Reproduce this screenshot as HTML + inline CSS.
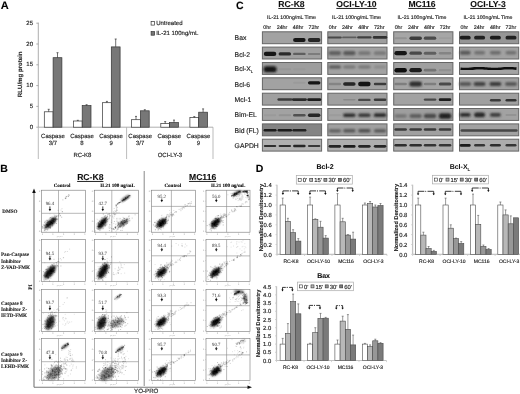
<!DOCTYPE html>
<html><head><meta charset="utf-8"><style>
html,body{margin:0;padding:0;background:#fff;width:520px;height:394px;overflow:hidden}
svg{display:block;text-rendering:geometricPrecision}
</style></head><body>
<svg width="520" height="394" viewBox="0 0 520 394">
<defs>
<filter id="b1" x="-30%" y="-80%" width="160%" height="260%"><feGaussianBlur stdDeviation="0.7"/></filter>
<filter id="b3" x="-30%" y="-100%" width="160%" height="300%"><feGaussianBlur stdDeviation="1.0"/></filter>
<filter id="b2" x="-50%" y="-50%" width="200%" height="200%"><feGaussianBlur stdDeviation="1.2"/></filter>
<filter id="soft" x="0" y="0" width="100%" height="100%"><feGaussianBlur stdDeviation="0.4"/></filter>
</defs>
<g filter="url(#soft)">
<rect width="520" height="394" fill="#fff"/>
<text x="0.8" y="9.2" font-size="11" text-anchor="start" font-weight="bold" fill="#000" stroke="#000" stroke-width="0.1" font-family='"Liberation Sans", sans-serif' >A</text>
<line x1="38.3" y1="22.6" x2="38.3" y2="127.2" stroke="#999" stroke-width="0.8" />
<line x1="38.3" y1="127.2" x2="213" y2="127.2" stroke="#999" stroke-width="0.8" />
<line x1="36.3" y1="127.2" x2="38.3" y2="127.2" stroke="#999" stroke-width="0.8" />
<text x="33" y="128.7" font-size="6" text-anchor="end" font-weight="normal" fill="#222" stroke="#222" stroke-width="0.15" font-family='"Liberation Sans", sans-serif' >0</text>
<line x1="36.3" y1="106.4" x2="38.3" y2="106.4" stroke="#999" stroke-width="0.8" />
<text x="33" y="107.9" font-size="6" text-anchor="end" font-weight="normal" fill="#222" stroke="#222" stroke-width="0.15" font-family='"Liberation Sans", sans-serif' >5</text>
<line x1="36.3" y1="85.6" x2="38.3" y2="85.6" stroke="#999" stroke-width="0.8" />
<text x="33" y="87.1" font-size="6" text-anchor="end" font-weight="normal" fill="#222" stroke="#222" stroke-width="0.15" font-family='"Liberation Sans", sans-serif' >10</text>
<line x1="36.3" y1="64.8" x2="38.3" y2="64.8" stroke="#999" stroke-width="0.8" />
<text x="33" y="66.3" font-size="6" text-anchor="end" font-weight="normal" fill="#222" stroke="#222" stroke-width="0.15" font-family='"Liberation Sans", sans-serif' >15</text>
<line x1="36.3" y1="44" x2="38.3" y2="44" stroke="#999" stroke-width="0.8" />
<text x="33" y="45.5" font-size="6" text-anchor="end" font-weight="normal" fill="#222" stroke="#222" stroke-width="0.15" font-family='"Liberation Sans", sans-serif' >20</text>
<line x1="36.3" y1="23.2" x2="38.3" y2="23.2" stroke="#999" stroke-width="0.8" />
<text x="33" y="24.7" font-size="6" text-anchor="end" font-weight="normal" fill="#222" stroke="#222" stroke-width="0.15" font-family='"Liberation Sans", sans-serif' >25</text>
<line x1="38.3" y1="127.2" x2="38.3" y2="159" stroke="#aaa" stroke-width="0.8" />
<line x1="126.6" y1="127.2" x2="126.6" y2="159" stroke="#aaa" stroke-width="0.8" />
<line x1="213" y1="127.2" x2="213" y2="159" stroke="#aaa" stroke-width="0.8" />
<text x="0" y="0" font-size="6.1" text-anchor="middle" font-weight="bold" fill="#222" stroke="#222" stroke-width="0.1" font-family='"Liberation Sans", sans-serif' transform="translate(22.1 74.3) rotate(-90)">RLU/mg protein</text>
<rect x="44.3" y="111.8" width="8.8" height="15.4" fill="#fff" stroke="#333" stroke-width="0.7" />
<line x1="48.7" y1="111.8" x2="48.7" y2="109.3" stroke="#333" stroke-width="0.7" />
<line x1="47.7" y1="109.3" x2="49.7" y2="109.3" stroke="#333" stroke-width="0.7" />
<rect x="53.1" y="57.7" width="8.8" height="69.5" fill="#777777" stroke="#333" stroke-width="0.7" />
<line x1="57.5" y1="57.7" x2="57.5" y2="52.7" stroke="#333" stroke-width="0.7" />
<line x1="56.5" y1="52.7" x2="58.5" y2="52.7" stroke="#333" stroke-width="0.7" />
<rect x="73.4" y="121" width="8.8" height="6.2" fill="#fff" stroke="#333" stroke-width="0.7" />
<line x1="77.8" y1="121" x2="77.8" y2="120.3" stroke="#333" stroke-width="0.7" />
<line x1="76.8" y1="120.3" x2="78.8" y2="120.3" stroke="#333" stroke-width="0.7" />
<rect x="82.2" y="105.6" width="8.8" height="21.6" fill="#777777" stroke="#333" stroke-width="0.7" />
<line x1="86.6" y1="105.6" x2="86.6" y2="104.7" stroke="#333" stroke-width="0.7" />
<line x1="85.6" y1="104.7" x2="87.6" y2="104.7" stroke="#333" stroke-width="0.7" />
<rect x="102.5" y="102.7" width="8.8" height="24.5" fill="#fff" stroke="#333" stroke-width="0.7" />
<line x1="106.9" y1="102.7" x2="106.9" y2="101.4" stroke="#333" stroke-width="0.7" />
<line x1="105.9" y1="101.4" x2="107.9" y2="101.4" stroke="#333" stroke-width="0.7" />
<rect x="111.3" y="46.9" width="8.8" height="80.3" fill="#777777" stroke="#333" stroke-width="0.7" />
<line x1="115.7" y1="46.9" x2="115.7" y2="39" stroke="#333" stroke-width="0.7" />
<line x1="114.7" y1="39" x2="116.7" y2="39" stroke="#333" stroke-width="0.7" />
<rect x="131.6" y="119.7" width="8.8" height="7.5" fill="#fff" stroke="#333" stroke-width="0.7" />
<line x1="136" y1="119.7" x2="136" y2="116.4" stroke="#333" stroke-width="0.7" />
<line x1="135" y1="116.4" x2="137" y2="116.4" stroke="#333" stroke-width="0.7" />
<rect x="140.4" y="110.8" width="8.8" height="16.4" fill="#777777" stroke="#333" stroke-width="0.7" />
<line x1="144.8" y1="110.8" x2="144.8" y2="109.7" stroke="#333" stroke-width="0.7" />
<line x1="143.8" y1="109.7" x2="145.8" y2="109.7" stroke="#333" stroke-width="0.7" />
<rect x="160.8" y="123.5" width="8.8" height="3.7" fill="#fff" stroke="#333" stroke-width="0.7" />
<line x1="165.2" y1="123.5" x2="165.2" y2="121.6" stroke="#333" stroke-width="0.7" />
<line x1="164.2" y1="121.6" x2="166.2" y2="121.6" stroke="#333" stroke-width="0.7" />
<rect x="169.6" y="122.6" width="8.8" height="4.6" fill="#777777" stroke="#333" stroke-width="0.7" />
<line x1="174" y1="122.6" x2="174" y2="120.1" stroke="#333" stroke-width="0.7" />
<line x1="173" y1="120.1" x2="175" y2="120.1" stroke="#333" stroke-width="0.7" />
<rect x="189.9" y="117.6" width="8.8" height="9.6" fill="#fff" stroke="#333" stroke-width="0.7" />
<line x1="194.3" y1="117.6" x2="194.3" y2="116.6" stroke="#333" stroke-width="0.7" />
<line x1="193.3" y1="116.6" x2="195.3" y2="116.6" stroke="#333" stroke-width="0.7" />
<rect x="198.7" y="112.2" width="8.8" height="15" fill="#777777" stroke="#333" stroke-width="0.7" />
<line x1="203.1" y1="112.2" x2="203.1" y2="108.9" stroke="#333" stroke-width="0.7" />
<line x1="202.1" y1="108.9" x2="204.1" y2="108.9" stroke="#333" stroke-width="0.7" />
<text x="52.9" y="138.2" font-size="6" text-anchor="middle" font-weight="normal" fill="#222" stroke="#222" stroke-width="0.15" font-family='"Liberation Sans", sans-serif' >Caspase</text>
<text x="52.9" y="145.3" font-size="6" text-anchor="middle" font-weight="normal" fill="#222" stroke="#222" stroke-width="0.15" font-family='"Liberation Sans", sans-serif' >3/7</text>
<text x="82" y="138.2" font-size="6" text-anchor="middle" font-weight="normal" fill="#222" stroke="#222" stroke-width="0.15" font-family='"Liberation Sans", sans-serif' >Caspase</text>
<text x="82" y="145.3" font-size="6" text-anchor="middle" font-weight="normal" fill="#222" stroke="#222" stroke-width="0.15" font-family='"Liberation Sans", sans-serif' >8</text>
<text x="111.1" y="138.2" font-size="6" text-anchor="middle" font-weight="normal" fill="#222" stroke="#222" stroke-width="0.15" font-family='"Liberation Sans", sans-serif' >Caspase</text>
<text x="111.1" y="145.3" font-size="6" text-anchor="middle" font-weight="normal" fill="#222" stroke="#222" stroke-width="0.15" font-family='"Liberation Sans", sans-serif' >9</text>
<text x="140.2" y="138.2" font-size="6" text-anchor="middle" font-weight="normal" fill="#222" stroke="#222" stroke-width="0.15" font-family='"Liberation Sans", sans-serif' >Caspase</text>
<text x="140.2" y="145.3" font-size="6" text-anchor="middle" font-weight="normal" fill="#222" stroke="#222" stroke-width="0.15" font-family='"Liberation Sans", sans-serif' >3/7</text>
<text x="169.3" y="138.2" font-size="6" text-anchor="middle" font-weight="normal" fill="#222" stroke="#222" stroke-width="0.15" font-family='"Liberation Sans", sans-serif' >Caspase</text>
<text x="169.3" y="145.3" font-size="6" text-anchor="middle" font-weight="normal" fill="#222" stroke="#222" stroke-width="0.15" font-family='"Liberation Sans", sans-serif' >8</text>
<text x="198.4" y="138.2" font-size="6" text-anchor="middle" font-weight="normal" fill="#222" stroke="#222" stroke-width="0.15" font-family='"Liberation Sans", sans-serif' >Caspase</text>
<text x="198.4" y="145.3" font-size="6" text-anchor="middle" font-weight="normal" fill="#222" stroke="#222" stroke-width="0.15" font-family='"Liberation Sans", sans-serif' >9</text>
<text x="82.4" y="156.8" font-size="6" text-anchor="middle" font-weight="normal" fill="#222" stroke="#222" stroke-width="0.15" font-family='"Liberation Sans", sans-serif' >RC-K8</text>
<text x="169.8" y="156.8" font-size="6" text-anchor="middle" font-weight="normal" fill="#222" stroke="#222" stroke-width="0.15" font-family='"Liberation Sans", sans-serif' >OCI-LY-3</text>
<rect x="151.1" y="21.5" width="3.5" height="3.6" fill="#fff" stroke="#333" stroke-width="0.7" />
<text x="156.2" y="25.3" font-size="6" text-anchor="start" font-weight="normal" fill="#222" stroke="#222" stroke-width="0.15" font-family='"Liberation Sans", sans-serif' >Untreated</text>
<rect x="151.1" y="31.6" width="3.5" height="3.6" fill="#777777" stroke="#333" stroke-width="0.7" />
<text x="156.2" y="35.4" font-size="6.0" text-anchor="start" font-weight="normal" fill="#222" stroke="#222" stroke-width="0.15" font-family='"Liberation Sans", sans-serif' >IL-21 100ng/mL</text>
<text x="236" y="8.9" font-size="10.5" text-anchor="start" font-weight="bold" fill="#000" stroke="#000" stroke-width="0.1" font-family='"Liberation Sans", sans-serif' >C</text>
<text x="291.5" y="7" font-size="8.6" text-anchor="middle" font-weight="bold" fill="#111" stroke="#111" stroke-width="0.1" font-family='"Liberation Sans", sans-serif' text-decoration="underline">RC-K8</text>
<text x="291.5" y="19.1" font-size="5.2" text-anchor="middle" font-weight="normal" fill="#222" stroke="#222" stroke-width="0.15" font-family='"Liberation Sans", sans-serif' >IL-21 100ng/mL Time</text>
<text x="267.2" y="28.7" font-size="5.3" text-anchor="middle" font-weight="normal" fill="#222" stroke="#222" stroke-width="0.15" font-family='"Liberation Sans", sans-serif' >0hr</text>
<text x="282" y="28.7" font-size="5.3" text-anchor="middle" font-weight="normal" fill="#222" stroke="#222" stroke-width="0.15" font-family='"Liberation Sans", sans-serif' >24hr</text>
<text x="298.1" y="28.7" font-size="5.3" text-anchor="middle" font-weight="normal" fill="#222" stroke="#222" stroke-width="0.15" font-family='"Liberation Sans", sans-serif' >48hr</text>
<text x="313.8" y="28.7" font-size="5.3" text-anchor="middle" font-weight="normal" fill="#222" stroke="#222" stroke-width="0.15" font-family='"Liberation Sans", sans-serif' >72hr</text>
<rect x="262.4" y="31.8" width="59.2" height="11.9" fill="rgb(162,162,162)" stroke="#666" stroke-width="1.0" />
<rect x="293.1" y="38" width="12.5" height="4.1" rx="2" fill="rgb(22,22,22)" filter="url(#b1)"/>
<rect x="307.9" y="38.1" width="12.5" height="3.8" rx="1.9" fill="rgb(37,37,37)" filter="url(#b1)"/>
<rect x="262.4" y="47.1" width="59.2" height="11.9" fill="rgb(160,160,160)" stroke="#666" stroke-width="1.0" />
<rect x="263.8" y="51.8" width="12.5" height="4.2" rx="2.1" fill="rgb(22,22,22)" filter="url(#b1)"/>
<rect x="278.6" y="52.2" width="12.5" height="3.4" rx="1.7" fill="rgb(43,43,43)" filter="url(#b1)"/>
<rect x="293.1" y="52.7" width="12.5" height="2.4" rx="1.2" fill="rgb(94,94,94)" filter="url(#b1)"/>
<rect x="307.9" y="52.9" width="12.5" height="2" rx="1" fill="rgb(123,123,123)" filter="url(#b1)"/>
<rect x="262.4" y="62.5" width="59.2" height="11.9" fill="rgb(158,158,158)" stroke="#666" stroke-width="1.0" />
<rect x="263.6" y="66.2" width="13" height="6" rx="2.5" fill="rgb(22,22,22)" filter="url(#b3)"/>
<rect x="278.6" y="68.2" width="12.5" height="2" rx="1" fill="rgb(150,150,150)" filter="url(#b1)"/>
<rect x="293.1" y="68.2" width="12.5" height="2" rx="1" fill="rgb(153,153,153)" filter="url(#b1)"/>
<rect x="262.4" y="77.8" width="59.2" height="11.9" fill="rgb(162,162,162)" stroke="#666" stroke-width="1.0" />
<rect x="293.1" y="81.8" width="12.5" height="2" rx="1" fill="rgb(154,154,154)" filter="url(#b1)"/>
<rect x="307.9" y="81.2" width="12.5" height="3.2" rx="1.6" fill="rgb(22,22,22)" filter="url(#b1)"/>
<rect x="262.4" y="93.2" width="59.2" height="11.9" fill="rgb(160,160,160)" stroke="#666" stroke-width="1.0" />
<rect x="277.4" y="98.3" width="15" height="2.5" rx="1.3" fill="rgb(58,58,58)" filter="url(#b1)"/>
<rect x="291.9" y="98.2" width="15" height="2.7" rx="1.4" fill="rgb(43,43,43)" filter="url(#b1)"/>
<rect x="307.2" y="98.2" width="14" height="2.9" rx="1.4" fill="rgb(29,29,29)" filter="url(#b1)"/>
<rect x="262.4" y="108.5" width="59.2" height="11.9" fill="rgb(162,162,162)" stroke="#666" stroke-width="1.0" />
<rect x="263.8" y="114.2" width="12.5" height="2" rx="1" fill="rgb(154,154,154)" filter="url(#b1)"/>
<rect x="278.6" y="114.2" width="12.5" height="2" rx="1" fill="rgb(147,147,147)" filter="url(#b1)"/>
<rect x="293.1" y="114" width="12.5" height="2.4" rx="1.2" fill="rgb(81,81,81)" filter="url(#b1)"/>
<rect x="307.9" y="113.5" width="12.5" height="3.4" rx="1.7" fill="rgb(37,37,37)" filter="url(#b1)"/>
<rect x="262.4" y="123.9" width="59.2" height="11.9" fill="rgb(132,132,132)" stroke="#666" stroke-width="1.0" />
<rect x="263.6" y="129" width="13" height="2.6" rx="1.3" fill="rgb(26,26,26)" filter="url(#b1)"/>
<rect x="277.6" y="129" width="14.5" height="2.6" rx="1.3" fill="rgb(26,26,26)" filter="url(#b1)"/>
<rect x="292.4" y="129.1" width="14" height="2.4" rx="1.2" fill="rgb(32,32,32)" filter="url(#b1)"/>
<rect x="262.4" y="139.2" width="59.2" height="11.9" fill="rgb(176,176,176)" stroke="#666" stroke-width="1.0" />
<rect x="263.8" y="144.9" width="12.5" height="2.2" rx="1.1" fill="rgb(47,47,47)" filter="url(#b1)"/>
<rect x="278.6" y="144.9" width="12.5" height="2.2" rx="1.1" fill="rgb(47,47,47)" filter="url(#b1)"/>
<rect x="293.1" y="144.8" width="12.5" height="2.4" rx="1.2" fill="rgb(39,39,39)" filter="url(#b1)"/>
<rect x="307.9" y="144.9" width="12.5" height="2.2" rx="1.1" fill="rgb(55,55,55)" filter="url(#b1)"/>
<text x="356.5" y="7" font-size="8.6" text-anchor="middle" font-weight="bold" fill="#111" stroke="#111" stroke-width="0.1" font-family='"Liberation Sans", sans-serif' text-decoration="underline">OCI-LY-10</text>
<text x="356.5" y="19.1" font-size="5.2" text-anchor="middle" font-weight="normal" fill="#222" stroke="#222" stroke-width="0.15" font-family='"Liberation Sans", sans-serif' >IL-21 100ng/mL Time</text>
<text x="332.6" y="28.7" font-size="5.3" text-anchor="middle" font-weight="normal" fill="#222" stroke="#222" stroke-width="0.15" font-family='"Liberation Sans", sans-serif' >0hr</text>
<text x="347.4" y="28.7" font-size="5.3" text-anchor="middle" font-weight="normal" fill="#222" stroke="#222" stroke-width="0.15" font-family='"Liberation Sans", sans-serif' >24hr</text>
<text x="363.5" y="28.7" font-size="5.3" text-anchor="middle" font-weight="normal" fill="#222" stroke="#222" stroke-width="0.15" font-family='"Liberation Sans", sans-serif' >48hr</text>
<text x="379.2" y="28.7" font-size="5.3" text-anchor="middle" font-weight="normal" fill="#222" stroke="#222" stroke-width="0.15" font-family='"Liberation Sans", sans-serif' >72hr</text>
<rect x="327.8" y="31.8" width="59.2" height="11.9" fill="rgb(158,158,158)" stroke="#666" stroke-width="1.0" />
<rect x="327.8" y="36.4" width="14" height="2" rx="1" fill="rgb(72,72,72)" filter="url(#b1)"/>
<rect x="342.1" y="36.5" width="14.5" height="1.8" rx="0.9" fill="rgb(93,93,93)" filter="url(#b1)"/>
<rect x="357.1" y="36.2" width="14.5" height="2.3" rx="1.1" fill="rgb(65,65,65)" filter="url(#b1)"/>
<rect x="372.8" y="36" width="14.5" height="2.8" rx="1.4" fill="rgb(50,50,50)" filter="url(#b1)"/>
<rect x="327.8" y="47.1" width="59.2" height="11.9" fill="rgb(162,162,162)" stroke="#666" stroke-width="1.0" />
<rect x="328.6" y="51.1" width="12.5" height="4.2" rx="2.1" fill="rgb(95,95,95)" filter="url(#b3)"/>
<rect x="343.1" y="51.1" width="12.5" height="4.2" rx="2.1" fill="rgb(88,88,88)" filter="url(#b3)"/>
<rect x="358.1" y="51.3" width="12.5" height="3.8" rx="1.9" fill="rgb(117,117,117)" filter="url(#b3)"/>
<rect x="373.8" y="51.3" width="12.5" height="3.8" rx="1.9" fill="rgb(120,120,120)" filter="url(#b3)"/>
<rect x="327.8" y="62.5" width="59.2" height="11.9" fill="rgb(162,162,162)" stroke="#666" stroke-width="1.0" />
<rect x="328.6" y="65.4" width="12.5" height="3.2" rx="1.6" fill="rgb(88,88,88)" filter="url(#b3)"/>
<rect x="343.1" y="65.5" width="12.5" height="3" rx="1.5" fill="rgb(117,117,117)" filter="url(#b3)"/>
<rect x="358.1" y="65.5" width="12.5" height="3" rx="1.5" fill="rgb(117,117,117)" filter="url(#b3)"/>
<rect x="373.8" y="65.5" width="12.5" height="3" rx="1.5" fill="rgb(139,139,139)" filter="url(#b3)"/>
<rect x="327.8" y="77.8" width="59.2" height="11.9" fill="rgb(162,162,162)" stroke="#666" stroke-width="1.0" />
<rect x="328.6" y="82.8" width="12.5" height="2.4" rx="1.2" fill="rgb(132,132,132)" filter="url(#b1)"/>
<rect x="343.1" y="82.2" width="12.5" height="3.6" rx="1.8" fill="rgb(37,37,37)" filter="url(#b1)"/>
<rect x="358.1" y="81.8" width="12.5" height="4.4" rx="2.2" fill="rgb(22,22,22)" filter="url(#b1)"/>
<rect x="373.8" y="82.7" width="12.5" height="2.6" rx="1.3" fill="rgb(59,59,59)" filter="url(#b1)"/>
<rect x="327.8" y="93.2" width="59.2" height="11.9" fill="rgb(160,160,160)" stroke="#666" stroke-width="1.0" />
<rect x="343.1" y="99.1" width="12.5" height="1.5" rx="0.8" fill="rgb(138,138,138)" filter="url(#b1)"/>
<rect x="358.1" y="98.7" width="12.5" height="2.4" rx="1.2" fill="rgb(73,73,73)" filter="url(#b1)"/>
<rect x="373.8" y="98.6" width="12.5" height="2.5" rx="1.3" fill="rgb(58,58,58)" filter="url(#b1)"/>
<rect x="327.8" y="108.5" width="59.2" height="11.9" fill="rgb(164,164,164)" stroke="#666" stroke-width="1.0" />
<rect x="328.6" y="114.2" width="12.5" height="2" rx="1" fill="rgb(156,156,156)" filter="url(#b1)"/>
<rect x="343.1" y="113.4" width="12.5" height="3.6" rx="1.8" fill="rgb(44,44,44)" filter="url(#b3)"/>
<rect x="358.1" y="113.5" width="12.5" height="3.4" rx="1.7" fill="rgb(52,52,52)" filter="url(#b3)"/>
<rect x="373.8" y="113.3" width="12.5" height="3.8" rx="1.9" fill="rgb(44,44,44)" filter="url(#b3)"/>
<rect x="327.8" y="123.9" width="59.2" height="11.9" fill="rgb(160,160,160)" stroke="#666" stroke-width="1.0" />
<rect x="328.6" y="129.2" width="12.5" height="3.2" rx="1.6" fill="rgb(94,94,94)" filter="url(#b3)"/>
<rect x="343.1" y="129.1" width="12.5" height="3.4" rx="1.7" fill="rgb(87,87,87)" filter="url(#b3)"/>
<rect x="358.1" y="129.1" width="12.5" height="3.4" rx="1.7" fill="rgb(80,80,80)" filter="url(#b3)"/>
<rect x="373.8" y="129.2" width="12.5" height="3.2" rx="1.6" fill="rgb(87,87,87)" filter="url(#b3)"/>
<rect x="327.8" y="139.2" width="59.2" height="11.9" fill="rgb(174,174,174)" stroke="#666" stroke-width="1.0" />
<rect x="328.6" y="144.9" width="12.5" height="2.8" rx="1.4" fill="rgb(38,38,38)" filter="url(#b1)"/>
<rect x="343.1" y="144.9" width="12.5" height="2.9" rx="1.4" fill="rgb(30,30,30)" filter="url(#b1)"/>
<rect x="358.1" y="144.9" width="12.5" height="2.8" rx="1.4" fill="rgb(38,38,38)" filter="url(#b1)"/>
<rect x="373.8" y="144.9" width="12.5" height="2.8" rx="1.4" fill="rgb(38,38,38)" filter="url(#b1)"/>
<text x="422" y="7" font-size="8.6" text-anchor="middle" font-weight="bold" fill="#111" stroke="#111" stroke-width="0.1" font-family='"Liberation Sans", sans-serif' text-decoration="underline">MC116</text>
<text x="422" y="19.1" font-size="5.2" text-anchor="middle" font-weight="normal" fill="#222" stroke="#222" stroke-width="0.15" font-family='"Liberation Sans", sans-serif' >IL-21 100ng/mL Time</text>
<text x="398.5" y="28.7" font-size="5.3" text-anchor="middle" font-weight="normal" fill="#222" stroke="#222" stroke-width="0.15" font-family='"Liberation Sans", sans-serif' >0hr</text>
<text x="413.3" y="28.7" font-size="5.3" text-anchor="middle" font-weight="normal" fill="#222" stroke="#222" stroke-width="0.15" font-family='"Liberation Sans", sans-serif' >24hr</text>
<text x="429.4" y="28.7" font-size="5.3" text-anchor="middle" font-weight="normal" fill="#222" stroke="#222" stroke-width="0.15" font-family='"Liberation Sans", sans-serif' >48hr</text>
<text x="445.1" y="28.7" font-size="5.3" text-anchor="middle" font-weight="normal" fill="#222" stroke="#222" stroke-width="0.15" font-family='"Liberation Sans", sans-serif' >72hr</text>
<rect x="393.7" y="31.8" width="59.2" height="11.9" fill="rgb(166,166,166)" stroke="#666" stroke-width="1.0" />
<rect x="394.4" y="37.2" width="12.5" height="2" rx="1" fill="rgb(147,147,147)" filter="url(#b1)"/>
<rect x="409.4" y="36.5" width="12.5" height="3.4" rx="1.7" fill="rgb(60,60,60)" filter="url(#b1)"/>
<rect x="423.8" y="36.6" width="12.5" height="3.2" rx="1.6" fill="rgb(75,75,75)" filter="url(#b1)"/>
<rect x="438.8" y="37.3" width="12.5" height="1.8" rx="0.9" fill="rgb(158,158,158)" filter="url(#b1)"/>
<rect x="393.7" y="47.1" width="59.2" height="11.9" fill="rgb(162,162,162)" stroke="#666" stroke-width="1.0" />
<rect x="394.4" y="51.1" width="12.5" height="4.2" rx="2.1" fill="rgb(22,22,22)" filter="url(#b1)"/>
<rect x="409.4" y="51.6" width="12.5" height="3.2" rx="1.6" fill="rgb(73,73,73)" filter="url(#b1)"/>
<rect x="423.8" y="51.7" width="12.5" height="3" rx="1.5" fill="rgb(95,95,95)" filter="url(#b1)"/>
<rect x="438.8" y="51.9" width="12.5" height="2.6" rx="1.3" fill="rgb(132,132,132)" filter="url(#b1)"/>
<rect x="393.7" y="62.5" width="59.2" height="11.9" fill="rgb(160,160,160)" stroke="#666" stroke-width="1.0" />
<rect x="394.4" y="67.9" width="12.5" height="4.6" rx="2.3" fill="rgb(15,15,15)" filter="url(#b1)"/>
<rect x="409.4" y="68" width="12.5" height="4.3" rx="2.2" fill="rgb(29,29,29)" filter="url(#b1)"/>
<rect x="423.8" y="68.8" width="12.5" height="2.7" rx="1.4" fill="rgb(116,116,116)" filter="url(#b1)"/>
<rect x="438.8" y="69.1" width="12.5" height="2.2" rx="1.1" fill="rgb(145,145,145)" filter="url(#b1)"/>
<rect x="393.7" y="77.8" width="59.2" height="11.9" fill="rgb(164,164,164)" stroke="#666" stroke-width="1.0" />
<rect x="394.4" y="82.7" width="12.5" height="2.6" rx="1.3" fill="rgb(126,126,126)" filter="url(#b1)"/>
<rect x="409.4" y="81.5" width="12.5" height="5" rx="2.5" fill="rgb(44,44,44)" filter="url(#b3)"/>
<rect x="423.8" y="82.8" width="12.5" height="2.4" rx="1.2" fill="rgb(126,126,126)" filter="url(#b1)"/>
<rect x="438.8" y="82.5" width="12.5" height="3" rx="1.5" fill="rgb(74,74,74)" filter="url(#b1)"/>
<rect x="393.7" y="93.2" width="59.2" height="11.9" fill="rgb(162,162,162)" stroke="#666" stroke-width="1.0" />
<rect x="423.8" y="98.4" width="12.5" height="2.4" rx="1.2" fill="rgb(73,73,73)" filter="url(#b1)"/>
<rect x="438.8" y="98.2" width="12.5" height="2.9" rx="1.4" fill="rgb(29,29,29)" filter="url(#b1)"/>
<rect x="393.7" y="108.5" width="59.2" height="11.9" fill="rgb(158,158,158)" stroke="#666" stroke-width="1.0" />
<rect x="394.4" y="114.2" width="12.5" height="3.5" rx="1.8" fill="rgb(115,115,115)" filter="url(#b3)"/>
<rect x="409.4" y="114" width="12.5" height="4" rx="2" fill="rgb(93,93,93)" filter="url(#b3)"/>
<rect x="423.8" y="113.8" width="12.5" height="4.5" rx="2.2" fill="rgb(72,72,72)" filter="url(#b3)"/>
<rect x="438.8" y="113.2" width="12.5" height="5.5" rx="2.5" fill="rgb(36,36,36)" filter="url(#b3)"/>
<rect x="393.7" y="123.9" width="59.2" height="11.9" fill="rgb(160,160,160)" stroke="#666" stroke-width="1.0" />
<rect x="394.4" y="128.3" width="12.5" height="2.5" rx="1.3" fill="rgb(58,58,58)" filter="url(#b1)"/>
<rect x="409.4" y="128.3" width="12.5" height="2.5" rx="1.3" fill="rgb(58,58,58)" filter="url(#b1)"/>
<rect x="423.8" y="128.3" width="12.5" height="2.5" rx="1.3" fill="rgb(58,58,58)" filter="url(#b1)"/>
<rect x="438.8" y="128.3" width="12.5" height="2.5" rx="1.3" fill="rgb(58,58,58)" filter="url(#b1)"/>
<rect x="393.7" y="139.2" width="59.2" height="11.9" fill="rgb(172,172,172)" stroke="#666" stroke-width="1.0" />
<rect x="394.4" y="143.9" width="12.5" height="2.7" rx="1.4" fill="rgb(46,46,46)" filter="url(#b1)"/>
<rect x="409.4" y="143.9" width="12.5" height="2.7" rx="1.4" fill="rgb(46,46,46)" filter="url(#b1)"/>
<rect x="423.8" y="144" width="12.5" height="2.6" rx="1.3" fill="rgb(54,54,54)" filter="url(#b1)"/>
<rect x="438.8" y="144" width="12.5" height="2.6" rx="1.3" fill="rgb(54,54,54)" filter="url(#b1)"/>
<text x="488" y="7" font-size="8.6" text-anchor="middle" font-weight="bold" fill="#111" stroke="#111" stroke-width="0.1" font-family='"Liberation Sans", sans-serif' text-decoration="underline">OCI-LY-3</text>
<text x="488" y="19.1" font-size="5.2" text-anchor="middle" font-weight="normal" fill="#222" stroke="#222" stroke-width="0.15" font-family='"Liberation Sans", sans-serif' >IL-21 100ng/mL Time</text>
<text x="464.3" y="28.7" font-size="5.3" text-anchor="middle" font-weight="normal" fill="#222" stroke="#222" stroke-width="0.15" font-family='"Liberation Sans", sans-serif' >0hr</text>
<text x="479.1" y="28.7" font-size="5.3" text-anchor="middle" font-weight="normal" fill="#222" stroke="#222" stroke-width="0.15" font-family='"Liberation Sans", sans-serif' >24hr</text>
<text x="495.2" y="28.7" font-size="5.3" text-anchor="middle" font-weight="normal" fill="#222" stroke="#222" stroke-width="0.15" font-family='"Liberation Sans", sans-serif' >48hr</text>
<text x="510.9" y="28.7" font-size="5.3" text-anchor="middle" font-weight="normal" fill="#222" stroke="#222" stroke-width="0.15" font-family='"Liberation Sans", sans-serif' >72hr</text>
<rect x="459.5" y="31.8" width="59.2" height="11.9" fill="rgb(150,150,150)" stroke="#666" stroke-width="1.0" />
<rect x="459.7" y="35.7" width="11" height="3.9" rx="2" fill="rgb(28,28,28)" filter="url(#b1)"/>
<rect x="474.1" y="35.8" width="11" height="3.8" rx="1.9" fill="rgb(35,35,35)" filter="url(#b1)"/>
<rect x="489.9" y="35.7" width="11" height="3.9" rx="2" fill="rgb(28,28,28)" filter="url(#b1)"/>
<rect x="505.5" y="35.8" width="11" height="3.8" rx="1.9" fill="rgb(35,35,35)" filter="url(#b1)"/>
<rect x="459.5" y="47.1" width="59.2" height="11.9" fill="rgb(162,162,162)" stroke="#666" stroke-width="1.0" />
<rect x="459.7" y="50.7" width="11" height="4" rx="2" fill="rgb(88,88,88)" filter="url(#b3)"/>
<rect x="474.1" y="50.9" width="11" height="3.6" rx="1.8" fill="rgb(110,110,110)" filter="url(#b3)"/>
<rect x="489.9" y="50.9" width="11" height="3.6" rx="1.8" fill="rgb(103,103,103)" filter="url(#b3)"/>
<rect x="505.5" y="50.9" width="11" height="3.6" rx="1.8" fill="rgb(110,110,110)" filter="url(#b3)"/>
<rect x="459.5" y="62.5" width="59.2" height="11.9" fill="rgb(164,164,164)" stroke="#666" stroke-width="1.0" />
<path d="M460.5 68.8 L462.5 69 L464.5 69 L466.5 69 L468.5 69 L470.5 68.8 L472.5 68.6 L474.5 68.4 L476.5 68.3 L478.5 68.2 L480.5 68.2 L482.5 68.2 L484.5 68.4 L486.5 68.5 L488.5 68.7 L490.5 68.9 L492.5 69 L494.5 69 L496.5 69 L498.5 68.9 L500.5 68.7 L502.5 68.5 L504.5 68.3 L506.5 68.2 L508.5 68.2 L510.5 68.2 L512.5 68.3 L514.5 68.5 L516.5 68.6" stroke="#111" stroke-width="2.6" fill="none" filter="url(#b1)"/>
<rect x="459.5" y="77.8" width="59.2" height="11.9" fill="rgb(160,160,160)" stroke="#666" stroke-width="1.0" />
<rect x="459.2" y="82.3" width="12" height="3.4" rx="1.7" fill="rgb(80,80,80)" filter="url(#b3)"/>
<rect x="473.6" y="82.1" width="12" height="3.8" rx="1.9" fill="rgb(65,65,65)" filter="url(#b3)"/>
<rect x="489.4" y="82" width="12" height="4" rx="2" fill="rgb(58,58,58)" filter="url(#b3)"/>
<rect x="505" y="82.3" width="12" height="3.4" rx="1.7" fill="rgb(80,80,80)" filter="url(#b3)"/>
<rect x="459.5" y="93.2" width="59.2" height="11.9" fill="rgb(160,160,160)" stroke="#666" stroke-width="1.0" />
<rect x="489.9" y="98.9" width="11" height="2.5" rx="1.3" fill="rgb(58,58,58)" filter="url(#b1)"/>
<rect x="505.5" y="98.9" width="11" height="2.6" rx="1.3" fill="rgb(51,51,51)" filter="url(#b1)"/>
<rect x="459.5" y="108.5" width="59.2" height="11.9" fill="rgb(162,162,162)" stroke="#666" stroke-width="1.0" />
<rect x="459.7" y="113.1" width="11" height="3.6" rx="1.8" fill="rgb(44,44,44)" filter="url(#b3)"/>
<rect x="474.1" y="112.6" width="11" height="4.6" rx="2.3" fill="rgb(37,37,37)" filter="url(#b3)"/>
<rect x="489.9" y="113.1" width="11" height="3.6" rx="1.8" fill="rgb(59,59,59)" filter="url(#b3)"/>
<rect x="505.5" y="113.9" width="11" height="2" rx="1" fill="rgb(147,147,147)" filter="url(#b1)"/>
<rect x="459.5" y="123.9" width="59.2" height="11.9" fill="rgb(162,162,162)" stroke="#666" stroke-width="1.0" />
<rect x="460.5" y="129.2" width="57.2" height="2.6" rx="1.3" fill="rgb(70,70,70)" filter="url(#b1)"/>
<rect x="459.5" y="139.2" width="59.2" height="11.9" fill="rgb(172,172,172)" stroke="#666" stroke-width="1.0" />
<rect x="459.7" y="143.9" width="11" height="2.9" rx="1.4" fill="rgb(30,30,30)" filter="url(#b1)"/>
<rect x="474.1" y="144" width="11" height="2.6" rx="1.3" fill="rgb(54,54,54)" filter="url(#b1)"/>
<rect x="489.9" y="143.9" width="11" height="2.7" rx="1.4" fill="rgb(46,46,46)" filter="url(#b1)"/>
<rect x="505.5" y="144" width="11" height="2.6" rx="1.3" fill="rgb(54,54,54)" filter="url(#b1)"/>
<text x="234.6" y="40" font-size="6.8" text-anchor="start" font-weight="normal" fill="#222" stroke="#222" stroke-width="0.15" font-family='"Liberation Sans", sans-serif' >Bax</text>
<text x="234.6" y="56.7" font-size="6.8" text-anchor="start" font-weight="normal" fill="#222" stroke="#222" stroke-width="0.15" font-family='"Liberation Sans", sans-serif' >Bcl-2</text>
<text x="234.6" y="71.3" font-size="6.8" text-anchor="start" font-weight="normal" fill="#222" stroke="#222" stroke-width="0.15" font-family='"Liberation Sans", sans-serif' >Bcl-X<tspan font-size="4" dy="1.5">L</tspan></text>
<text x="234.6" y="87" font-size="6.8" text-anchor="start" font-weight="normal" fill="#222" stroke="#222" stroke-width="0.15" font-family='"Liberation Sans", sans-serif' >Bcl-6</text>
<text x="234.6" y="102.2" font-size="6.8" text-anchor="start" font-weight="normal" fill="#222" stroke="#222" stroke-width="0.15" font-family='"Liberation Sans", sans-serif' >Mcl-1</text>
<text x="234.6" y="117.4" font-size="6.8" text-anchor="start" font-weight="normal" fill="#222" stroke="#222" stroke-width="0.15" font-family='"Liberation Sans", sans-serif' >Bim-EL</text>
<text x="234.6" y="132.8" font-size="6.8" text-anchor="start" font-weight="normal" fill="#222" stroke="#222" stroke-width="0.15" font-family='"Liberation Sans", sans-serif' >Bid (FL)</text>
<text x="234.6" y="147.8" font-size="6.8" text-anchor="start" font-weight="normal" fill="#222" stroke="#222" stroke-width="0.15" font-family='"Liberation Sans", sans-serif' >GAPDH</text>
<text x="0.3" y="172.2" font-size="10.5" text-anchor="start" font-weight="bold" fill="#000" stroke="#000" stroke-width="0.1" font-family='"Liberation Sans", sans-serif' >B</text>
<text x="90.3" y="180" font-size="8.6" text-anchor="middle" font-weight="bold" fill="#111" stroke="#111" stroke-width="0.1" font-family='"Liberation Sans", sans-serif' text-decoration="underline">RC-K8</text>
<text x="202.6" y="180" font-size="8.6" text-anchor="middle" font-weight="bold" fill="#111" stroke="#111" stroke-width="0.1" font-family='"Liberation Sans", sans-serif' text-decoration="underline">MC116</text>
<text x="62" y="187" font-size="5.0" text-anchor="middle" font-weight="bold" fill="#000" stroke="#000" stroke-width="0.1" font-family='"Liberation Serif", serif' >Control</text>
<text x="117.5" y="186.8" font-size="5.0" text-anchor="middle" font-weight="bold" fill="#000" stroke="#000" stroke-width="0.1" font-family='"Liberation Serif", serif' >IL21 100 ng/mL</text>
<text x="172.8" y="187.2" font-size="5.0" text-anchor="middle" font-weight="bold" fill="#000" stroke="#000" stroke-width="0.1" font-family='"Liberation Serif", serif' >Control</text>
<text x="228.2" y="187" font-size="5.0" text-anchor="middle" font-weight="bold" fill="#000" stroke="#000" stroke-width="0.1" font-family='"Liberation Serif", serif' >IL21 100 ng/mL</text>
<line x1="34" y1="192" x2="34" y2="387.3" stroke="#777" stroke-width="1.1" />
<line x1="34" y1="387.3" x2="248" y2="387.3" stroke="#777" stroke-width="1.1" />
<path d="M34 188.5 L32.2 193 L35.8 193 Z" fill="#111"/>
<path d="M252 387.3 L247.5 385.5 L247.5 389.1 Z" fill="#111"/>
<line x1="144.2" y1="171" x2="144.2" y2="386" stroke="#888" stroke-width="1.0" />
<text x="0" y="0" font-size="5.5" text-anchor="middle" font-weight="bold" fill="#222" stroke="#222" stroke-width="0.1" font-family='"Liberation Serif", serif' transform="translate(31.6 287) rotate(-90)">PI</text>
<text x="134" y="393" font-size="6.2" text-anchor="start" font-weight="normal" fill="#222" stroke="#222" stroke-width="0.15" font-family='"Liberation Sans", sans-serif' >YO-PRO</text>
<text x="2.3" y="213.3" font-size="5.1" text-anchor="start" font-weight="bold" fill="#222" stroke="#222" stroke-width="0.1" font-family='"Liberation Serif", serif' >DMSO</text>
<text x="1" y="256.4" font-size="5.1" text-anchor="start" font-weight="bold" fill="#222" stroke="#222" stroke-width="0.1" font-family='"Liberation Serif", serif' >Pan-Caspase</text>
<text x="1" y="262.6" font-size="5.1" text-anchor="start" font-weight="bold" fill="#222" stroke="#222" stroke-width="0.1" font-family='"Liberation Serif", serif' >Inhibitor</text>
<text x="1" y="268.7" font-size="5.1" text-anchor="start" font-weight="bold" fill="#222" stroke="#222" stroke-width="0.1" font-family='"Liberation Serif", serif' >Z-VAD-FMK</text>
<text x="1" y="304.7" font-size="5.1" text-anchor="start" font-weight="bold" fill="#222" stroke="#222" stroke-width="0.1" font-family='"Liberation Serif", serif' >Caspase 8</text>
<text x="1" y="310.8" font-size="5.1" text-anchor="start" font-weight="bold" fill="#222" stroke="#222" stroke-width="0.1" font-family='"Liberation Serif", serif' >Inhibitor Z-</text>
<text x="1" y="317" font-size="5.1" text-anchor="start" font-weight="bold" fill="#222" stroke="#222" stroke-width="0.1" font-family='"Liberation Serif", serif' >IETD-FMK</text>
<text x="1" y="355.5" font-size="5.1" text-anchor="start" font-weight="bold" fill="#222" stroke="#222" stroke-width="0.1" font-family='"Liberation Serif", serif' >Caspase 9</text>
<text x="1" y="361.6" font-size="5.1" text-anchor="start" font-weight="bold" fill="#222" stroke="#222" stroke-width="0.1" font-family='"Liberation Serif", serif' >Inhibitor Z-</text>
<text x="1" y="367.8" font-size="5.1" text-anchor="start" font-weight="bold" fill="#222" stroke="#222" stroke-width="0.1" font-family='"Liberation Serif", serif' >LEHD-FMK</text>
<rect x="41.6" y="190.2" width="44" height="42" fill="#fff" stroke="#777" stroke-width="0.6" />
<line x1="58.5" y1="190.2" x2="58.5" y2="232.2" stroke="#888" stroke-width="0.6" />
<line x1="41.6" y1="213.3" x2="85.6" y2="213.3" stroke="#888" stroke-width="0.6" />
<line x1="40.6" y1="231.4" x2="41.6" y2="231.4" stroke="#aaa" stroke-width="0.4" />
<text x="40" y="232.3" font-size="2.4" fill="#999" font-family='"Liberation Sans", sans-serif' text-anchor="end">1</text>
<line x1="40.6" y1="221.3" x2="41.6" y2="221.3" stroke="#aaa" stroke-width="0.4" />
<text x="40" y="222.2" font-size="2.4" fill="#999" font-family='"Liberation Sans", sans-serif' text-anchor="end">1</text>
<line x1="40.6" y1="211.2" x2="41.6" y2="211.2" stroke="#aaa" stroke-width="0.4" />
<text x="40" y="212.1" font-size="2.4" fill="#999" font-family='"Liberation Sans", sans-serif' text-anchor="end">1</text>
<line x1="40.6" y1="201.1" x2="41.6" y2="201.1" stroke="#aaa" stroke-width="0.4" />
<text x="40" y="202" font-size="2.4" fill="#999" font-family='"Liberation Sans", sans-serif' text-anchor="end">1</text>
<line x1="40.6" y1="191" x2="41.6" y2="191" stroke="#aaa" stroke-width="0.4" />
<text x="40" y="191.9" font-size="2.4" fill="#999" font-family='"Liberation Sans", sans-serif' text-anchor="end">1</text>
<line x1="42.4" y1="232.2" x2="42.4" y2="233.2" stroke="#aaa" stroke-width="0.4" />
<text x="42.4" y="235.2" font-size="2.4" fill="#999" font-family='"Liberation Sans", sans-serif' text-anchor="middle">1</text>
<line x1="53" y1="232.2" x2="53" y2="233.2" stroke="#aaa" stroke-width="0.4" />
<text x="53" y="235.2" font-size="2.4" fill="#999" font-family='"Liberation Sans", sans-serif' text-anchor="middle">1</text>
<line x1="63.6" y1="232.2" x2="63.6" y2="233.2" stroke="#aaa" stroke-width="0.4" />
<text x="63.6" y="235.2" font-size="2.4" fill="#999" font-family='"Liberation Sans", sans-serif' text-anchor="middle">1</text>
<line x1="74.2" y1="232.2" x2="74.2" y2="233.2" stroke="#aaa" stroke-width="0.4" />
<text x="74.2" y="235.2" font-size="2.4" fill="#999" font-family='"Liberation Sans", sans-serif' text-anchor="middle">1</text>
<line x1="84.8" y1="232.2" x2="84.8" y2="233.2" stroke="#aaa" stroke-width="0.4" />
<text x="84.8" y="235.2" font-size="2.4" fill="#999" font-family='"Liberation Sans", sans-serif' text-anchor="middle">1</text>
<text x="59.5" y="236.8" font-size="2.0" fill="#aaa" font-family='"Liberation Sans", sans-serif' text-anchor="middle">yo-pro</text>
<text x="49.9" y="205.1" font-size="4.8" text-anchor="middle" fill="#333" font-family='"Liberation Serif", serif'>96.4</text>
<line x1="49.9" y1="206.4" x2="49.9" y2="209.2" stroke="#111" stroke-width="0.8" />
<path d="M48.6 208.9 L51.2 208.9 L49.9 211.2 Z" fill="#111"/>
<ellipse cx="50.5" cy="223" rx="7.5" ry="2.7" fill="#000" fill-opacity="0.92" transform="rotate(-43 50.5 223)" filter="url(#b2)"/>
<path d="M46.5 227.7h0m7-8.8h0m-7.9 8.5h0m8.1-4.5h0m-9.3 2.4h0m9.3-4h0m3.7-2.2h0m-7.6 3.9h0m9.7-9.2h0m-13.3 10.3h0m4.8-1.2h0m-1.8 1.2h0m3.2-1.1h0m2.4-3.4h0m-9.9 10.5h0m0.2-2.5h0m0 0.4h0m2.8-2h0m14.6-14.3h0m-10.6 6.6h0m-1.6 6.6h0m0.3-1.1h0m-1-2.6h0m1.9-1.3h0m5.2-4h0m-3.7 4.8h0m0.2-1.8h0m0.8 0.5h0m1.9 0.2h0m-5.9 1.8h0m3.9-0.4h0m2.1-4.1h0m-2.8 4.9h0m-1.4 0.5h0m-1.4-0.8h0m-4.1 4.4h0m8.3-2.8h0m0.8-2h0m-1.2 0.2h0m-2 2.1h0m4.4-6.9h0m-6.1 11.6h0m2.2-4.6h0m-0.5-5.1h0m9.5-1.2h0m-9.6 6.2h0m-2.3-2.1h0m0.8 2.6h0m4.9-3.7h0m-3 4.5h0m-3.8 2h0m5.5-7.9h0m-11.4 9h0m9.3-4.9h0m2.8-6.6h0m-3.6 7.6h0m-4.4-3.7h0m9.5 3.3h0m-3.4-5.2h0m-3.7 6.4h0m11.1-9.3h0m-7.5 9.4h0m-0.3 1.1h0m-5.2-1.2h0m7.6-2.2h0m-1.7-1.3h0m-10.4 7h0m4.7-3.9h0m4.6-3.8h0m1.3-0.1h0m-4.1 3.9h0m3.8-1.6h0m-4.7 1.6h0m-0.9 5.6h0m8-12.1h0m-8.5 5.1h0m4.3-0.2h0m7.4-6.8h0m-14.3 6.4h0m11.4-3.8h0m-11.1 10.2h0m10.5-8.7h0m-8.2 0.6h0m0.9 0.7h0m1.9-3.3h0m-1.1 9.8h0m6.2-12h0m-9 13.7h0m6.3-10.8h0m-5.2 5.7h0m-1.8 1.7h0m10.7-6.4h0m1.9-3.8h0m-9.2 6.2h0m-0.4-0.5h0m-3.4 8.4h0m12-10.7h0m-1.2-0.5h0m-7.7 6.8h0m-0.3-2.9h0m-5.3 4h0m8.3-3.5h0m-0.1 3.4h0m1.3-3.4h0m2-5.5h0m-9.6 13.1h0m5.4-3.6h0m3.3-4h0m-2.4-5.7h0m1.7 2.1h0m-5.1 5.4h0m7.3-3.4h0m-2.5-4.4h0m-6.7 4.5h0m5.6 2.5h0m-2.9 1.7h0m4.7-2.3h0m-6.3 1h0m3.6 3.4h0m4.3-8.9h0m-2.8 3.3h0m-0.5-0.4h0m-3.4 0.4h0m2.7 5.1h0m2.2-6.2h0m-2.7 2.5h0m1.2-2.9h0m0.5 1.8h0m-4.8 1.8h0" stroke="#000" stroke-opacity="0.35" stroke-width="0.75" stroke-linecap="square" fill="none"/>
<path d="M43.6 225.1h0m6.3-11.2h0m-1.9 8.9h0m-0.2 3.2h0m8.2-7.8h0m-7.4 4.1h0m3.2 3.3h0m-5.5-3.4h0m-4.1 4h0m3.9 5.4h0m5.6-10.7h0m4.4-5.8h0m-0.4 6.3h0m-7.8 7.7h0m6.2-14.5h0m0.6 2.9h0m-7.2 6h0m-2.3-3.1h0m-2 4.3h0" stroke="#000" stroke-opacity="0.15" stroke-width="0.75" stroke-linecap="square" fill="none"/>
<path d="M65.2 198.2h0m3.4-3.6h0m-2.9 3.3h0m-0.2 0.7h0m1-2h0m-3.6 3.3h0m5.5-3.7h0m-0.1-0.1h0m-2.2 0.3h0m1.9-0.2h0m1.5-1h0m-3.4 2.9h0" stroke="#000" stroke-opacity="0.3" stroke-width="0.75" stroke-linecap="square" fill="none"/>
<path d="M58 210.3h0m3-0.2h0m-2.1 3.9h0m3.1-5.3h0m-1.4 7.3h0m1.4-4.3h0" stroke="#000" stroke-opacity="0.2" stroke-width="0.75" stroke-linecap="square" fill="none"/>
<rect x="94.5" y="190.2" width="44" height="42" fill="#fff" stroke="#777" stroke-width="0.6" />
<line x1="111.8" y1="190.2" x2="111.8" y2="232.2" stroke="#888" stroke-width="0.6" />
<line x1="94.5" y1="213.3" x2="138.5" y2="213.3" stroke="#888" stroke-width="0.6" />
<line x1="93.5" y1="231.4" x2="94.5" y2="231.4" stroke="#aaa" stroke-width="0.4" />
<text x="92.9" y="232.3" font-size="2.4" fill="#999" font-family='"Liberation Sans", sans-serif' text-anchor="end">1</text>
<line x1="93.5" y1="221.3" x2="94.5" y2="221.3" stroke="#aaa" stroke-width="0.4" />
<text x="92.9" y="222.2" font-size="2.4" fill="#999" font-family='"Liberation Sans", sans-serif' text-anchor="end">1</text>
<line x1="93.5" y1="211.2" x2="94.5" y2="211.2" stroke="#aaa" stroke-width="0.4" />
<text x="92.9" y="212.1" font-size="2.4" fill="#999" font-family='"Liberation Sans", sans-serif' text-anchor="end">1</text>
<line x1="93.5" y1="201.1" x2="94.5" y2="201.1" stroke="#aaa" stroke-width="0.4" />
<text x="92.9" y="202" font-size="2.4" fill="#999" font-family='"Liberation Sans", sans-serif' text-anchor="end">1</text>
<line x1="93.5" y1="191" x2="94.5" y2="191" stroke="#aaa" stroke-width="0.4" />
<text x="92.9" y="191.9" font-size="2.4" fill="#999" font-family='"Liberation Sans", sans-serif' text-anchor="end">1</text>
<line x1="95.3" y1="232.2" x2="95.3" y2="233.2" stroke="#aaa" stroke-width="0.4" />
<text x="95.3" y="235.2" font-size="2.4" fill="#999" font-family='"Liberation Sans", sans-serif' text-anchor="middle">1</text>
<line x1="105.9" y1="232.2" x2="105.9" y2="233.2" stroke="#aaa" stroke-width="0.4" />
<text x="105.9" y="235.2" font-size="2.4" fill="#999" font-family='"Liberation Sans", sans-serif' text-anchor="middle">1</text>
<line x1="116.5" y1="232.2" x2="116.5" y2="233.2" stroke="#aaa" stroke-width="0.4" />
<text x="116.5" y="235.2" font-size="2.4" fill="#999" font-family='"Liberation Sans", sans-serif' text-anchor="middle">1</text>
<line x1="127.1" y1="232.2" x2="127.1" y2="233.2" stroke="#aaa" stroke-width="0.4" />
<text x="127.1" y="235.2" font-size="2.4" fill="#999" font-family='"Liberation Sans", sans-serif' text-anchor="middle">1</text>
<line x1="137.7" y1="232.2" x2="137.7" y2="233.2" stroke="#aaa" stroke-width="0.4" />
<text x="137.7" y="235.2" font-size="2.4" fill="#999" font-family='"Liberation Sans", sans-serif' text-anchor="middle">1</text>
<text x="112.8" y="236.8" font-size="2.0" fill="#aaa" font-family='"Liberation Sans", sans-serif' text-anchor="middle">yo-pro</text>
<text x="102.8" y="205.1" font-size="4.8" text-anchor="middle" fill="#333" font-family='"Liberation Serif", serif'>42.7</text>
<line x1="102.8" y1="206.4" x2="102.8" y2="209.2" stroke="#111" stroke-width="0.8" />
<path d="M101.5 208.9 L104.1 208.9 L102.8 211.2 Z" fill="#111"/>
<ellipse cx="102.5" cy="223" rx="6.9" ry="2.7" fill="#000" fill-opacity="0.92" transform="rotate(-52 102.5 223)" filter="url(#b2)"/>
<path d="M100.4 224.8h0m-1.6 2.1h0m3-3.4h0m3.7-5.1h0m-5.6 11.1h0m-1.1-3.1h0m2.8-3.3h0m-2.3 3.2h0m8.5-11.9h0m-4 10.4h0m2-3.6h0m-3.8-3.6h0m-1.8 8.7h0m5.7-3.6h0m-2.4-1.7h0m-1.2 1.6h0m1.9 0.3h0m-3.9 0.4h0m1.4 4.1h0m5.9-7.9h0m-1.4 1.4h0m-2.7 2.9h0m-4.3 2.8h0m2.3-0.1h0m-0.8-1.5h0m5-1.9h0m-6.8 1.7h0m4.3-6.1h0m-0.3 2h0m-3.4 0.6h0m4.3-1.5h0m-0.7 8.9h0m6.7-4.2h0m-6.7-3.4h0m2.1 3.4h0m-2.1-0.9h0m-0.5-3.5h0m-0.5 1.8h0m-1.8 6.6h0m4.2-7.8h0m-7.6 3.2h0m6.8-2.8h0m-6.1 7.9h0m0.6-0.5h0m5.2-5.6h0m0-0.5h0m-4.7 4.3h0m2-2.1h0m3.5-1.9h0m-0.9-8.6h0m0 7.2h0m7-5.5h0m-11.9 13.7h0m4.1-3.5h0m-3.1 0.7h0m2.6-3.3h0m-3.9-0.4h0m7.2-0.5h0m-4.5-0.4h0m3.1 0.8h0m-1.9 0.7h0m2.8-7h0m-6.7 6.2h0m1.3 1.9h0m-0.7 1h0m8.6-9.4h0m-1.8 9.7h0m-5.8-4.8h0m2.5-0.8h0m3.1-4.8h0m-6.8 7.6h0m2.8-1.7h0m0.5 1.3h0m0.4 3.5h0m3-6.6h0m-6.9 5.3h0m8.5-0.2h0m-6.8-1.1h0m-1.1 0.5h0m0.5 2.1h0m7.2-8.5h0m-8 5.2h0m4.5-0.8h0m-5.7 4h0m6.5-1.9h0m0.7-3.3h0m-2.5 3.5h0m3.6 1.1h0m-7 1.1h0m7-8.6h0m0.8-0.3h0m-4.1 4.2h0m-5.3 4.9h0m12.6-11.2h0m-4.1 6.2h0m0 0.2h0m-4.2 1.6h0m3.4-4.7h0m-6.4 8.6h0m3.5-1.9h0m-3-1.3h0m5 1.6h0m-1.3-2.6h0m0.4-0.1h0m4.2-2h0m-7.3 9.3h0m2.1-8h0m7-8.5h0m0.5 3h0m-9.2 10.2h0m4.1-7.1h0m-9 10.8h0m4.9-8.6h0m7-6.3h0m-6.4 8h0m-1.8 0.8h0m4.1-1.9h0m-2.3 1.7h0m-1.6 3.9h0m1.4-2.6h0m-1.5-0.3h0m2.1-4.9h0m8.1-6.8h0m-8.2 8.4h0m7.9-3.6h0m-7.8 1.5h0m0.7 5.2h0m-2.7-2h0m-1.3 2.9h0m3.6-4.2h0" stroke="#000" stroke-opacity="0.35" stroke-width="0.75" stroke-linecap="square" fill="none"/>
<path d="M109.2 228.1h0m-2.6-15.4h0m-2.6 8.8h0m0.5 4.1h0m-4-1.6h0m0.4 0.6h0m8.2-6.2h0m-12.6 10.1h0m5-0.2h0m3.9-4.7h0m-7.6-3.8h0m6.9 1.5h0m-3.4-3.1h0m-0.1 3.1h0m-0.4 5.6h0m0.9-7.2h0m1.3 8.1h0m-6-8.7h0m3.3 8.7h0" stroke="#000" stroke-opacity="0.15" stroke-width="0.75" stroke-linecap="square" fill="none"/>
<ellipse cx="123.5" cy="222.7" rx="6" ry="1.7" fill="#000" fill-opacity="0.75" transform="rotate(-35 123.5 222.7)" filter="url(#b2)"/>
<path d="M129.8 220.7h0m-6.9 2.6h0m-7.2 3.5h0m3-2.8h0m2.2-0.6h0m3.2 2h0m0.7-2.9h0m-6.5 0.1h0m2.8 2.8h0m-3.3 3.9h0m2.1-3.5h0m-1.7-2.5h0m10.9-7.4h0m-4.6 4.5h0m-3.1 1.7h0m-1.3 4.8h0m8.7-10.2h0m-6.7 8.9h0m-3.2 1.7h0m-0.8 0.3h0m6.2-2.9h0m-3-3.5h0m1.5-0.8h0m3.2 3.8h0m-2.9-2.7h0m3.5-0.8h0m-11.6 6.9h0m12.1-8.4h0m-5.9 4.1h0m-8.4 5.4h0m10-5.3h0m-4.9-2h0m9.4 0.1h0m-0.3 1.5h0m-8.7 1.7h0m5.9 1.1h0m-11 3.4h0m5.2-1.9h0m8.9-8.2h0m-11.8 9.1h0m2.5-5.5h0m6.4-2.1h0m-1.8-0.6h0m1.8-1.5h0m-0.6-0.4h0m3 1.2h0m-13.1 9.4h0m7.7-7.1h0m-2.3 4.6h0m-2.2-6.2h0m2.6 6.2h0m3.9-1.4h0m-2.7 5.6h0m4.2-8.2h0m2 0.1h0m-6.1 0.6h0m5.3-1.3h0m-14.8 6.9h0m11.9-5.6h0m-0.2 1.4h0m0.4 1.9h0m-5.5-0.8h0m5.4-1.1h0m2.9-0.3h0m-6.1 3.5h0m1.9-6.4h0m0.7 6.8h0m1.3-6.9h0m-14.6 9.6h0m8.5-4.1h0m14.3-8.4h0m-10.8 3.7h0m-6 5.8h0m6.8 2.8h0m-3.7-5.9h0m7.7-3.7h0m-9.4 9.3h0m1.3-7h0m4.9 0.8h0m-2.8 2.5h0m3.5-6.2h0m-14.6 6.8h0m12.7-0.5h0m5.2-3.3h0m2.4-4.8h0m-5.3 0.1h0m0.4 4.1h0m-4.4 1.2h0m-4 4.1h0m10.3-8.3h0m-3.7 1.9h0m-1.7 0.3h0m1.5 0.9h0m-0.7-0.4h0m-6.5 5.1h0m12.1-4h0m-7 3.1h0m4.4-4.1h0m-10.4 7.2h0m3.5-0.5h0m7.3-6.4h0m-2.4-2.7h0m2.7 1.3h0m-6.1 2.4h0m-3.5 3h0m19.2-11.9h0m-13.9 7.7h0m-3.6 2.8h0m0.4 3.1h0" stroke="#000" stroke-opacity="0.3" stroke-width="0.75" stroke-linecap="square" fill="none"/>
<path d="M117 226.1h0m-3.3 2.9h0m3.9-4.1h0m-3.1-3.5h0m6-3h0m-6.2 3.2h0m2.3 0h0m1.6 1.5h0m-7-1.1h0m8.7 2h0m-2.8-5.7h0m2.5 3.9h0m-1.2 1.1h0m-2.8 1.4h0m3.6-5.5h0m-8.6 8.2h0m3.3-9.2h0m1 8.5h0m1.2-2.8h0m-2.9 5.3h0m9.8-11.9h0m-11.5 5.4h0m8.7-2h0m-4.6 7.8h0m5-6.2h0m-11.2 6.1h0m7.3-10h0m6.1 5.3h0m-3.6-5.4h0m-3.7 9.3h0m7.2-4.6h0m-1.7-3.7h0m-9.5 0.8h0m12.3 6.1h0m-10-2.7h0m5.9-1.4h0m-9.9 3.6h0m6.1 5.7h0m-0.6-4h0m12.3-5.6h0" stroke="#000" stroke-opacity="0.18" stroke-width="0.75" stroke-linecap="square" fill="none"/>
<ellipse cx="125.5" cy="198.4" rx="5" ry="1.3" fill="#000" fill-opacity="0.8" transform="rotate(-35 125.5 198.4)" filter="url(#b2)"/>
<path d="M117.6 203.9h0m5.8-4.3h0m6.5-3.7h0m-5 3.9h0m-5.2 2.6h0m4.3-3.1h0m-0.4 0.6h0m-4.7 3.8h0m6.1-4.4h0m1-1.1h0m1.8-1.1h0m-5.3 3.9h0m1.6-0.9h0m-5.4 2.6h0m6.9-3.7h0m-7.8 5h0m3.9-3h0m4-3.4h0m-2.3 2.9h0m4.4-3.7h0m-3.6 2.5h0m-2 1.2h0m-1.5 2h0m8.2-7h0m-2.4 2.7h0m-10.1 7.1h0m6.3-4.9h0m2.7-2.2h0m-5.9 4.4h0m-2.4 1.7h0m8.5-6.1h0m2-0.4h0m-3.6 1.7h0m3.7-1.9h0m2.4-2.1h0m-10.5 7.1h0m9.5-6.9h0m-8.7 6.1h0m-4.6 3.3h0m8.1-5.2h0m-1.5 1.1h0m7.1-5.4h0m-1.8 1.5h0m-9 5.7h0m-0.8 0.5h0m10.9-7h0m-2.9 2.5h0m2.5-2.6h0m-2.2 1.9h0m-9.9 7.1h0" stroke="#000" stroke-opacity="0.4" stroke-width="0.75" stroke-linecap="square" fill="none"/>
<path d="M116.6 210.4h0m-3.2 3.2h0m0.3-2h0m2.3 0.5h0m0.7-5.9h0m2.3 6.2h0m-5.2 0.3h0m-0.9 4.4h0m1.8-2.4h0m0-0.8h0m-0.8 0.7h0m3.5-7.2h0m-2 4.1h0m1.1-4.5h0m-1.5 3.6h0m1.4-1.7h0m0.2 1.7h0m-0.3 1.1h0m1.2-1.4h0m-5 5.8h0m4.4-8.2h0m-1.2 6h0m1.4-1.3h0m-2.9-4.1h0m0.2 7.7h0m-0.1-3.4h0m0.4 1.8h0m1.1-7.9h0m0.9 2.7h0m-1 5.3h0" stroke="#000" stroke-opacity="0.2" stroke-width="0.75" stroke-linecap="square" fill="none"/>
<rect x="151.5" y="190.2" width="44" height="42" fill="#fff" stroke="#777" stroke-width="0.6" />
<line x1="171.4" y1="190.2" x2="171.4" y2="232.2" stroke="#888" stroke-width="0.6" />
<line x1="151.5" y1="206.4" x2="195.5" y2="206.4" stroke="#888" stroke-width="0.6" />
<line x1="150.5" y1="231.4" x2="151.5" y2="231.4" stroke="#aaa" stroke-width="0.4" />
<text x="149.9" y="232.3" font-size="2.4" fill="#999" font-family='"Liberation Sans", sans-serif' text-anchor="end">1</text>
<line x1="150.5" y1="221.3" x2="151.5" y2="221.3" stroke="#aaa" stroke-width="0.4" />
<text x="149.9" y="222.2" font-size="2.4" fill="#999" font-family='"Liberation Sans", sans-serif' text-anchor="end">1</text>
<line x1="150.5" y1="211.2" x2="151.5" y2="211.2" stroke="#aaa" stroke-width="0.4" />
<text x="149.9" y="212.1" font-size="2.4" fill="#999" font-family='"Liberation Sans", sans-serif' text-anchor="end">1</text>
<line x1="150.5" y1="201.1" x2="151.5" y2="201.1" stroke="#aaa" stroke-width="0.4" />
<text x="149.9" y="202" font-size="2.4" fill="#999" font-family='"Liberation Sans", sans-serif' text-anchor="end">1</text>
<line x1="150.5" y1="191" x2="151.5" y2="191" stroke="#aaa" stroke-width="0.4" />
<text x="149.9" y="191.9" font-size="2.4" fill="#999" font-family='"Liberation Sans", sans-serif' text-anchor="end">1</text>
<line x1="152.3" y1="232.2" x2="152.3" y2="233.2" stroke="#aaa" stroke-width="0.4" />
<text x="152.3" y="235.2" font-size="2.4" fill="#999" font-family='"Liberation Sans", sans-serif' text-anchor="middle">1</text>
<line x1="162.9" y1="232.2" x2="162.9" y2="233.2" stroke="#aaa" stroke-width="0.4" />
<text x="162.9" y="235.2" font-size="2.4" fill="#999" font-family='"Liberation Sans", sans-serif' text-anchor="middle">1</text>
<line x1="173.5" y1="232.2" x2="173.5" y2="233.2" stroke="#aaa" stroke-width="0.4" />
<text x="173.5" y="235.2" font-size="2.4" fill="#999" font-family='"Liberation Sans", sans-serif' text-anchor="middle">1</text>
<line x1="184.1" y1="232.2" x2="184.1" y2="233.2" stroke="#aaa" stroke-width="0.4" />
<text x="184.1" y="235.2" font-size="2.4" fill="#999" font-family='"Liberation Sans", sans-serif' text-anchor="middle">1</text>
<line x1="194.7" y1="232.2" x2="194.7" y2="233.2" stroke="#aaa" stroke-width="0.4" />
<text x="194.7" y="235.2" font-size="2.4" fill="#999" font-family='"Liberation Sans", sans-serif' text-anchor="middle">1</text>
<text x="172.4" y="236.8" font-size="2.0" fill="#aaa" font-family='"Liberation Sans", sans-serif' text-anchor="middle">yo-pro</text>
<text x="161.8" y="197.5" font-size="4.8" text-anchor="middle" fill="#333" font-family='"Liberation Serif", serif'>95.2</text>
<line x1="161.8" y1="198.5" x2="161.8" y2="200.2" stroke="#111" stroke-width="0.8" />
<path d="M160.5 199.9 L163.1 199.9 L161.8 202.2 Z" fill="#111"/>
<ellipse cx="161.5" cy="223" rx="6" ry="3.2" fill="#000" fill-opacity="0.92" transform="rotate(-40 161.5 223)" filter="url(#b2)"/>
<path d="M157.6 223.8h0m5.5 1.8h0m4.7-4.9h0m-4.2 2.5h0m2.3-0.1h0m-4-5h0m3.1 3.1h0m-4.1 3.9h0m1.4-2.9h0m-5.8 5.3h0m6.6-6h0m-5.8 6.4h0m6.7-6.4h0m-1.7-0.2h0m-2 4.3h0m0.4-1.4h0m11.8-8.3h0m-13 3.9h0m3.4 4.3h0m-3.9 0.3h0m-3.6 5.4h0m5.3-4.1h0m4.7-6.5h0m-0.5 1.7h0m-4.4 2.1h0m0.3 4.4h0m1.9-8.4h0m0.3 0.6h0m-4.4 9.4h0m0.7-0.6h0m4.1-4.3h0m1.4-0.4h0m-1.4-0.6h0m0.5 1.2h0m-2.1 1.5h0m4.2-6.8h0m-3.9 2h0m-1.1 3.2h0m-1.8-1.9h0m2.5 1.1h0m1.8 0h0m-5.4 6.6h0m1.7-7.9h0m1.2 2.6h0m2.6-4.6h0m-4-0.3h0m2.3 2.6h0m-0.4 3.3h0m7-5.5h0m-7.2 7.5h0m-0.9-3.9h0m0 1.5h0m3-3.5h0m-2.8 1.5h0m1.1 2.4h0m-2-1.6h0m0.1-1.9h0m-1.1-1.2h0m4.8 1.9h0m-0.6 3.6h0m-3.1-0.4h0m2.4-5.3h0m-0.1 4.4h0m0-1.9h0m4-3.5h0m-10.8 6.2h0m8.6-5.4h0m-8.6 1.7h0m9.4 2.5h0m-10.2-2.4h0m7.7-1.6h0m-2.1 2.4h0m-0.7 2.9h0m5.4-4.8h0m-3.5 4.9h0m0.7-1.9h0m-2.4 2.2h0m6-3.2h0m-3.4 0.4h0m-1.2 2.3h0m4.4-3.1h0m-6.8-1h0m2.4 0.9h0m-0.9 3.1h0m4.9-4.6h0m0.5-0.4h0m-7.8 3.6h0m3.7 0.6h0m3.1-4.2h0m-1.1-1.9h0m-0.1 6.9h0m1.1-2.2h0m-11 1.2h0m6.9 2h0m5.2-9.1h0m-8.4 5.9h0m2.5 2.5h0m3.7 0.8h0m-0.6-7h0m-0.7 2.1h0m3.2 0.5h0m-3.5 2.8h0m1.4-4h0m0.2 2.1h0m-3.7-0.9h0m5.7-2.8h0m-4.9 5.5h0m-3.3 1.5h0m-0.3-1.1h0m-1.7 0.6h0m8.9-5.9h0m-3.6 8.7h0m1.4-2h0m-4-5.3h0m8.7-4.2h0m-1 5.5h0m-7.8 3.3h0m3-0.9h0m-1-4.6h0m3.1 3.3h0m-1.4 0.5h0m-1.5-0.4h0m2.9-1.9h0m3.9-1h0m-1.6 0.7h0m-4.8-1.5h0m6.9 2.7h0m-5.4-1.3h0m1.4 3.2h0m-2.2-4.6h0" stroke="#000" stroke-opacity="0.35" stroke-width="0.75" stroke-linecap="square" fill="none"/>
<path d="M159.1 221.5h0m-0.4-0.3h0m2.8 8.7h0m0.5-14.7h0m-5.3 9.8h0m0.2-4.5h0m4.5-4.8h0m4.4 6.9h0m-7.2-0.2h0m3.5 0.8h0m1.3-2.2h0m-5.7 0.7h0m-0.6 1.5h0m12.5-12.7h0m-1 8.8h0m-5.8 3.5h0m0.9 5.8h0m-0.2-7.3h0m-2 2.6h0" stroke="#000" stroke-opacity="0.15" stroke-width="0.75" stroke-linecap="square" fill="none"/>
<path d="M166.6 216.5h0m0.1-0.8h0m-2.3 3.6h0m6.5-4.6h0m-4.1 0h0m-1.8 5h0m6-4.5h0m-6.7 4.4h0m4.9-1.9h0m-3.3 2.1h0m0.5-1.7h0m-1.5 1h0m-0.2 1.9h0m7.6-5.3h0m-7 2.3h0m2.9 0h0m-0.2-3.1h0m5.8-4.4h0m-5.7 4.8h0m-2.4 3.8h0m-0.2 0.8h0m3.5-3.5h0m-4.6 6.9h0m-3.1-3.6h0m8.4-6.4h0m1.3-0.7h0m3 2.6h0m-7.6 1.2h0m6.1-2.3h0m-8.1 5.3h0m4.8-4.9h0m-1.2 2.1h0m2.5-2.2h0m-4.4 2.6h0m1.5-2.6h0m-2.1 5h0m0.6-1.6h0m0.5-0.5h0m2-1.1h0m1-0.2h0m-3.9 3.3h0m5.8-4.5h0m-1.9 1.4h0m0.4-1.1h0m-7.5 6.9h0" stroke="#000" stroke-opacity="0.18" stroke-width="0.75" stroke-linecap="square" fill="none"/>
<path d="M173.2 213.6h0m11-5.5h0m5.6-5.1h0m-9 6h0m7-5.2h0m-3.9 3.4h0m-9.3 5.2h0m7.7-3.2h0m-3.2 0.2h0m11.4-5.6h0m0.8-2.1h0m-4.6 4.1h0m3.5-0.2h0m-9.3 5.1h0m4.5-4.1h0m-0.4-1.7h0m-12.4 9.6h0m3.4-2.5h0m6.1-3.7h0m-5.9 3.8h0m6.1-4.5h0m-6.3 3.9h0m9.2-6.6h0m2.4 0.7h0m-14.4 9.3h0m15.6-11.1h0m-15.5 10.7h0m10.4-7.1h0m7.8-4.1h0m-2.7 0.2h0" stroke="#000" stroke-opacity="0.25" stroke-width="0.75" stroke-linecap="square" fill="none"/>
<rect x="206" y="190.2" width="44" height="42" fill="#fff" stroke="#777" stroke-width="0.6" />
<line x1="226.6" y1="190.2" x2="226.6" y2="232.2" stroke="#888" stroke-width="0.6" />
<line x1="206" y1="206.5" x2="250" y2="206.5" stroke="#888" stroke-width="0.6" />
<line x1="205" y1="231.4" x2="206" y2="231.4" stroke="#aaa" stroke-width="0.4" />
<text x="204.4" y="232.3" font-size="2.4" fill="#999" font-family='"Liberation Sans", sans-serif' text-anchor="end">1</text>
<line x1="205" y1="221.3" x2="206" y2="221.3" stroke="#aaa" stroke-width="0.4" />
<text x="204.4" y="222.2" font-size="2.4" fill="#999" font-family='"Liberation Sans", sans-serif' text-anchor="end">1</text>
<line x1="205" y1="211.2" x2="206" y2="211.2" stroke="#aaa" stroke-width="0.4" />
<text x="204.4" y="212.1" font-size="2.4" fill="#999" font-family='"Liberation Sans", sans-serif' text-anchor="end">1</text>
<line x1="205" y1="201.1" x2="206" y2="201.1" stroke="#aaa" stroke-width="0.4" />
<text x="204.4" y="202" font-size="2.4" fill="#999" font-family='"Liberation Sans", sans-serif' text-anchor="end">1</text>
<line x1="205" y1="191" x2="206" y2="191" stroke="#aaa" stroke-width="0.4" />
<text x="204.4" y="191.9" font-size="2.4" fill="#999" font-family='"Liberation Sans", sans-serif' text-anchor="end">1</text>
<line x1="206.8" y1="232.2" x2="206.8" y2="233.2" stroke="#aaa" stroke-width="0.4" />
<text x="206.8" y="235.2" font-size="2.4" fill="#999" font-family='"Liberation Sans", sans-serif' text-anchor="middle">1</text>
<line x1="217.4" y1="232.2" x2="217.4" y2="233.2" stroke="#aaa" stroke-width="0.4" />
<text x="217.4" y="235.2" font-size="2.4" fill="#999" font-family='"Liberation Sans", sans-serif' text-anchor="middle">1</text>
<line x1="228" y1="232.2" x2="228" y2="233.2" stroke="#aaa" stroke-width="0.4" />
<text x="228" y="235.2" font-size="2.4" fill="#999" font-family='"Liberation Sans", sans-serif' text-anchor="middle">1</text>
<line x1="238.6" y1="232.2" x2="238.6" y2="233.2" stroke="#aaa" stroke-width="0.4" />
<text x="238.6" y="235.2" font-size="2.4" fill="#999" font-family='"Liberation Sans", sans-serif' text-anchor="middle">1</text>
<line x1="249.2" y1="232.2" x2="249.2" y2="233.2" stroke="#aaa" stroke-width="0.4" />
<text x="249.2" y="235.2" font-size="2.4" fill="#999" font-family='"Liberation Sans", sans-serif' text-anchor="middle">1</text>
<text x="227.6" y="236.8" font-size="2.0" fill="#aaa" font-family='"Liberation Sans", sans-serif' text-anchor="middle">yo-pro</text>
<text x="216.3" y="197.5" font-size="4.8" text-anchor="middle" fill="#333" font-family='"Liberation Serif", serif'>56.0</text>
<line x1="216.3" y1="198.5" x2="216.3" y2="200.2" stroke="#111" stroke-width="0.8" />
<path d="M215 199.9 L217.6 199.9 L216.3 202.2 Z" fill="#111"/>
<ellipse cx="215.6" cy="222.8" rx="5.8" ry="3.1" fill="#000" fill-opacity="0.92" transform="rotate(-42 215.6 222.8)" filter="url(#b2)"/>
<path d="M212.7 222.7h0m5.7-2.1h0m-2.5 5.8h0m1-0.8h0m-2.8-3.2h0m6.2-0.6h0m-6 2.5h0m8.8-3.6h0m-10.5 3h0m10.6 1.3h0m-11.5-3.1h0m3.3 3.4h0m-0.3-0.8h0m-2.3-1.1h0m3.1-3.2h0m-2.8 6.1h0m4.9-6.3h0m-3.6 2.2h0m-1.1 1.8h0m3.5-3.7h0m0.1-1.8h0m-6.4 11.2h0m3.4-1.9h0m-1.4-3.8h0m6.9-3h0m-2.5 4.1h0m1.1-4.8h0m-5.5 1.5h0m5.1 2.6h0m4.8-2.8h0m-4.9 2.9h0m-2.1 3.5h0m1.3-9h0m-2.2 4.7h0m2.1-2.2h0m-1.4 4.1h0m-2.1-4.5h0m2.1 7.7h0m1.3-6.6h0m-3.9 1.2h0m2.6 2.7h0m1.1 0.5h0m-8.7-1h0m16.7-11.6h0m-10.9 14.5h0m-1.9-5.4h0m5.6-1.3h0m-3.6 4h0m0.5-2.9h0m3.9-2h0m-2.4 3.5h0m-1.8 3.4h0m4.3-5.9h0m-6 1.2h0m2.8-1.4h0m0.8-2.9h0m-0.1 3h0m0 1.5h0m2.2-7.5h0m-1.4 6.3h0m-1 4.2h0m-0.8-2.4h0m0.9-3h0m-0.9 3.2h0m-0.2-0.4h0m5.6-2.5h0m-2.8 5.5h0m0.5-2.3h0m0.7-2.9h0m-5.3 5.1h0m-1.7 1.9h0m10.9-7.8h0m1.3 1.8h0m-10.7 2.7h0m-3.1-0.5h0m8.9-4.9h0m-0.9 1.6h0m-1.9-2.8h0m-1 3.6h0m0.4 1.1h0m3.5-1.3h0m0.9-3.4h0m-3.5 3.3h0m-0.8 2.1h0m1.3-0.3h0m1-3.6h0m-5.7 6.7h0m7.1-11.3h0m-6.8 9.3h0m5.4-5.1h0m-0.8 6.9h0m0.5-2.1h0m-3.6 1.8h0m1.6-0.4h0m0-2.1h0m0.8-2h0m-4 3.9h0m2.8-0.7h0m4.2-3.3h0m-2.9 4h0m2.8-0.8h0m-3.4-1.7h0m-3.8 7.6h0m8.2-11.4h0m-1.7 0.6h0m-5.4 3.9h0m3.7 2.1h0m-3.4-2h0m-0.7 2h0m3-3.8h0m3-0.4h0m-0.6 4.5h0m-5.7 2.6h0m2.5-3.6h0m0.2-2.7h0m6.3-5h0m-5.3 7.5h0m-0.1-6.8h0m-0.8 4.6h0m0.6-0.7h0m-3.5 1.5h0m6.7-5.3h0m4.4-1.1h0m-9.1 3.3h0m6.7-2h0m-7.5 8.8h0m8.8-10.8h0m-0.4 3.4h0m-9.3 7.8h0m2.4-1.7h0" stroke="#000" stroke-opacity="0.35" stroke-width="0.75" stroke-linecap="square" fill="none"/>
<path d="M214.3 224.9h0m2.1 4h0m1.4-7.1h0m-2.3-4.8h0m-2 7h0m5.8-1.9h0m0.1-4.4h0m-2.3 2.2h0m-4.1 8.1h0m2.6-7.2h0m1.1-2.8h0m3.3 1.8h0m-6 9.3h0m4.4-11.2h0m-6.3 3.8h0m2.7-0.4h0m-0.7 0.1h0m-1.5 2.5h0m2.9 1.3h0m-0.4 3h0" stroke="#000" stroke-opacity="0.15" stroke-width="0.75" stroke-linecap="square" fill="none"/>
<path d="M220.9 217.7h0m2.8-2.1h0m-0.7 1.1h0m0.7-0.4h0m-0.7-1.7h0m-3.9 4h0m3-2.7h0m3.2 0h0m-4.6 1.2h0m4.2-1.5h0m1.8-0.9h0m-5.3 1.2h0m-0.1 2.6h0m5-2.6h0m-6 4.3h0m4.2-2.7h0m0.5-3.1h0m-3.6 3.4h0m1.7-0.1h0m0.6-1.6h0m-6.5 3.7h0m3.1-1h0m1.4-0.9h0m-4.1 0.2h0m3.3-1h0m-0.1-1.7h0m-0.1-1.4h0m3.5 1.2h0m-0.2 0.2h0m-5.3 3.5h0m6.6-4.3h0m-3.3 2.4h0m6-1.5h0m-2.2 1.3h0m-7.6 2.4h0m6.8-3.5h0m-6.8 3.6h0m-3.3-0.9h0m10-4.8h0m-1.3 3.7h0m-5.3 1.4h0m4.3-0.1h0m-1.8-1.3h0m-2.2-1.7h0m4.6 1.5h0" stroke="#000" stroke-opacity="0.18" stroke-width="0.75" stroke-linecap="square" fill="none"/>
<path d="M231.6 209.9h0m15.4-7.9h0m-3.8 2.1h0m-8.8 4.7h0m2.2-2.2h0m-11.5 8.2h0m1.6 1.9h0m18.6-13.9h0m-3.2 1h0m-4.9 3h0m-11.1 9.9h0m19.7-14.8h0m-13.8 9.7h0m9.1-5.3h0m-5.6 3.4h0m-0.8 1.6h0m-5.7 2.9h0m6.2-5.3h0m-5.5 3.5h0m6.2-2.1h0m-7 3.9h0m2.9-3.7h0m9.5-5.4h0m-0.3 0.9h0m-6.6 4.4h0m-0.1-0.3h0m-0.4 1.6h0m6.9-5.4h0m-8 5.5h0m6.5-5.8h0" stroke="#000" stroke-opacity="0.25" stroke-width="0.75" stroke-linecap="square" fill="none"/>
<ellipse cx="236.5" cy="193.4" rx="4.5" ry="1.4" fill="#000" fill-opacity="0.75" transform="rotate(-30 236.5 193.4)" filter="url(#b2)"/>
<path d="M231.5 195.9h0m1.3-0.4h0m2-1.6h0m4.4-1.4h0m-6.3 1.4h0m1.3 1.8h0m1.4-1.8h0m-1.1 0.6h0m-1 0.7h0m1.2-0.5h0m1-1.5h0m1.3-1.3h0m-4.3 3.9h0m2-2.7h0m1.9 0.8h0m-0.1 0.3h0m3-2.9h0m-0.7 0.6h0m1.4-0.6h0m-1.9 1h0m-4.5 3.8h0m0.4-1.1h0m3.7-3h0m-1.9 1.8h0m-1 0.8h0m1.8-1.2h0m0.3 0h0m1.9-2.1h0m-2.9 2.1h0m3.8-0.6h0m-0.4-1.3h0m-2.7 1.9h0m-3.4 1.3h0m4.4-0.4h0m-2.6 0.8h0m-0.9-1.1h0m5-2.7h0m-7.8 4.7h0m4.9-3.4h0m-4.3 3h0m5.8-2.9h0m-1.2 1.6h0m-2.2-0.4h0m0.2 0.4h0m-0.4-0.9h0m1.4 0.2h0m2.9-1.8h0m-4.7 4.3h0m6.3-4.3h0" stroke="#000" stroke-opacity="0.5" stroke-width="0.75" stroke-linecap="square" fill="none"/>
<path d="M245.8 191h0m-0.2 0.8h0m1.5-0.3h0m0.1-0.5h0m-6.9 0.1h0m6.9-0.1h0m-0.5 0.2h0m-0.5 0.6h0m-1.4-0.7h0m-1.8 0.7h0m-2.3 0.5h0m3.6-1h0m-2.1 0.9h0m3.1-1h0m1.6-0.1h0m-1.7 0.7h0m-1.7-0.4h0m1.9-0.2h0m-0.2 0.6h0m-1.1 0.1h0m-3.1-0.3h0m3.5-0.5h0m-2 0.5h0m1.1-0.3h0m2.7 0.8h0m0.3-0.8h0m-0.9 0.2h0m-2 0.8h0m1 0h0m-1.1-0.5h0m3.2-0.5h0" stroke="#000" stroke-opacity="0.5" stroke-width="0.75" stroke-linecap="square" fill="none"/>
<path d="M247 193h0m1.2 2.4h0m-0.1 0.1h0m-0.1 0.4h0m-1-4.1h0m0 0.3h0m-0.3 0.5h0m1.4-0.4h0m-0.5 2.9h0m1.7 4.3h0m-1.5-6.5h0m-0.8 2.5h0m0.7-2.5h0m-0.2 2.6h0m0.1 0.2h0m-0.1-0.1h0m-0.6-0.3h0m0.2 0.6h0m2 2.6h0m-0.8-2.2h0m0.8 0.6h0m-1.4 0.1h0m-0.2-4.2h0m1 6.9h0m-2.2-7.4h0m1 1.1h0m0.8 1.3h0m0.8 2.7h0m-0.9-2.1h0" stroke="#000" stroke-opacity="0.4" stroke-width="0.75" stroke-linecap="square" fill="none"/>
<path d="M239.9 192.9h0m0 7.2h0m-4.5-5.1h0m6.8 1.1h0m-1.5-2.1h0m-1.5 5.4h0m-3.8-3.7h0m7.4 3.5h0m1.8-5.3h0m-6.4 6.7h0m-0.2-3.7h0m-1.5-2.4h0m-8.6 0.3h0m3.1-1.2h0m4.9 6h0m7.1-2.4h0m-5.2-4.6h0m4.1 1.4h0m-2.5 4.5h0m-0.3-2.4h0m-3.2 2.7h0m6.2-0.9h0m4.4-5.9h0m-6.5 5.8h0m1.3-0.9h0m0.5-4.6h0m-2.2 6.8h0m0.1-3.5h0m3.6-3.9h0m-1.8 8.3h0m-2.6-6h0m3.1 1h0m-5.4 1.6h0m-3.4 1.2h0m1.8-3.1h0m7.8 1.4h0m-1.9 3.5h0m5.2 1.8h0m-8.4-2.9h0m-4.5-0.3h0m12-3.9h0m-3.4 4h0m-2.6-3.8h0m6.8-1.7h0m-5.4 5.8h0m0.2 1.5h0m5.1-2.8h0m1.2 0.7h0m-12.2-2.7h0" stroke="#000" stroke-opacity="0.2" stroke-width="0.75" stroke-linecap="square" fill="none"/>
<rect x="41.6" y="239.6" width="44" height="42" fill="#fff" stroke="#777" stroke-width="0.6" />
<line x1="58.5" y1="239.6" x2="58.5" y2="281.6" stroke="#888" stroke-width="0.6" />
<line x1="41.6" y1="262.7" x2="85.6" y2="262.7" stroke="#888" stroke-width="0.6" />
<line x1="40.6" y1="280.8" x2="41.6" y2="280.8" stroke="#aaa" stroke-width="0.4" />
<text x="40" y="281.7" font-size="2.4" fill="#999" font-family='"Liberation Sans", sans-serif' text-anchor="end">1</text>
<line x1="40.6" y1="270.7" x2="41.6" y2="270.7" stroke="#aaa" stroke-width="0.4" />
<text x="40" y="271.6" font-size="2.4" fill="#999" font-family='"Liberation Sans", sans-serif' text-anchor="end">1</text>
<line x1="40.6" y1="260.6" x2="41.6" y2="260.6" stroke="#aaa" stroke-width="0.4" />
<text x="40" y="261.5" font-size="2.4" fill="#999" font-family='"Liberation Sans", sans-serif' text-anchor="end">1</text>
<line x1="40.6" y1="250.5" x2="41.6" y2="250.5" stroke="#aaa" stroke-width="0.4" />
<text x="40" y="251.4" font-size="2.4" fill="#999" font-family='"Liberation Sans", sans-serif' text-anchor="end">1</text>
<line x1="40.6" y1="240.4" x2="41.6" y2="240.4" stroke="#aaa" stroke-width="0.4" />
<text x="40" y="241.3" font-size="2.4" fill="#999" font-family='"Liberation Sans", sans-serif' text-anchor="end">1</text>
<line x1="42.4" y1="281.6" x2="42.4" y2="282.6" stroke="#aaa" stroke-width="0.4" />
<text x="42.4" y="284.6" font-size="2.4" fill="#999" font-family='"Liberation Sans", sans-serif' text-anchor="middle">1</text>
<line x1="53" y1="281.6" x2="53" y2="282.6" stroke="#aaa" stroke-width="0.4" />
<text x="53" y="284.6" font-size="2.4" fill="#999" font-family='"Liberation Sans", sans-serif' text-anchor="middle">1</text>
<line x1="63.6" y1="281.6" x2="63.6" y2="282.6" stroke="#aaa" stroke-width="0.4" />
<text x="63.6" y="284.6" font-size="2.4" fill="#999" font-family='"Liberation Sans", sans-serif' text-anchor="middle">1</text>
<line x1="74.2" y1="281.6" x2="74.2" y2="282.6" stroke="#aaa" stroke-width="0.4" />
<text x="74.2" y="284.6" font-size="2.4" fill="#999" font-family='"Liberation Sans", sans-serif' text-anchor="middle">1</text>
<line x1="84.8" y1="281.6" x2="84.8" y2="282.6" stroke="#aaa" stroke-width="0.4" />
<text x="84.8" y="284.6" font-size="2.4" fill="#999" font-family='"Liberation Sans", sans-serif' text-anchor="middle">1</text>
<text x="59.5" y="286.2" font-size="2.0" fill="#aaa" font-family='"Liberation Sans", sans-serif' text-anchor="middle">yo-pro</text>
<text x="49.9" y="254.5" font-size="4.8" text-anchor="middle" fill="#333" font-family='"Liberation Serif", serif'>94.5</text>
<line x1="49.9" y1="255.8" x2="49.9" y2="258.6" stroke="#111" stroke-width="0.8" />
<path d="M48.6 258.3 L51.2 258.3 L49.9 260.6 Z" fill="#111"/>
<ellipse cx="50" cy="272.1" rx="8.2" ry="3.5" fill="#000" fill-opacity="0.92" transform="rotate(-50 50 272.1)" filter="url(#b2)"/>
<path d="M51.2 271.3h0m0.6-0.7h0m4-4.6h0m-3.2 5.7h0m-7.8 1.5h0m5.4 2.6h0m1.1-0.4h0m-2 0.3h0m2.3-2.3h0m-1.3-1h0m0.3 3.8h0m0.1-3.1h0m-0.2-5.2h0m-3.7 7.7h0m5.6-10.6h0m-8.1 9.9h0m2.1-2.8h0m1.6 4.4h0m-2 0.3h0m-0.7 0.1h0m2.6-10.2h0m2.6 5.6h0m-0.3 0.5h0m-1.3-4.5h0m1.8 5.4h0m1.2-9.3h0m-6.7 8.1h0m2.6-2h0m0.1 7.1h0m6.1-18.3h0m0 4.4h0m-1 6.1h0m0.9-3.2h0m-7.1 9h0m4.2-8.2h0m0.4 3h0m-0.8 1h0m3-0.5h0m-5.4 1.9h0m-2.4 6.9h0m-1.1-4.1h0m9-4.1h0m-1.1-5.9h0m0.2 7.2h0m-6.3 2.6h0m-2.2 0.9h0m8.3-7h0m-5.1 3.5h0m9.3-5.9h0m-7.2 14h0m-1.4-7.2h0m-1.1-0.4h0m2.3-6.2h0m0 4.4h0m7.5-6.2h0m-4.4 5.8h0m-0.2-1.3h0m-2.2 4.8h0m-0.1-4.7h0m-5.2 4.4h0m5.9-3.5h0m-4.6 4.5h0m3.8-5.7h0m-1.6 2.1h0m3.4 1.5h0m1.5-7.8h0m-0.6 4.6h0m-0.8 3.1h0m-1.2-6.7h0m4.3-0.8h0m-8.7 8.3h0m0.8-2.6h0m7.6-3.1h0m-6.3 9.1h0m2.6-6h0m2.3-3.4h0m-3.2 6.1h0m3.8-2.3h0m-9.8 7.6h0m3-4.8h0m7.9-2.5h0m3.1-5.8h0m-5.5 3.4h0m-8.4 11.1h0m-0.5-5.3h0m3.8-6.3h0m10-3.5h0m-5.2 5.8h0m-1.3-0.2h0m0.3-3.1h0m0 3.1h0m-0.6-4.1h0m0 3.8h0m2.6-0.6h0m-1.7 1.8h0m2.6 0.3h0m-2-0.7h0m-5.9 4h0m8.5-5.2h0m-8.3 5.7h0m2.7-2.8h0m-1.7 0.1h0m2.6-0.9h0m1.9-6.1h0m-3.9 10.9h0m3.4-7.7h0m-3.5 9h0m0.4-0.2h0m2.3-7.7h0m0.3 3.3h0m-4.2-4.8h0m-3.3 2.4h0m9.7 0.2h0m-2-6.3h0m9.8 0.4h0m-15.1 3.4h0m3 8.1h0m7.5-15h0m0.4 1.5h0m-3 6.7h0m-5.8 3.1h0m1.7-2.5h0" stroke="#000" stroke-opacity="0.35" stroke-width="0.75" stroke-linecap="square" fill="none"/>
<path d="M45.7 273.7h0m5.2 4.8h0m3.9-6h0m-3.2-16.2h0m0.9 18.6h0m-5.4-3.1h0m3.1-3.2h0m-5.1 7.4h0m5.1-4.1h0m3.9-4.7h0m-6 5.5h0m-0.9-1.5h0m4-11.7h0m-3.5 17.9h0m0.7-0.2h0m-2-7.6h0m1 2.4h0m-2.6-9.2h0" stroke="#000" stroke-opacity="0.15" stroke-width="0.75" stroke-linecap="square" fill="none"/>
<path d="M60.5 258.6h0m-1.9 2.8h0m7-9.8h0m4-2.5h0m-12.1 12.4h0m7.1-9.3h0m-1 5.3h0m-4.7 4h0m2.4-1.6h0m-2.5-0.9h0m4.5-1.1h0m4.1-6.4h0" stroke="#000" stroke-opacity="0.2" stroke-width="0.75" stroke-linecap="square" fill="none"/>
<rect x="94.5" y="239.6" width="44" height="42" fill="#fff" stroke="#777" stroke-width="0.6" />
<line x1="111.8" y1="239.6" x2="111.8" y2="281.6" stroke="#888" stroke-width="0.6" />
<line x1="94.5" y1="262.7" x2="138.5" y2="262.7" stroke="#888" stroke-width="0.6" />
<line x1="93.5" y1="280.8" x2="94.5" y2="280.8" stroke="#aaa" stroke-width="0.4" />
<text x="92.9" y="281.7" font-size="2.4" fill="#999" font-family='"Liberation Sans", sans-serif' text-anchor="end">1</text>
<line x1="93.5" y1="270.7" x2="94.5" y2="270.7" stroke="#aaa" stroke-width="0.4" />
<text x="92.9" y="271.6" font-size="2.4" fill="#999" font-family='"Liberation Sans", sans-serif' text-anchor="end">1</text>
<line x1="93.5" y1="260.6" x2="94.5" y2="260.6" stroke="#aaa" stroke-width="0.4" />
<text x="92.9" y="261.5" font-size="2.4" fill="#999" font-family='"Liberation Sans", sans-serif' text-anchor="end">1</text>
<line x1="93.5" y1="250.5" x2="94.5" y2="250.5" stroke="#aaa" stroke-width="0.4" />
<text x="92.9" y="251.4" font-size="2.4" fill="#999" font-family='"Liberation Sans", sans-serif' text-anchor="end">1</text>
<line x1="93.5" y1="240.4" x2="94.5" y2="240.4" stroke="#aaa" stroke-width="0.4" />
<text x="92.9" y="241.3" font-size="2.4" fill="#999" font-family='"Liberation Sans", sans-serif' text-anchor="end">1</text>
<line x1="95.3" y1="281.6" x2="95.3" y2="282.6" stroke="#aaa" stroke-width="0.4" />
<text x="95.3" y="284.6" font-size="2.4" fill="#999" font-family='"Liberation Sans", sans-serif' text-anchor="middle">1</text>
<line x1="105.9" y1="281.6" x2="105.9" y2="282.6" stroke="#aaa" stroke-width="0.4" />
<text x="105.9" y="284.6" font-size="2.4" fill="#999" font-family='"Liberation Sans", sans-serif' text-anchor="middle">1</text>
<line x1="116.5" y1="281.6" x2="116.5" y2="282.6" stroke="#aaa" stroke-width="0.4" />
<text x="116.5" y="284.6" font-size="2.4" fill="#999" font-family='"Liberation Sans", sans-serif' text-anchor="middle">1</text>
<line x1="127.1" y1="281.6" x2="127.1" y2="282.6" stroke="#aaa" stroke-width="0.4" />
<text x="127.1" y="284.6" font-size="2.4" fill="#999" font-family='"Liberation Sans", sans-serif' text-anchor="middle">1</text>
<line x1="137.7" y1="281.6" x2="137.7" y2="282.6" stroke="#aaa" stroke-width="0.4" />
<text x="137.7" y="284.6" font-size="2.4" fill="#999" font-family='"Liberation Sans", sans-serif' text-anchor="middle">1</text>
<text x="112.8" y="286.2" font-size="2.0" fill="#aaa" font-family='"Liberation Sans", sans-serif' text-anchor="middle">yo-pro</text>
<text x="102.8" y="254.5" font-size="4.8" text-anchor="middle" fill="#333" font-family='"Liberation Serif", serif'>93.7</text>
<line x1="102.8" y1="255.8" x2="102.8" y2="258.6" stroke="#111" stroke-width="0.8" />
<path d="M101.5 258.3 L104.1 258.3 L102.8 260.6 Z" fill="#111"/>
<ellipse cx="103.1" cy="271.1" rx="8.4" ry="3.6" fill="#000" fill-opacity="0.92" transform="rotate(-60 103.1 271.1)" filter="url(#b2)"/>
<path d="M96.1 278.3h0m9.6-3.1h0m-6.6-1.5h0m7.3-8h0m-0.6 7.7h0m-6.2 3.4h0m5.3-7.9h0m-7.2 6.7h0m10.1-13.2h0m-3.1 11.4h0m-6.8 6h0m2.6-3.7h0m0.3-0.3h0m3.2-6.2h0m-1.3 3.4h0m-1.4-1.3h0m5.4-2.5h0m-9.7 7.2h0m4.5-1.1h0m1.1 4.6h0m0.9-8.8h0m0.3-5.2h0m1.2 3.9h0m-0.7-6.3h0m4 1.7h0m-2.2 6.1h0m-4.2 0.8h0m2.7-5.5h0m4.6 1h0m-5.1 2.7h0m-4.9 2.8h0m5.6-10.3h0m-0.8 8.3h0m-4.9 3.5h0m6.7 2.6h0m1.4-6.1h0m3.8-8.5h0m-5.2 1.6h0m-1.4 12.1h0m0.5-13.6h0m2.1 3.2h0m0.5 2.6h0m-0.4-7.4h0m-1.2 11.6h0m-2.3 0.3h0m-4.4-3.7h0m4.4 5.6h0m-5.4-3.2h0m3.8 1.9h0m3.3-4.5h0m-3-2h0m-2.5 5.9h0m3.1 0.7h0m3.5-9.4h0m2.2 3h0m-10.4 8.2h0m2.4-7h0m3.7-8.9h0m-2.8 18.4h0m1.2-2.5h0m0.1 1.6h0m0.4-2.3h0m-0.5-10.6h0m-5.8 8.9h0m5.3 4.5h0m2.8-5.4h0m4.5-6.7h0m-5.2 1.5h0m-1.4 6.3h0m5.2-5.1h0m-4.7 1h0m3.3 4.3h0m1.8-1.3h0m-5.3 3.4h0m2.4-4.7h0m-3.7 4.2h0m0.6-4.2h0m-5.7 4.1h0m6.7-1.7h0m1-3.3h0m-3.3-2.3h0m5.2-1.8h0m-6.4 8h0m6.5-7.5h0m-3.6 13.9h0m0.5-14.7h0m6.1 1h0m-1.9 0.2h0m-2.9 2.9h0m-2.3 4.2h0m4.2-9.2h0m-1.3-5.2h0m-5.2 9.4h0m-1.1 10.9h0m2.2-8h0m-1.4 4h0m-1.4 2.7h0m0.7-6.6h0m1.2-5.3h0m4.8 2.6h0m0-0.6h0m-0.2-1.8h0m-3.8 9.9h0m-0.8-2.4h0m1.3-5.1h0m1-5h0m4 0.8h0m3.9-0.8h0m-4.7 3.9h0m-5.2 0.5h0m-0.9 3.8h0m1.3 1.8h0m0.4 0.8h0m0.2-3.4h0m3.8-1.9h0m-6.5 7.3h0m12.6-20.1h0m-8.9 10.7h0m6.8 0.6h0m-4.8-0.2h0m-5.4 0.4h0m5.1-0.7h0m0.9 1.8h0m3.3 3.1h0m-4.1-6.9h0m2 3.1h0m0.1 3.8h0" stroke="#000" stroke-opacity="0.35" stroke-width="0.75" stroke-linecap="square" fill="none"/>
<path d="M96 269.7h0m4.9 8.7h0m-0.6-1h0m-1-6.7h0m1.1 3.2h0m7.1-8.2h0m-4.3 6.8h0m5-6.2h0m-1-7.8h0m-0.4 7.5h0m-3.6 10.1h0m6.6-8.4h0m-7.7-1.6h0m3.2 4.5h0m4.5-9.9h0m-0.4 12.4h0m-7.3-3.5h0m5 1.1h0m-9-4.1h0" stroke="#000" stroke-opacity="0.15" stroke-width="0.75" stroke-linecap="square" fill="none"/>
<path d="M118.2 273.4h0m-2 0.6h0m2.3-7h0m1.2-5.3h0m-14 10.1h0m15.4-4.5h0m0.8 0.2h0m-3.2 0.3h0m-0.5 5.5h0m2.6-9.4h0m3.9 9.2h0m-3.4-8.2h0m1.6 3h0m-4.3 5.1h0m5.7-8.4h0m-5.5 3.6h0m2.4 5.5h0m-3.8-1.4h0m2.8-3.3h0m-6.3 5.5h0m0.3 0.2h0m4.3-4.5h0m-3.4-1.4h0m-1.6 3.9h0m5.3-2.1h0m-0.4 1.8h0m1.3-2.9h0m-2.2 0.8h0m3.6-4.4h0m-7.9 8.2h0" stroke="#000" stroke-opacity="0.18" stroke-width="0.75" stroke-linecap="square" fill="none"/>
<rect x="151.5" y="239.6" width="44" height="42" fill="#fff" stroke="#777" stroke-width="0.6" />
<line x1="171.4" y1="239.6" x2="171.4" y2="281.6" stroke="#888" stroke-width="0.6" />
<line x1="151.5" y1="255.8" x2="195.5" y2="255.8" stroke="#888" stroke-width="0.6" />
<line x1="150.5" y1="280.8" x2="151.5" y2="280.8" stroke="#aaa" stroke-width="0.4" />
<text x="149.9" y="281.7" font-size="2.4" fill="#999" font-family='"Liberation Sans", sans-serif' text-anchor="end">1</text>
<line x1="150.5" y1="270.7" x2="151.5" y2="270.7" stroke="#aaa" stroke-width="0.4" />
<text x="149.9" y="271.6" font-size="2.4" fill="#999" font-family='"Liberation Sans", sans-serif' text-anchor="end">1</text>
<line x1="150.5" y1="260.6" x2="151.5" y2="260.6" stroke="#aaa" stroke-width="0.4" />
<text x="149.9" y="261.5" font-size="2.4" fill="#999" font-family='"Liberation Sans", sans-serif' text-anchor="end">1</text>
<line x1="150.5" y1="250.5" x2="151.5" y2="250.5" stroke="#aaa" stroke-width="0.4" />
<text x="149.9" y="251.4" font-size="2.4" fill="#999" font-family='"Liberation Sans", sans-serif' text-anchor="end">1</text>
<line x1="150.5" y1="240.4" x2="151.5" y2="240.4" stroke="#aaa" stroke-width="0.4" />
<text x="149.9" y="241.3" font-size="2.4" fill="#999" font-family='"Liberation Sans", sans-serif' text-anchor="end">1</text>
<line x1="152.3" y1="281.6" x2="152.3" y2="282.6" stroke="#aaa" stroke-width="0.4" />
<text x="152.3" y="284.6" font-size="2.4" fill="#999" font-family='"Liberation Sans", sans-serif' text-anchor="middle">1</text>
<line x1="162.9" y1="281.6" x2="162.9" y2="282.6" stroke="#aaa" stroke-width="0.4" />
<text x="162.9" y="284.6" font-size="2.4" fill="#999" font-family='"Liberation Sans", sans-serif' text-anchor="middle">1</text>
<line x1="173.5" y1="281.6" x2="173.5" y2="282.6" stroke="#aaa" stroke-width="0.4" />
<text x="173.5" y="284.6" font-size="2.4" fill="#999" font-family='"Liberation Sans", sans-serif' text-anchor="middle">1</text>
<line x1="184.1" y1="281.6" x2="184.1" y2="282.6" stroke="#aaa" stroke-width="0.4" />
<text x="184.1" y="284.6" font-size="2.4" fill="#999" font-family='"Liberation Sans", sans-serif' text-anchor="middle">1</text>
<line x1="194.7" y1="281.6" x2="194.7" y2="282.6" stroke="#aaa" stroke-width="0.4" />
<text x="194.7" y="284.6" font-size="2.4" fill="#999" font-family='"Liberation Sans", sans-serif' text-anchor="middle">1</text>
<text x="172.4" y="286.2" font-size="2.0" fill="#aaa" font-family='"Liberation Sans", sans-serif' text-anchor="middle">yo-pro</text>
<text x="161.8" y="246.9" font-size="4.8" text-anchor="middle" fill="#333" font-family='"Liberation Serif", serif'>94.4</text>
<line x1="161.8" y1="247.9" x2="161.8" y2="249.6" stroke="#111" stroke-width="0.8" />
<path d="M160.5 249.3 L163.1 249.3 L161.8 251.6 Z" fill="#111"/>
<ellipse cx="161.5" cy="272.4" rx="6" ry="3.2" fill="#000" fill-opacity="0.92" transform="rotate(-40 161.5 272.4)" filter="url(#b2)"/>
<path d="M163 271.3h0m-2.5-1.8h0m-1.8 5.3h0m1.1-4.5h0m0.5-2.4h0m3.6-0.5h0m-5.4 4.6h0m-1.3 3.2h0m-1.7 1.4h0m6.3-5.2h0m-2.3-1.5h0m-5.3 4.9h0m11.1-4.6h0m-6.6 9.6h0m6.4-7.2h0m1.5-0.5h0m-9.9 4.7h0m5.4 0.9h0m1.6-7.1h0m-5.9-1.2h0m3 1.3h0m6-0.5h0m-5.9 1.7h0m3.3-3.2h0m1.1 1.2h0m-4 3.8h0m3.3-8.5h0m0.4 6.5h0m-2 3.8h0m1.5-3.9h0m-5 4.3h0m-1 0.6h0m8.4-11.1h0m-2.1 1.2h0m-1.9 6.8h0m-5.1 3.2h0m0.6-3.3h0m5.7-3.2h0m-1.2 1.3h0m2.1 2.7h0m-3.4-2.5h0m1.2 1.9h0m-2.9-6h0m2.2 5.8h0m6.6-8.6h0m-9.5 6.4h0m-0.3-1.6h0m0.1 4.9h0m-2.3 1.3h0m4.7 0.6h0m8.1-4.3h0m-6.5 1.2h0m4.9-8h0m-2.4 1.3h0m-2.9 0.5h0m-2.4 6h0m-2.1-3.3h0m3.5 1.9h0m5.4-2h0m-11.7 8.5h0m9.4-8.6h0m-7.2 2.3h0m1.7-0.1h0m1.1 0.8h0m3.8-5.1h0m-3 2.2h0m2.9 3.9h0m-5.8-1.7h0m3.6 0.5h0m-1.5 2.4h0m2.5-1.3h0m-4.2 3.8h0m5.7-9.5h0m3.7 0h0m-11.9 6.1h0m2.3-0.7h0m3 0.4h0m-0.8-1.2h0m-4.9-1h0m2 0.8h0m3.1-6.2h0m0.2-1.4h0m0.1 8.4h0m-4.3 0.6h0m5.9-5.2h0m-1.3 4.4h0m0.4-4.2h0m3.6 0.2h0m-2.7-1.4h0m2.1 2.1h0m-1.7-0.1h0m1.2 0.9h0m-4 4.7h0m0.1-2.8h0m1.4 2.8h0m4-3.3h0m-8 6.4h0m2.6 2.2h0m4.1-6.8h0m-2.7-0.8h0m0.6 5.1h0m-0.2-2.6h0m-3.3-0.9h0m1.4-1h0m0.7 1.6h0m0.3-6.9h0m-2.9 3.3h0m4.7-3.8h0m0.2 4h0m-4.7-2.3h0m8-1.3h0m-1.3 4.7h0m-8.2 0.7h0m12.6-1.9h0m-10.7 3h0m5.3-4.6h0m2.3 0.3h0m-4.2 3.7h0m-0.4 2.1h0m-0.5 0.6h0m5.3-13.5h0m-2.1 2.5h0m-0.6 10.4h0m1.9-5h0m-2.9 0.9h0m-0.3-0.9h0m-3.8 0.2h0m8-3.1h0m1.6 0.9h0" stroke="#000" stroke-opacity="0.35" stroke-width="0.75" stroke-linecap="square" fill="none"/>
<path d="M161 267.8h0m-0.2 5.6h0m-0.3-1.4h0m-0.9-0.1h0m-2.8-2.8h0m4.9 10.2h0m-5-5.2h0m1.3 0.6h0m6.3 4.9h0m-3.6 0h0m0.2-4.4h0m10.9-11.3h0m-16.7 0.6h0m4.7 8.4h0m3-0.3h0m-7.6 0.9h0m9-4.4h0m-0.8 5h0m-0.9-1.7h0" stroke="#000" stroke-opacity="0.15" stroke-width="0.75" stroke-linecap="square" fill="none"/>
<path d="M166.4 266.7h0m3.8-1.5h0m-2.2 0.9h0m0.7-1.1h0m0.6 1.7h0m0.7-3.9h0m-2.4 5.1h0m2.9-4.9h0m-3.6 3.8h0m1.5 1.4h0m-1-0.5h0m-3.9 1.2h0m6.6-3h0m-8.4 4.2h0m4.3-3.2h0m0.7-0.2h0m-0.8-1.4h0m4.9-3.2h0m-6.8 6.2h0m5.6-1.5h0m-2.1 0.1h0m5-6h0m-5.1 5.9h0m2.7-2.6h0m-6.2 5.8h0m4.9-6.9h0m-4.8 5.1h0m-1-0.6h0m7.2-4.2h0m-3.3 5.3h0m-1.8-0.8h0m2-3.7h0m4.2-2.5h0m-6.3 6.8h0m0.9-3.6h0m-2.5 3.8h0m8-8.6h0m-0.8 4.8h0m-8 1.4h0m6 1.1h0m-5.1 1.9h0m4.2-4.6h0m1.3-0.7h0m-4.6 3.6h0m3.2 0.3h0" stroke="#000" stroke-opacity="0.18" stroke-width="0.75" stroke-linecap="square" fill="none"/>
<path d="M172 264.9h0m8.3-4.3h0m3.6-4.2h0m-10.3 8.3h0m8.6-8.1h0m-10.5 9h0m17.4-12.1h0m-12.3 8.7h0m2.7-2.5h0m-4.5 3h0m12.7-8.7h0m-17.3 11.1h0m14-8.7h0m-8.5 4.9h0m10.5-4.9h0m-1.2-0.7h0m4.9-3.7h0m-6.1 4.9h0m-13.1 7.8h0m1.8-0.9h0m13.6-8.1h0m4.4-4.3h0m-0.9-0.5h0m-6.8 5.7h0m-5 3.5h0m6.7-4.3h0m-8.8 6.8h0m4.2-3.8h0m0.6-1h0m3.2-2h0" stroke="#000" stroke-opacity="0.25" stroke-width="0.75" stroke-linecap="square" fill="none"/>
<path d="M181.7 245.6h0m-9.9 0.5h0m13.6-2h0m-9.3-0.6h0m2.4 1.5h0m3.5-1.2h0m0.1 2.4h0m0.4-0.3h0m4.3-0.1h0m-1.9 1.3h0" stroke="#000" stroke-opacity="0.2" stroke-width="0.75" stroke-linecap="square" fill="none"/>
<rect x="206" y="239.6" width="44" height="42" fill="#fff" stroke="#777" stroke-width="0.6" />
<line x1="226.6" y1="239.6" x2="226.6" y2="281.6" stroke="#888" stroke-width="0.6" />
<line x1="206" y1="255.9" x2="250" y2="255.9" stroke="#888" stroke-width="0.6" />
<line x1="205" y1="280.8" x2="206" y2="280.8" stroke="#aaa" stroke-width="0.4" />
<text x="204.4" y="281.7" font-size="2.4" fill="#999" font-family='"Liberation Sans", sans-serif' text-anchor="end">1</text>
<line x1="205" y1="270.7" x2="206" y2="270.7" stroke="#aaa" stroke-width="0.4" />
<text x="204.4" y="271.6" font-size="2.4" fill="#999" font-family='"Liberation Sans", sans-serif' text-anchor="end">1</text>
<line x1="205" y1="260.6" x2="206" y2="260.6" stroke="#aaa" stroke-width="0.4" />
<text x="204.4" y="261.5" font-size="2.4" fill="#999" font-family='"Liberation Sans", sans-serif' text-anchor="end">1</text>
<line x1="205" y1="250.5" x2="206" y2="250.5" stroke="#aaa" stroke-width="0.4" />
<text x="204.4" y="251.4" font-size="2.4" fill="#999" font-family='"Liberation Sans", sans-serif' text-anchor="end">1</text>
<line x1="205" y1="240.4" x2="206" y2="240.4" stroke="#aaa" stroke-width="0.4" />
<text x="204.4" y="241.3" font-size="2.4" fill="#999" font-family='"Liberation Sans", sans-serif' text-anchor="end">1</text>
<line x1="206.8" y1="281.6" x2="206.8" y2="282.6" stroke="#aaa" stroke-width="0.4" />
<text x="206.8" y="284.6" font-size="2.4" fill="#999" font-family='"Liberation Sans", sans-serif' text-anchor="middle">1</text>
<line x1="217.4" y1="281.6" x2="217.4" y2="282.6" stroke="#aaa" stroke-width="0.4" />
<text x="217.4" y="284.6" font-size="2.4" fill="#999" font-family='"Liberation Sans", sans-serif' text-anchor="middle">1</text>
<line x1="228" y1="281.6" x2="228" y2="282.6" stroke="#aaa" stroke-width="0.4" />
<text x="228" y="284.6" font-size="2.4" fill="#999" font-family='"Liberation Sans", sans-serif' text-anchor="middle">1</text>
<line x1="238.6" y1="281.6" x2="238.6" y2="282.6" stroke="#aaa" stroke-width="0.4" />
<text x="238.6" y="284.6" font-size="2.4" fill="#999" font-family='"Liberation Sans", sans-serif' text-anchor="middle">1</text>
<line x1="249.2" y1="281.6" x2="249.2" y2="282.6" stroke="#aaa" stroke-width="0.4" />
<text x="249.2" y="284.6" font-size="2.4" fill="#999" font-family='"Liberation Sans", sans-serif' text-anchor="middle">1</text>
<text x="227.6" y="286.2" font-size="2.0" fill="#aaa" font-family='"Liberation Sans", sans-serif' text-anchor="middle">yo-pro</text>
<text x="216.3" y="246.9" font-size="4.8" text-anchor="middle" fill="#333" font-family='"Liberation Serif", serif'>89.5</text>
<line x1="216.3" y1="247.9" x2="216.3" y2="249.6" stroke="#111" stroke-width="0.8" />
<path d="M215 249.3 L217.6 249.3 L216.3 251.6 Z" fill="#111"/>
<ellipse cx="215.6" cy="272.2" rx="5.8" ry="3.1" fill="#000" fill-opacity="0.92" transform="rotate(-42 215.6 272.2)" filter="url(#b2)"/>
<path d="M211.1 273.8h0m0.8 2.2h0m4.4-1.2h0m-2.4-3h0m-0.6-1.4h0m5.9-2.1h0m-9.1 7.3h0m6.2-1.3h0m-4 2.9h0m2-5.7h0m8-7.7h0m-9.8 9.2h0m3.7-1.1h0m-5.7 2.4h0m-0.4-0.6h0m2 3.5h0m-1-3.5h0m-0.3 1.5h0m3.4-2.2h0m-2.7-1.2h0m-1.1 8.5h0m3.6-6.4h0m-1.2 0.6h0m8.5-2.1h0m-1.6 0.3h0m-0.9-0.3h0m-2-1.3h0m-1.1 0.8h0m5.7-5.9h0m-9.1 10.5h0m1.8-2.5h0m0.8 1.3h0m1.1-4.6h0m-4 3.9h0m-2.1 1h0m2.9-2.4h0m6-5h0m-1.9 6.5h0m-1-3.4h0m-3.7 1.2h0m3.8 1h0m1.5 0.1h0m-4.4 2.8h0m4-1.5h0m-6.2 2.4h0m4.4-6.9h0m3.6-1.7h0m-3.5 5.6h0m-2-3.1h0m0.3 0.7h0m2.5-2h0m0.4-0.9h0m-3 7.2h0m-1.9-1h0m-4 1.5h0m7.2-5.2h0m1.2 0.2h0m5.4-3.1h0m-5.7 4.1h0m2.8-0.2h0m-2.9-0.9h0m0.3 0.6h0m2.4-1.7h0m-10.2 8.8h0m1.7-6.6h0m-1.4 2.4h0m5.1-3.1h0m0.9 3.6h0m8.3-5.6h0m-9 4.1h0m-3.3 3h0m6.5-2.3h0m1-3.6h0m0.5 1.6h0m-4.7-1h0m-1.4-0.3h0m-1.6-4.7h0m2 8.9h0m3.9-3.4h0m-2.5 0h0m2.7-1h0m-3.4 2.3h0m4.2 1.7h0m-3.4-1.4h0m-7-2.8h0m4.9 1.9h0m-1.5 2.5h0m5.4-8.1h0m2.1 7.6h0m-0.9-3.4h0m-3.6 2.2h0m-0.7-0.1h0m5-4.7h0m-2.8-2.9h0m-3.6 11.2h0m1.1-2.4h0m7.4-3.7h0m-1.7-3.7h0m-2.6 7.8h0m-0.8-0.2h0m0.5-3.1h0m-3.1 3.5h0m7.9-3.7h0m-3.3 2.1h0m0.6 0.4h0m-5.1 2.5h0m-0.3 0.8h0m1.9-4.5h0m-0.7 1.2h0m3.5 3.6h0m-5.7-1.1h0m8.4-4.7h0m-1.8-0.5h0m-1.5 0.5h0m3.5-7.8h0m-4.3 8.4h0m-2.5-2.5h0m8-1.5h0m-3 2.3h0m-4-2.3h0m3.7 5.1h0m-2.8-4.8h0m-1.3 4.7h0m4.1-2.6h0m-6.3 4.2h0m0.7 1.1h0m-1.2-1.7h0m1.5 3.4h0" stroke="#000" stroke-opacity="0.35" stroke-width="0.75" stroke-linecap="square" fill="none"/>
<path d="M207.1 278h0m15.2-12.6h0m-9.4 2.2h0m-0.6 6.4h0m9.8-3.5h0m-3.3 5.2h0m-9.1-0.2h0m4.1-0.2h0m3.2 2.4h0m-0.2-9.2h0m-0.5 7.7h0m-4.1 1.9h0m-0.3-10.5h0m2.4-1.2h0m4.9 1.7h0m-7.7 10h0m5.3 1h0m-3.9-1.5h0m-1.1-2.5h0m7-5.5h0" stroke="#000" stroke-opacity="0.15" stroke-width="0.75" stroke-linecap="square" fill="none"/>
<path d="M222.5 266.1h0m5-3.2h0m-4.6 5.1h0m-5.3 4.1h0m6.9-9.4h0m-5.7 5.6h0m-0.2-1.3h0m1.4 0h0m1.7 1.4h0m0.7-4.2h0m2.8-2.8h0m0.2 3.1h0m-5.6-0.7h0m6.6 1.9h0m-4.1 2.7h0m1.7-4.5h0m-5.4 4.2h0m1.6-1.3h0m0 1.2h0m1.9-3.4h0m1.6-2.5h0m-2.4 4.8h0m3.6 0h0m-0.5-0.2h0m-6.1 2.6h0m1.9-1.5h0m2.9 0.3h0m-2.6-2.3h0m6.8-4.4h0m0 0.8h0m-6.4 4.2h0m-0.8 2.2h0m-2 0.4h0m0.8-2.1h0m5.3-0.2h0m-5.3 0.4h0m5.8-3.9h0m-3.1 3.9h0m-3.5 0.4h0m8.4-3.9h0m-4.7 1h0m1.9 0.5h0m-4.6 4h0m1.4-1.3h0m1.7-2.6h0" stroke="#000" stroke-opacity="0.18" stroke-width="0.75" stroke-linecap="square" fill="none"/>
<path d="M226.9 264h0m0.5-0.3h0m13.2-9.1h0m-6.5 6h0m-0.8-0.7h0m0.4-0.5h0m-5.6 4.5h0m16.8-12.6h0m-7.7 5.9h0m0.3-0.2h0m-11.7 8.3h0m14.7-10.3h0m0.3-0.4h0m-7.3 5.5h0m-6.3 4.6h0m10-7h0m2.7-1.2h0m-2.9 1.1h0m-5.1 2.8h0m2.6-1.3h0m-8.3 6.8h0m0.1-2.3h0m11.4-7.7h0m7.1-3.4h0m-3.2 2.7h0m-12 6.2h0m12.4-7.9h0m-16.2 9.6h0m11.3-6.1h0m-3.3 3.3h0" stroke="#000" stroke-opacity="0.25" stroke-width="0.75" stroke-linecap="square" fill="none"/>
<path d="M239 242.1h0m6 4.5h0m-3.8-4.8h0m2.1 10.5h0m-3.3-3.4h0m-6.5-2.9h0m3.1 1.5h0m1.3-1.1h0m-6.3-4.3h0m5.3 10.9h0m-5.8-5.9h0m13.7-3.4h0m-17.5 3h0m9.4-3.7h0m9.1 4.7h0m-8.9-6.2h0m7.4 7.4h0m-2.4 1.5h0m-11.1-7.8h0m11.3 4.3h0m-5.4-2.7h0m6.3 2.1h0m-0.9-4.1h0m-4.8 4.6h0m5.7-6.1h0" stroke="#000" stroke-opacity="0.15" stroke-width="0.75" stroke-linecap="square" fill="none"/>
<rect x="41.6" y="289.4" width="44" height="42" fill="#fff" stroke="#777" stroke-width="0.6" />
<line x1="58.5" y1="289.4" x2="58.5" y2="331.4" stroke="#888" stroke-width="0.6" />
<line x1="41.6" y1="312.5" x2="85.6" y2="312.5" stroke="#888" stroke-width="0.6" />
<line x1="40.6" y1="330.6" x2="41.6" y2="330.6" stroke="#aaa" stroke-width="0.4" />
<text x="40" y="331.5" font-size="2.4" fill="#999" font-family='"Liberation Sans", sans-serif' text-anchor="end">1</text>
<line x1="40.6" y1="320.5" x2="41.6" y2="320.5" stroke="#aaa" stroke-width="0.4" />
<text x="40" y="321.4" font-size="2.4" fill="#999" font-family='"Liberation Sans", sans-serif' text-anchor="end">1</text>
<line x1="40.6" y1="310.4" x2="41.6" y2="310.4" stroke="#aaa" stroke-width="0.4" />
<text x="40" y="311.3" font-size="2.4" fill="#999" font-family='"Liberation Sans", sans-serif' text-anchor="end">1</text>
<line x1="40.6" y1="300.3" x2="41.6" y2="300.3" stroke="#aaa" stroke-width="0.4" />
<text x="40" y="301.2" font-size="2.4" fill="#999" font-family='"Liberation Sans", sans-serif' text-anchor="end">1</text>
<line x1="40.6" y1="290.2" x2="41.6" y2="290.2" stroke="#aaa" stroke-width="0.4" />
<text x="40" y="291.1" font-size="2.4" fill="#999" font-family='"Liberation Sans", sans-serif' text-anchor="end">1</text>
<line x1="42.4" y1="331.4" x2="42.4" y2="332.4" stroke="#aaa" stroke-width="0.4" />
<text x="42.4" y="334.4" font-size="2.4" fill="#999" font-family='"Liberation Sans", sans-serif' text-anchor="middle">1</text>
<line x1="53" y1="331.4" x2="53" y2="332.4" stroke="#aaa" stroke-width="0.4" />
<text x="53" y="334.4" font-size="2.4" fill="#999" font-family='"Liberation Sans", sans-serif' text-anchor="middle">1</text>
<line x1="63.6" y1="331.4" x2="63.6" y2="332.4" stroke="#aaa" stroke-width="0.4" />
<text x="63.6" y="334.4" font-size="2.4" fill="#999" font-family='"Liberation Sans", sans-serif' text-anchor="middle">1</text>
<line x1="74.2" y1="331.4" x2="74.2" y2="332.4" stroke="#aaa" stroke-width="0.4" />
<text x="74.2" y="334.4" font-size="2.4" fill="#999" font-family='"Liberation Sans", sans-serif' text-anchor="middle">1</text>
<line x1="84.8" y1="331.4" x2="84.8" y2="332.4" stroke="#aaa" stroke-width="0.4" />
<text x="84.8" y="334.4" font-size="2.4" fill="#999" font-family='"Liberation Sans", sans-serif' text-anchor="middle">1</text>
<text x="59.5" y="336" font-size="2.0" fill="#aaa" font-family='"Liberation Sans", sans-serif' text-anchor="middle">yo-pro</text>
<text x="49.9" y="304.3" font-size="4.8" text-anchor="middle" fill="#333" font-family='"Liberation Serif", serif'>93.7</text>
<line x1="49.9" y1="305.6" x2="49.9" y2="308.4" stroke="#111" stroke-width="0.8" />
<path d="M48.6 308.1 L51.2 308.1 L49.9 310.4 Z" fill="#111"/>
<ellipse cx="50" cy="322.6" rx="7.5" ry="4.1" fill="#000" fill-opacity="0.8" transform="rotate(-70 50 322.6)" filter="url(#b2)"/>
<path d="M47.9 322.9h0m1.7-0.4h0m3.2-1.1h0m-2.5-0.1h0m4.9-1.4h0m-7.2 1.6h0m7.4-6.2h0m-2.8-3.2h0m-3.7 12.1h0m-2.9-2.6h0m1.5-4.3h0m1.4 10.5h0m-4.4-1.1h0m10.7-0.7h0m-5.8-7.1h0m3.5-2.3h0m-7 12.5h0m2.5-7.3h0m-1.8 2.4h0m5.8-1.6h0m-0.9 6.2h0m-3.7-2.6h0m6.6-10.8h0m-9.4 5.1h0m4.2 1.4h0m3.4 2.8h0m1.2 2.2h0m-3.3-4.4h0m-0.8 1.6h0m3.3-7.6h0m-6.7 10h0m7.2-8.8h0m-5.3 8.7h0m3.5-3.7h0m-3.1 4.5h0m-2.9 0.7h0m7.5-2.9h0m1.1-0.4h0m-0.2-2.5h0m-9.1-0.5h0m7.6-7.5h0m-1.8 11.4h0m-2.4-1.5h0m3-1.9h0m-4.5 2.4h0m3.5-10.2h0m-2.4 12.3h0m2.6-3.1h0m5.5-6.9h0m-5.8 6.3h0m1-5h0m-3.9 2.8h0m3.1-0.1h0m-2.3 8.9h0m6.5-16.9h0m-2.6 15h0m-1-6.5h0m3.9-4.7h0m-3.6-4.3h0m-2.4 12.4h0m-1.8-4h0m-0.4-0.6h0m1.6 5.1h0m2.9-3.3h0m-1.7 4.8h0m0.7-5.4h0m-1.6 0.9h0m8-6.5h0m-2.7 7.2h0m-6.9 3.5h0m3.5-1.6h0m-3.6-1.4h0m-2.5 5.3h0m8.4-9.8h0m-4.9 5.7h0m1.8-1h0m-0.5 0.9h0m4.5-4.4h0m-5.4 5.7h0m-0.8 0.1h0m1.4-3h0m-0.4-3.8h0m4 2.6h0m-4 2.2h0m1.4-4.3h0m0 4.9h0m2-2.3h0m-5.5 6.6h0m5.7-7.5h0m-4.4 3.8h0m5.5-9.2h0m-4.8-0.2h0m0.8 4.6h0m3.2 6.1h0m-6.8 0.4h0m2.5-1h0m3-2.7h0m2.2-5.6h0m2.4-1.9h0m-5.3 4.5h0m1-4h0m0.3 2.1h0m-1 7.8h0m1.2-6.1h0m0.2-2.1h0m-3.2 8.5h0m1.6-13.1h0m1.2 15.6h0m-4-7.7h0m-0.4 1.1h0m5.9-0.8h0m1.5-3.2h0m-1.7 5.8h0m-5.6-4.7h0m2.5-3.7h0m-5.1 8.4h0m-1.9 0.6h0m2.7 3.1h0m1.3 0.3h0m3.5-9.2h0m3.2 3h0m-0.8 5.2h0m-3.1-4.1h0" stroke="#000" stroke-opacity="0.35" stroke-width="0.75" stroke-linecap="square" fill="none"/>
<path d="M56.5 322.5h0m-7.2 3.2h0m6.5-9h0m-11.9 10.9h0m3.3 2.2h0m6.7-19.8h0m-3.1 10.2h0m2.6 2.4h0m-10-9h0m11.8 9.7h0m-6.8-9.8h0m1.6 6.4h0m1.1-2.5h0m-8.6 11.2h0m10.5-3.3h0" stroke="#000" stroke-opacity="0.15" stroke-width="0.75" stroke-linecap="square" fill="none"/>
<path d="M67.2 297.5h0m-9.6 11.7h0m9.5-10.9h0m-8.2 12.3h0m4.2-6.2h0m-5.2 4.5h0m-1.3 0.7h0m3.2-3.2h0m-1 3.7h0m5.6-7.5h0" stroke="#000" stroke-opacity="0.2" stroke-width="0.75" stroke-linecap="square" fill="none"/>
<path d="M65.3 318.9h0m4.5 3.3h0m-3.5-3.5h0m-0.6 4.8h0m-0.5-9.1h0m-2.5 3.9h0m3 6.1h0m-2.4-6.7h0m4 3.6h0m-7.6-0.1h0m4.8-0.4h0m-8.5-9.2h0m0.1 1.1h0m12.3 10.7h0m-11.2 1.8h0m0.8-9h0m16.3-1.9h0m-7.2 8.4h0m2-0.7h0m-4.2 3.5h0m-1.7-5.7h0m2.4-1.7h0m-2.7 6.1h0m8.8-2.4h0m-8.6-4.4h0" stroke="#000" stroke-opacity="0.15" stroke-width="0.75" stroke-linecap="square" fill="none"/>
<rect x="94.5" y="289.4" width="44" height="42" fill="#fff" stroke="#777" stroke-width="0.6" />
<line x1="111.8" y1="289.4" x2="111.8" y2="331.4" stroke="#888" stroke-width="0.6" />
<line x1="94.5" y1="312.5" x2="138.5" y2="312.5" stroke="#888" stroke-width="0.6" />
<line x1="93.5" y1="330.6" x2="94.5" y2="330.6" stroke="#aaa" stroke-width="0.4" />
<text x="92.9" y="331.5" font-size="2.4" fill="#999" font-family='"Liberation Sans", sans-serif' text-anchor="end">1</text>
<line x1="93.5" y1="320.5" x2="94.5" y2="320.5" stroke="#aaa" stroke-width="0.4" />
<text x="92.9" y="321.4" font-size="2.4" fill="#999" font-family='"Liberation Sans", sans-serif' text-anchor="end">1</text>
<line x1="93.5" y1="310.4" x2="94.5" y2="310.4" stroke="#aaa" stroke-width="0.4" />
<text x="92.9" y="311.3" font-size="2.4" fill="#999" font-family='"Liberation Sans", sans-serif' text-anchor="end">1</text>
<line x1="93.5" y1="300.3" x2="94.5" y2="300.3" stroke="#aaa" stroke-width="0.4" />
<text x="92.9" y="301.2" font-size="2.4" fill="#999" font-family='"Liberation Sans", sans-serif' text-anchor="end">1</text>
<line x1="93.5" y1="290.2" x2="94.5" y2="290.2" stroke="#aaa" stroke-width="0.4" />
<text x="92.9" y="291.1" font-size="2.4" fill="#999" font-family='"Liberation Sans", sans-serif' text-anchor="end">1</text>
<line x1="95.3" y1="331.4" x2="95.3" y2="332.4" stroke="#aaa" stroke-width="0.4" />
<text x="95.3" y="334.4" font-size="2.4" fill="#999" font-family='"Liberation Sans", sans-serif' text-anchor="middle">1</text>
<line x1="105.9" y1="331.4" x2="105.9" y2="332.4" stroke="#aaa" stroke-width="0.4" />
<text x="105.9" y="334.4" font-size="2.4" fill="#999" font-family='"Liberation Sans", sans-serif' text-anchor="middle">1</text>
<line x1="116.5" y1="331.4" x2="116.5" y2="332.4" stroke="#aaa" stroke-width="0.4" />
<text x="116.5" y="334.4" font-size="2.4" fill="#999" font-family='"Liberation Sans", sans-serif' text-anchor="middle">1</text>
<line x1="127.1" y1="331.4" x2="127.1" y2="332.4" stroke="#aaa" stroke-width="0.4" />
<text x="127.1" y="334.4" font-size="2.4" fill="#999" font-family='"Liberation Sans", sans-serif' text-anchor="middle">1</text>
<line x1="137.7" y1="331.4" x2="137.7" y2="332.4" stroke="#aaa" stroke-width="0.4" />
<text x="137.7" y="334.4" font-size="2.4" fill="#999" font-family='"Liberation Sans", sans-serif' text-anchor="middle">1</text>
<text x="112.8" y="336" font-size="2.0" fill="#aaa" font-family='"Liberation Sans", sans-serif' text-anchor="middle">yo-pro</text>
<text x="102.8" y="304.3" font-size="4.8" text-anchor="middle" fill="#333" font-family='"Liberation Serif", serif'>51.7</text>
<line x1="102.8" y1="305.6" x2="102.8" y2="308.4" stroke="#111" stroke-width="0.8" />
<path d="M101.5 308.1 L104.1 308.1 L102.8 310.4 Z" fill="#111"/>
<ellipse cx="101.8" cy="322.9" rx="7.2" ry="3.8" fill="#000" fill-opacity="0.85" transform="rotate(-65 101.8 322.9)" filter="url(#b2)"/>
<path d="M100.2 324.2h0m0.5 0.5h0m3.2 0.4h0m-5.9 3.4h0m4.5-9.6h0m-0.2 6.4h0m-3-3.1h0m4.3 0.7h0m-3.9 5.9h0m4.5-4.6h0m-3.5-1.5h0m0.1 3.6h0m2.7-1.4h0m2.1-2.4h0m-1.9-2.5h0m-0.5 3.8h0m-3-5.7h0m1.6 2.6h0m2.6 1.7h0m-4.7-5.8h0m2.6 5.3h0m0.6 4.4h0m0.9-7.4h0m4.4-0.5h0m-3.9 4.5h0m3.5-1.9h0m-2.7-0.9h0m-1.2 3h0m1-7.1h0m-5.5 6.2h0m6.7-10.9h0m-6.6 13h0m5.6-6.2h0m0.4-3.2h0m3.5 10.6h0m-8.1-1.9h0m8.1-0.8h0m-10.1-3.7h0m2.2 4.1h0m1.5-4h0m-3.4 1.6h0m0.3 7.5h0m3.4-13.6h0m1.7 7.3h0m-2.4 1.8h0m-0.4-0.6h0m2.8-8.6h0m-3.4 9.9h0m4.4 0.9h0m-3-1.5h0m-1.8 4.8h0m4.1-8h0m-7.6 8.3h0m8.4-4h0m2.6-9.4h0m-8.1 9.7h0m-1.3-8.1h0m9.4 1.2h0m-5.2 0.3h0m-4.2 0.7h0m0.1 7h0m5.5 1.5h0m-7.4-9.8h0m8.4 0.3h0m-5.7 4.6h0m6.9-8.9h0m-8 5.7h0m4.3 6.5h0m-1.8-4.6h0m-3.7 0.6h0m-2.2 5h0m9.5-4.8h0m-0.9 3h0m-1.3-11h0m1.9 1.1h0m-3.8 7h0m0.7 5.2h0m7-10.8h0m-6.4 8.8h0m3.5-6.9h0m-1.2 11.8h0m-5.8-5.6h0m4.3-2.7h0m-5.1 1.3h0m1.8 4.4h0m4.3-7.9h0m-3.5 0.7h0m2.7 5.3h0m1.7 0.6h0m1-7.7h0m-6.5 3.7h0m0.1-0.4h0m1 1.6h0m3.2 2.5h0m-5.2-0.7h0m6.7-7.8h0m-3.6 1.9h0m4.4 2.9h0m-2.8 0.4h0m2.9-5h0m-4.3-2.1h0m-5.9 13.1h0m5.5-9h0m2.1-3.7h0m-4.4 8.4h0m5.6-4.7h0m1 3.5h0m-8.1 1.3h0m4.4-2.3h0m1.3 0.2h0m1.5-0.7h0m-4.2-1.3h0m-2.2 1.2h0m2.8 1.2h0m1 2.7h0m2.5-8.9h0m-6.1 6.2h0" stroke="#000" stroke-opacity="0.35" stroke-width="0.75" stroke-linecap="square" fill="none"/>
<path d="M97.3 325.7h0m7.3-0.6h0m3.6-0.7h0m-4.3-3.4h0m-6.9-2.3h0m2.1 3.2h0m2.2 2h0m-0.3 0.4h0m3.1-2.9h0m-0.4 6.8h0m-0.2-5.1h0m9.4-7.2h0m-6.1-5.8h0m-1.9 11.2h0m-3.2 0.7h0m6.8-1.9h0m-2.8-10.7h0m-5.4 9.4h0" stroke="#000" stroke-opacity="0.15" stroke-width="0.75" stroke-linecap="square" fill="none"/>
<ellipse cx="117" cy="322.9" rx="7" ry="3.4" fill="#000" fill-opacity="0.42" transform="rotate(-25 117 322.9)" filter="url(#b2)"/>
<path d="M126.9 312.7h0m-11.5 4.8h0m-1.5 3.3h0m-9.9 4.6h0m11.7-2.3h0m-8.6 6.7h0m6.8-9.4h0m10.8-3.5h0m-4.2 9.8h0m-3.2-4.3h0m4.7-3.3h0m-4.7 3.2h0m-1.3 3.8h0m4.6 0.2h0m-3.2-8.5h0m1.6 3.2h0m-2 5.4h0m0.3-9.2h0m10.9 0.1h0m-20.7 8.9h0m10.8-7.8h0m-8.4 1.6h0m8 0.7h0m8.1-1h0m-8.3 0.8h0m3.1-4.1h0m-1.5 7.2h0m-8.2-2.1h0m15 3.7h0m-4.3 2h0m-2.3-6h0m-6.3-0.8h0m8.3-1.5h0m-7.5 6.7h0m4.8-6.1h0m-0.7 2.4h0m-0.4 0.2h0m-6.2-5.1h0m3.9 10.9h0m0.1-3.6h0m3.6-5.9h0m-2 3.5h0m2.8 1.8h0m-2.7-1.6h0m5.4-1.3h0m-12.1 9.6h0m8.4-10.4h0m-3.4 0.3h0m0.4-2h0m7.5 3.3h0m-11.2 5.4h0m-4-1.8h0m4.2 2.3h0m6.8-10.3h0m-0.4 6.7h0m6.2-5.9h0m-12.7 11.4h0m-9.2-0.1h0m5.9-2.7h0m3.1-6h0m9.7 4.2h0m-11.5 3.6h0m6.4-7.7h0m-1.9 5.2h0m8.2-6.8h0m-6.4-2.9h0m-2.5 8h0m1.7 0.3h0m-2.9 2.6h0m0.6-3h0m9 1h0m-11.4 0.2h0m0.2 0.4h0m0.8-4.8h0m11.6 0.1h0m-4.9 5.7h0m-10.5 1.6h0m17.2-10.7h0m-14.5 5.3h0m14.3-0.2h0m-5.3 2h0m-7.3-1.2h0m7.6-5.5h0m-2.2 4.2h0m-5.7 3.5h0m-3.5-1.3h0m-4.8 0h0m8.3 1.9h0m2.9-7.1h0m3.2 10.9h0m-0.6-6.2h0m-13.6 3.1h0m17.1-11.3h0m-10.6 7.4h0m6.1 1.9h0m-9 4.5h0m-7.1-2.4h0m16.8-8.7h0m-6.3 5.2h0m13.2-7.9h0m0.4 10.4h0m-11.4-4.6h0m1.9-1.5h0m-2.2 0.7h0m-7 1.4h0m14.8-3.6h0m-9.4 10.5h0m3.6-6.6h0m-2.8 2.5h0m1.9-2.5h0m2.4 3.2h0m0.6 1.6h0m3.5-9.9h0m-11.4 4.4h0m3.9 5.3h0m0.7-4.7h0m0.2-6.1h0m4 5.3h0m1.8-1.3h0m3.7 3.1h0m-8 2h0m-5.2-2.1h0m-0.4 2h0m-1.9-2.3h0m5.1-3.7h0m5.3-0.6h0m-3.9 4h0m8.4-0.6h0m-8.7-0.2h0m6.8-1.6h0m-10.4 5.8h0m9.2-4.9h0m-1.2 5.9h0m-4.2-0.5h0m13.1-2.8h0m-17 3.8h0m9.9 2h0m4.5-7h0m-1.1-1.1h0m-16 8.2h0m13.2-8.2h0m1.1-1.2h0m-0.8 1.3h0m-7.7 6.2h0m0.5-1.5h0" stroke="#000" stroke-opacity="0.3" stroke-width="0.75" stroke-linecap="square" fill="none"/>
<ellipse cx="118" cy="296.9" rx="3.2" ry="0.9" fill="#000" fill-opacity="0.6" transform="rotate(-35 118 296.9)" filter="url(#b2)"/>
<path d="M117.8 296.9h0m0-0.7h0m1.7-0.8h0m1.9-0.9h0m-4 2.8h0m3-2h0m-1.1 1.1h0m-4.2 2.1h0m5.7-3.9h0m-3.1 1.9h0m2.4-2.3h0m-5.3 5.3h0m4.7-4.7h0m-0.2 0.8h0m-0.1 1.7h0m1.6-2.8h0m-0.2 0.8h0m-4.1 2.4h0m1.3-1h0m1.4-0.6h0" stroke="#000" stroke-opacity="0.4" stroke-width="0.75" stroke-linecap="square" fill="none"/>
<rect x="151.5" y="289.4" width="44" height="42" fill="#fff" stroke="#777" stroke-width="0.6" />
<line x1="171.4" y1="289.4" x2="171.4" y2="331.4" stroke="#888" stroke-width="0.6" />
<line x1="151.5" y1="305.6" x2="195.5" y2="305.6" stroke="#888" stroke-width="0.6" />
<line x1="150.5" y1="330.6" x2="151.5" y2="330.6" stroke="#aaa" stroke-width="0.4" />
<text x="149.9" y="331.5" font-size="2.4" fill="#999" font-family='"Liberation Sans", sans-serif' text-anchor="end">1</text>
<line x1="150.5" y1="320.5" x2="151.5" y2="320.5" stroke="#aaa" stroke-width="0.4" />
<text x="149.9" y="321.4" font-size="2.4" fill="#999" font-family='"Liberation Sans", sans-serif' text-anchor="end">1</text>
<line x1="150.5" y1="310.4" x2="151.5" y2="310.4" stroke="#aaa" stroke-width="0.4" />
<text x="149.9" y="311.3" font-size="2.4" fill="#999" font-family='"Liberation Sans", sans-serif' text-anchor="end">1</text>
<line x1="150.5" y1="300.3" x2="151.5" y2="300.3" stroke="#aaa" stroke-width="0.4" />
<text x="149.9" y="301.2" font-size="2.4" fill="#999" font-family='"Liberation Sans", sans-serif' text-anchor="end">1</text>
<line x1="150.5" y1="290.2" x2="151.5" y2="290.2" stroke="#aaa" stroke-width="0.4" />
<text x="149.9" y="291.1" font-size="2.4" fill="#999" font-family='"Liberation Sans", sans-serif' text-anchor="end">1</text>
<line x1="152.3" y1="331.4" x2="152.3" y2="332.4" stroke="#aaa" stroke-width="0.4" />
<text x="152.3" y="334.4" font-size="2.4" fill="#999" font-family='"Liberation Sans", sans-serif' text-anchor="middle">1</text>
<line x1="162.9" y1="331.4" x2="162.9" y2="332.4" stroke="#aaa" stroke-width="0.4" />
<text x="162.9" y="334.4" font-size="2.4" fill="#999" font-family='"Liberation Sans", sans-serif' text-anchor="middle">1</text>
<line x1="173.5" y1="331.4" x2="173.5" y2="332.4" stroke="#aaa" stroke-width="0.4" />
<text x="173.5" y="334.4" font-size="2.4" fill="#999" font-family='"Liberation Sans", sans-serif' text-anchor="middle">1</text>
<line x1="184.1" y1="331.4" x2="184.1" y2="332.4" stroke="#aaa" stroke-width="0.4" />
<text x="184.1" y="334.4" font-size="2.4" fill="#999" font-family='"Liberation Sans", sans-serif' text-anchor="middle">1</text>
<line x1="194.7" y1="331.4" x2="194.7" y2="332.4" stroke="#aaa" stroke-width="0.4" />
<text x="194.7" y="334.4" font-size="2.4" fill="#999" font-family='"Liberation Sans", sans-serif' text-anchor="middle">1</text>
<text x="172.4" y="336" font-size="2.0" fill="#aaa" font-family='"Liberation Sans", sans-serif' text-anchor="middle">yo-pro</text>
<text x="161.8" y="296.7" font-size="4.8" text-anchor="middle" fill="#333" font-family='"Liberation Serif", serif'>93.3</text>
<line x1="161.8" y1="297.7" x2="161.8" y2="299.4" stroke="#111" stroke-width="0.8" />
<path d="M160.5 299.1 L163.1 299.1 L161.8 301.4 Z" fill="#111"/>
<ellipse cx="161.5" cy="322.2" rx="6" ry="3.2" fill="#000" fill-opacity="0.92" transform="rotate(-40 161.5 322.2)" filter="url(#b2)"/>
<path d="M163 323.6h0m-3.9 2.3h0m-0.9-9.3h0m4.3 7.2h0m-1.4-1.3h0m-0.5-0.2h0m-3.6 1.4h0m4.5-1h0m2.5-1.2h0m-5.3-1.8h0m1.4 8.6h0m3.4-6h0m-6.2 1.8h0m3.6-3.9h0m2.9-2.4h0m-5.6 3.5h0m6.1 2.3h0m-2.4-1.9h0m-0.6 2.9h0m2.6 0.7h0m-4-3h0m-3.1-2.1h0m5.4 1.7h0m-7.6 2.4h0m2.9 0.2h0m1.7 1.7h0m4.8-8.2h0m-4.2 2.3h0m3.9-3.4h0m-4.9 7.4h0m3.9 4.7h0m-2.4-6.7h0m-2.2 2.4h0m0.7-1.6h0m4.7-4.5h0m-1.9 1.5h0m1.6-1.8h0m-5.3 6h0m6.6-6h0m-6.1 5.9h0m1.1 0.3h0m0.1 0.1h0m5.1-3.8h0m1.6-1.9h0m2.5 0.8h0m-7.2 4.6h0m-2.9-0.5h0m1.1-2.7h0m2.3 0.2h0m6.4-2.8h0m-9 3.2h0m-0.9 0.7h0m0.4 1.8h0m-2.3 1h0m5.2-5.2h0m-4.8 4.2h0m5.7-5.5h0m0.8-3.3h0m-3.9 10h0m5.4-7h0m-9.3 7.6h0m1.7-2.6h0m1.7-1.2h0m2.1 0.4h0m-3.5-2.7h0m-0.9-1.7h0m4 3.1h0m0.6 7h0m6.8-8h0m-7.1 0.5h0m3.9 3.1h0m-4.3-1.7h0m-1.4 1.4h0m3.1-5.1h0m2.2 1.3h0m3.7-2.9h0m-4.7 0.4h0m5.1-1.1h0m-5.6 8.9h0m-3.2-5.4h0m3.9 1.9h0m-3.3-0.1h0m-1.8 7.8h0m1.7-5.3h0m-1.8-1.7h0m2.2-2.3h0m0.9-3h0m3 5.8h0m-4.5 0.9h0m2.9-4.3h0m-2.9 3.1h0m8.1-8.7h0m-8.3 8.1h0m-1.8 0.1h0m1.3 2.2h0m7.6-2.1h0m-11.2 1.7h0m3.8-3.2h0m-1.2 3.2h0m-0.2-1.6h0m2.5-1.9h0m0.1 3.2h0m2.8-2.7h0m1.1-1.1h0m-5.9 8.8h0m12.2-12.1h0m-3.4 3.6h0m-6.9 4.4h0m-2.5-1.4h0m4.8-2.1h0m-5.9 0.6h0m6.5-1.3h0m-3.3 0.1h0m-1.6 3.8h0m-1.5 5h0m5.6-5h0m0.4-5.3h0m-2.1 0.2h0m-0.8 7.9h0m-1.9-4.7h0m4.2-1.1h0m-0.3-3.6h0m-3.5 3.5h0m2.1 0.7h0m-5.1-0.1h0m2.6 5.7h0m0.1-6h0m1.6-1.5h0m5.1 1.6h0" stroke="#000" stroke-opacity="0.35" stroke-width="0.75" stroke-linecap="square" fill="none"/>
<path d="M160.2 320.5h0m-5 9.1h0m14.6-13.6h0m-8.8 10.2h0m-4-6h0m5.3 4h0m5.4-7.5h0m-11.5 3.2h0m6.6-0.2h0m6.9 2.7h0m-3-3.8h0m-8.4 3.9h0m8.4-2.5h0m-10.3 4.8h0m3.5-2h0m0.2 7.4h0m2.2-5.7h0m8.2 0.1h0" stroke="#000" stroke-opacity="0.15" stroke-width="0.75" stroke-linecap="square" fill="none"/>
<path d="M169.5 314h0m-1 0.9h0m3.8-3.7h0m-7.1 7.1h0m4-3.8h0m-0.5 3h0m-4.4-0.6h0m-0.6 3.3h0m6.4-9.2h0m-5 8.5h0m1.6-0.3h0m-3.8 0h0m2.7-0.6h0m5.3-7.1h0m0.5 1.8h0m-2.5-0.4h0m-1.5 1.8h0m3.5-4.3h0m-1.8 4.5h0m-1-1h0m-3.7 3.1h0m4.9-3.5h0m-4.8 3.1h0m4.4 1.9h0m2.2-7.7h0m-7.4 9.1h0m-0.4-0.2h0m4.1-2.9h0m2.8-4.4h0m-4.1 5h0m-1.3-2.3h0m6-0.7h0m-5 1h0m1.9 2.1h0m2.2-4.1h0m1.7 0.7h0m-7 5h0m3.2-6.6h0m0.1 3.5h0m-3.2 3.4h0m2.7 0h0m-3.3-2.2h0m0.5 0.9h0m4.3-2.8h0m-4 0.8h0" stroke="#000" stroke-opacity="0.18" stroke-width="0.75" stroke-linecap="square" fill="none"/>
<path d="M180.2 307.6h0m10.8-4.9h0m-4 0.2h0m-12 11.1h0m5.8-4.5h0m-7.7 5.6h0m1.6-2.8h0m11.8-7.4h0m-1.7 0.5h0m0.1 1.1h0m2.4-1.4h0m-14.8 8.5h0m6.3-3.4h0m2.8-1.7h0m-9.2 5.1h0m2.5 0.2h0m9.1-6.9h0m-8.6 4.4h0m-1.6 3h0m2.4-3.2h0m-2.4 3.5h0m8.6-6.6h0m1.6-0.1h0m-14.3 7.3h0m5.6-2.5h0m-2 0.7h0m12-8.4h0m-13.1 10.6h0m15.9-10.5h0m0.6-0.2h0" stroke="#000" stroke-opacity="0.25" stroke-width="0.75" stroke-linecap="square" fill="none"/>
<rect x="206" y="289.4" width="44" height="42" fill="#fff" stroke="#777" stroke-width="0.6" />
<line x1="226.6" y1="289.4" x2="226.6" y2="331.4" stroke="#888" stroke-width="0.6" />
<line x1="206" y1="305.7" x2="250" y2="305.7" stroke="#888" stroke-width="0.6" />
<line x1="205" y1="330.6" x2="206" y2="330.6" stroke="#aaa" stroke-width="0.4" />
<text x="204.4" y="331.5" font-size="2.4" fill="#999" font-family='"Liberation Sans", sans-serif' text-anchor="end">1</text>
<line x1="205" y1="320.5" x2="206" y2="320.5" stroke="#aaa" stroke-width="0.4" />
<text x="204.4" y="321.4" font-size="2.4" fill="#999" font-family='"Liberation Sans", sans-serif' text-anchor="end">1</text>
<line x1="205" y1="310.4" x2="206" y2="310.4" stroke="#aaa" stroke-width="0.4" />
<text x="204.4" y="311.3" font-size="2.4" fill="#999" font-family='"Liberation Sans", sans-serif' text-anchor="end">1</text>
<line x1="205" y1="300.3" x2="206" y2="300.3" stroke="#aaa" stroke-width="0.4" />
<text x="204.4" y="301.2" font-size="2.4" fill="#999" font-family='"Liberation Sans", sans-serif' text-anchor="end">1</text>
<line x1="205" y1="290.2" x2="206" y2="290.2" stroke="#aaa" stroke-width="0.4" />
<text x="204.4" y="291.1" font-size="2.4" fill="#999" font-family='"Liberation Sans", sans-serif' text-anchor="end">1</text>
<line x1="206.8" y1="331.4" x2="206.8" y2="332.4" stroke="#aaa" stroke-width="0.4" />
<text x="206.8" y="334.4" font-size="2.4" fill="#999" font-family='"Liberation Sans", sans-serif' text-anchor="middle">1</text>
<line x1="217.4" y1="331.4" x2="217.4" y2="332.4" stroke="#aaa" stroke-width="0.4" />
<text x="217.4" y="334.4" font-size="2.4" fill="#999" font-family='"Liberation Sans", sans-serif' text-anchor="middle">1</text>
<line x1="228" y1="331.4" x2="228" y2="332.4" stroke="#aaa" stroke-width="0.4" />
<text x="228" y="334.4" font-size="2.4" fill="#999" font-family='"Liberation Sans", sans-serif' text-anchor="middle">1</text>
<line x1="238.6" y1="331.4" x2="238.6" y2="332.4" stroke="#aaa" stroke-width="0.4" />
<text x="238.6" y="334.4" font-size="2.4" fill="#999" font-family='"Liberation Sans", sans-serif' text-anchor="middle">1</text>
<line x1="249.2" y1="331.4" x2="249.2" y2="332.4" stroke="#aaa" stroke-width="0.4" />
<text x="249.2" y="334.4" font-size="2.4" fill="#999" font-family='"Liberation Sans", sans-serif' text-anchor="middle">1</text>
<text x="227.6" y="336" font-size="2.0" fill="#aaa" font-family='"Liberation Sans", sans-serif' text-anchor="middle">yo-pro</text>
<text x="216.3" y="296.7" font-size="4.8" text-anchor="middle" fill="#333" font-family='"Liberation Serif", serif'>71.6</text>
<line x1="216.3" y1="297.7" x2="216.3" y2="299.4" stroke="#111" stroke-width="0.8" />
<path d="M215 299.1 L217.6 299.1 L216.3 301.4 Z" fill="#111"/>
<ellipse cx="215.6" cy="322" rx="5.8" ry="3.1" fill="#000" fill-opacity="0.92" transform="rotate(-42 215.6 322)" filter="url(#b2)"/>
<path d="M218.3 319.8h0m-1.2 2.8h0m-2.4 0.2h0m2.6-2.8h0m-4.1 1.6h0m4.7-3.5h0m-7.1 8.4h0m1.3-2.5h0m8.2-1.6h0m-8.1 0.3h0m6.5-3.7h0m-4.1 2.1h0m0 5h0m5.4 1.8h0m-0.4-9.8h0m-5.6 3h0m-0.5-3h0m-1 7.7h0m0.9-3.7h0m4.2-1.4h0m-6.4 4.6h0m4.9-5.6h0m2.3 2.4h0m-0.7-0.1h0m-6.3 4.1h0m6.2-4.8h0m-5.1 4.2h0m6.9-3.1h0m-12.1 4.1h0m11.6-8.7h0m0.6 2.5h0m-3 3.3h0m4.1-4h0m-7.3 2.5h0m7.9 4h0m-10.6-1.1h0m8.7 0.7h0m-6.1-5h0m5.8 0.3h0m-1.3-0.6h0m-2.5 0.6h0m2.4 1.8h0m-0.5-2.5h0m-3.7 5.5h0m6.3-6.4h0m-1.3 1.1h0m-4.6 4.1h0m1.7-0.3h0m2.5-2.3h0m-4.6-0.5h0m2.7 0.9h0m-1.1-2.2h0m2.7 5.6h0m1.1-7.4h0m3 0.4h0m-6.4 2.9h0m1.6 4.5h0m-3-2.4h0m3.5-3.7h0m2 2.5h0m0.4-4.9h0m-3.7 3.8h0m2.5 2h0m-1.9-3h0m-5.2 1.3h0m10.7-4.7h0m-6.5 7.3h0m-1-5.2h0m-0.3 3h0m-0.7 0.2h0m1.8-4.9h0m-4.2 4.8h0m9.2-5.6h0m-6.9 4.3h0m15.4-10.1h0m-12.5 10.6h0m-2.5 2.6h0m3.3-3.5h0m-2.5 4.1h0m3 1.3h0m5.7-11.2h0m-4.4 8.2h0m-0.5-0.9h0m-5.6 2.2h0m1.9-3.8h0m-0.2-2.6h0m-0.4 4.3h0m6.8-1.6h0m-3.8-0.8h0m-6.4 2h0m5.1-1.4h0m0.3 1.9h0m-3-0.9h0m0.8 0.2h0m-1 0.8h0m-0.4 3.6h0m4.3-5.9h0m-1.8 1.2h0m4.3 1.2h0m2.2-3.3h0m-5.3 0.7h0m-4.1 0.9h0m6.3-2.1h0m-4.9 9.4h0m4.3-1.9h0m-3.3-1.2h0m1.2-7.6h0m3.3 5.2h0m-0.9-3.3h0m-7.5 5.4h0m2.7-3.8h0m1.3 3h0m-2.1-1.3h0m2.6-1.3h0m-0.6-0.3h0m2.5-4.5h0m-2 6.8h0m1.8-0.7h0m3.4-5.7h0m-4.5 4.8h0m-4 2.3h0m-2.6 1.7h0m6.3-5.2h0m2.7-1.7h0m-4.3 4.8h0m2.6-0.7h0m0 1.7h0m-0.1-1.2h0" stroke="#000" stroke-opacity="0.35" stroke-width="0.75" stroke-linecap="square" fill="none"/>
<path d="M217.3 321.6h0m0.4-4.2h0m-3.6 6.7h0m2.1-2.7h0m-1-0.4h0m1.9 4.8h0m-6.2 2.4h0m-2.1-3.1h0m10.5-4.8h0m-1.7 5.2h0m-3-1.5h0m2.5-2.2h0m4.7-3.2h0m-2-1.8h0m0.5 7h0m-7.7 1h0m2.3-5.6h0m1 3.9h0m5.3 4.3h0m-11.2 0.6h0" stroke="#000" stroke-opacity="0.15" stroke-width="0.75" stroke-linecap="square" fill="none"/>
<path d="M221.8 317.2h0m-0.3 0.1h0m-3.8 2.3h0m1.3-4.1h0m7.1-3.1h0m-5.4 4.4h0m2.5 0.8h0m1.5-3.8h0m-0.5-1.8h0m-2.1 2.9h0m4.6-2.7h0m-6.9 4.6h0m4-2.7h0m-4.2 1.4h0m1.4-0.7h0m-4.9 4.8h0m8.1-6.2h0m3-0.8h0m-2.4 1.8h0m-7.7 2.9h0m5.9-1.3h0m-0.2 3.9h0m-0.3-6.5h0m0.5 4.1h0m0.9-3.5h0m-4.1 4.7h0m5.6-7.3h0m-8.6 6.5h0m4.6-2.5h0m-2.1 4.1h0m3.4-3.8h0m-3.1-1h0m-0.1 4.3h0m0.4 0.9h0m0.3 0.1h0m-0.1-4.7h0m6.9-2.7h0m-8.1 5.7h0m0 0.9h0m0.6 1.5h0m3.2-6.8h0m0.8 0h0m-1.4 3.7h0m4.1-4h0m-4.1 0.8h0" stroke="#000" stroke-opacity="0.18" stroke-width="0.75" stroke-linecap="square" fill="none"/>
<path d="M231.7 309.9h0m-5 4.2h0m16.8-10.9h0m-17.8 12.9h0m4.2-5.5h0m6.4-3.8h0m-5.3 5h0m-6.1 3.6h0m4.2-2.8h0m15.1-10.4h0m-8.3 5.2h0m4.6-2.9h0m0.4-0.2h0m0.2 1.1h0m-15.2 9.4h0m13.9-9.4h0m-2 0.4h0m-1.2 1.6h0m-1.9 1.2h0m2.4-1.2h0m3-3.7h0m4.6-2.5h0m-10.6 7.9h0m-1.7 0.7h0m0.6-0.6h0m10-6.5h0m-12.5 9.3h0m-4 2.2h0m8.5-6.2h0m7.8-4.2h0" stroke="#000" stroke-opacity="0.25" stroke-width="0.75" stroke-linecap="square" fill="none"/>
<ellipse cx="239" cy="291.9" rx="5" ry="1.4" fill="#000" fill-opacity="0.8" transform="rotate(5 239 291.9)" filter="url(#b2)"/>
<path d="M236 294h0m-1 0.3h0m3.7-2.5h0m-2.6 1.6h0m3.4-1.8h0m-3 1.8h0m-1.8 0.8h0m0.3-0.5h0m3.5-1.9h0m0.7-0.2h0m-0.5 0.8h0m-1.1 1.3h0m1.6-1.4h0m-1-0.9h0m-3.3 2.7h0m4.6-2.8h0m-0.9 0.7h0m-2.2 2.3h0m-1.3 0.6h0m-0.7 0h0m0.9-1.3h0m3.1-1.4h0m-3.9 1.5h0m3.5-1.1h0m-1.7 0.4h0m-0.4 0.2h0m0.6-0.5h0m-1.6 1.1h0m-1 1h0m1.5-1.8h0m1.6-1.2h0m1.9-1h0m-0.7 2.1h0m-0.2-0.1h0m-0.5-0.3h0m0.2-0.4h0m0.4-0.2h0m0.8-0.4h0m-1.3 0.2h0m-2.4 2.3h0" stroke="#000" stroke-opacity="0.45" stroke-width="0.75" stroke-linecap="square" fill="none"/>
<ellipse cx="245.5" cy="298.4" rx="1.5" ry="4.5" fill="#000" fill-opacity="0.55" transform="rotate(0 245.5 298.4)" filter="url(#b2)"/>
<path d="M246.6 303.3h0m-2.5-9.9h0m0.9 3.2h0m-0.7 2.9h0m2.1-0.2h0m-0.3 3.4h0m1.5 0.3h0m-1.1 0.2h0m-0.4 0.1h0m1-2.9h0m-3-5.6h0m-1.5 0.8h0m2.1 6.5h0m1.7-2.1h0m-2.3-3.2h0m0.6 1.7h0m-0.4 1.4h0m0.1-1.6h0m-0.8-1.6h0m2 6h0m-2 0.3h0m2.5-0.1h0m-3.4-10.9h0m1.6 8.3h0m-0.6-5.4h0m1 0.9h0m3 6.7h0m-2-2.2h0m-2.6-1.8h0m-0.3-6h0m3.3 8.8h0m0.8-0.6h0m-1.9 1.5h0m-1.6-3.8h0m-0.2-0.1h0m3.8 0.9h0m-0.8 2.7h0m-1.2-5.9h0m0.4-1.3h0m-0.1 9.5h0m-2.1-6.7h0m2.6 2h0m-3.8-0.9h0m4.6-1.7h0m-3.5-4.6h0m1.1 5.3h0m0.2 0.4h0m-0.2 0.6h0m0.8-3.9h0m0.2 2h0" stroke="#000" stroke-opacity="0.4" stroke-width="0.75" stroke-linecap="square" fill="none"/>
<path d="M237.2 294.4h0m-4.5 3.1h0m14.8 4.5h0m-6.3-1.7h0m-1.6-4.7h0m-1.7 2.4h0m2.3 3.9h0m-9-8.8h0m13.2 0.8h0m-1.3 15.9h0m-0.7-10.1h0m-6-0.6h0m5.2 11.5h0m-0.1-12.9h0m3.7 0.7h0m-1.6 1.1h0m-5.5 2h0m-1.8-5.8h0m0.4 3h0m-1.5 2.8h0m3.5-1.9h0m-3.4-0.3h0m5.3-2.1h0m-4.8 2.3h0m2.4-3.5h0m3.1 4.2h0m5.2-6.5h0m-15.9 5.8h0m16.1 2.7h0m-9.6-6.8h0m1.5 1h0m-5.7 2.4h0m0.6-1.7h0m-0.2 0.5h0m6.1 1h0m-1.1-4.4h0m-8.6 3.7h0m7.2 3.1h0m-6.9 1h0m6.4-8h0" stroke="#000" stroke-opacity="0.18" stroke-width="0.75" stroke-linecap="square" fill="none"/>
<rect x="41.6" y="338.6" width="44" height="42" fill="#fff" stroke="#777" stroke-width="0.6" />
<line x1="58.5" y1="338.6" x2="58.5" y2="380.6" stroke="#888" stroke-width="0.6" />
<line x1="41.6" y1="361.7" x2="85.6" y2="361.7" stroke="#888" stroke-width="0.6" />
<line x1="40.6" y1="379.8" x2="41.6" y2="379.8" stroke="#aaa" stroke-width="0.4" />
<text x="40" y="380.7" font-size="2.4" fill="#999" font-family='"Liberation Sans", sans-serif' text-anchor="end">1</text>
<line x1="40.6" y1="369.7" x2="41.6" y2="369.7" stroke="#aaa" stroke-width="0.4" />
<text x="40" y="370.6" font-size="2.4" fill="#999" font-family='"Liberation Sans", sans-serif' text-anchor="end">1</text>
<line x1="40.6" y1="359.6" x2="41.6" y2="359.6" stroke="#aaa" stroke-width="0.4" />
<text x="40" y="360.5" font-size="2.4" fill="#999" font-family='"Liberation Sans", sans-serif' text-anchor="end">1</text>
<line x1="40.6" y1="349.5" x2="41.6" y2="349.5" stroke="#aaa" stroke-width="0.4" />
<text x="40" y="350.4" font-size="2.4" fill="#999" font-family='"Liberation Sans", sans-serif' text-anchor="end">1</text>
<line x1="40.6" y1="339.4" x2="41.6" y2="339.4" stroke="#aaa" stroke-width="0.4" />
<text x="40" y="340.3" font-size="2.4" fill="#999" font-family='"Liberation Sans", sans-serif' text-anchor="end">1</text>
<line x1="42.4" y1="380.6" x2="42.4" y2="381.6" stroke="#aaa" stroke-width="0.4" />
<text x="42.4" y="383.6" font-size="2.4" fill="#999" font-family='"Liberation Sans", sans-serif' text-anchor="middle">1</text>
<line x1="53" y1="380.6" x2="53" y2="381.6" stroke="#aaa" stroke-width="0.4" />
<text x="53" y="383.6" font-size="2.4" fill="#999" font-family='"Liberation Sans", sans-serif' text-anchor="middle">1</text>
<line x1="63.6" y1="380.6" x2="63.6" y2="381.6" stroke="#aaa" stroke-width="0.4" />
<text x="63.6" y="383.6" font-size="2.4" fill="#999" font-family='"Liberation Sans", sans-serif' text-anchor="middle">1</text>
<line x1="74.2" y1="380.6" x2="74.2" y2="381.6" stroke="#aaa" stroke-width="0.4" />
<text x="74.2" y="383.6" font-size="2.4" fill="#999" font-family='"Liberation Sans", sans-serif' text-anchor="middle">1</text>
<line x1="84.8" y1="380.6" x2="84.8" y2="381.6" stroke="#aaa" stroke-width="0.4" />
<text x="84.8" y="383.6" font-size="2.4" fill="#999" font-family='"Liberation Sans", sans-serif' text-anchor="middle">1</text>
<text x="59.5" y="385.2" font-size="2.0" fill="#aaa" font-family='"Liberation Sans", sans-serif' text-anchor="middle">yo-pro</text>
<text x="49.9" y="353.5" font-size="4.8" text-anchor="middle" fill="#333" font-family='"Liberation Serif", serif'>47.8</text>
<line x1="49.9" y1="354.8" x2="49.9" y2="357.6" stroke="#111" stroke-width="0.8" />
<path d="M48.6 357.3 L51.2 357.3 L49.9 359.6 Z" fill="#111"/>
<ellipse cx="54.1" cy="373.1" rx="8.5" ry="5" fill="#000" fill-opacity="0.42" transform="rotate(-40 54.1 373.1)" filter="url(#b2)"/>
<path d="M49.6 374.3h0m10.5-8.8h0m-6.7 3.3h0m-8.7 8.1h0m-0.4 2.6h0m13.2 0.3h0m-3.1-0.9h0m5.2-6.1h0m-4.9-1.1h0m5.1 3h0m-13.6-1.9h0m0.6-1.6h0m3.9 2.9h0m-1.4 1.8h0m11.3-8h0m-1-0.4h0m-8.8 0.7h0m10.7 0.3h0m0.1-2.3h0m-19 5.4h0m12.7-5.4h0m-7 13.1h0m22.9-8.7h0m-17.7 8h0m-4.5-4.2h0m3.1-0.8h0m2.8-3.1h0m2.8-8.2h0m-5.9 3.9h0m8.2 8.5h0m4-6.5h0m-10.8 2h0m-0.9 5.2h0m-5.9-3.2h0m15.9-3.2h0m-6.9 0.7h0m1.1-1h0m-0.1 2.7h0m-3.9-0.5h0m3-3.5h0m9.6 1.5h0m-11.1 6.8h0m4.7-6.3h0m-9.9 9.7h0m2.8-5h0m13.8-10.3h0m-7.8 1.9h0m-5.6 5.3h0m6.8 4.6h0m8.9-15.2h0m-8.9 16.5h0m-3.5 0.2h0m-3.6 2.1h0m14-10.4h0m-0.3 0.1h0m-9.1 6.3h0m3.3-5.4h0m-1.3-1.6h0m1.4 9.3h0m3.6-14.4h0m1 3.8h0m-12.5-1.3h0m-0.6 8.7h0m-3.4-2.4h0m10.8 2.3h0m6.3-10.9h0m-8.4 13.5h0m-8.7 0.7h0m12-6.7h0m-2.1-3h0m0.7-6.2h0m-3.6 10.8h0m-0.2 5.1h0m10.5-4.4h0m-19 3.9h0m0.9 1.3h0m3.3-0.4h0m10.6-12.1h0m-9.1 9.3h0m0.6-1.9h0m-1.6 3.3h0m1.5 0.5h0m5.6-1.3h0m0.6-3.4h0m-6.1-0.3h0m2.6-4.3h0m5.8 9h0m-8.6 1.6h0m5.3-8h0m1.2-3.5h0m-1.2 5.1h0m-1.4-6.4h0m-0.7 12.2h0m-4.2-12.7h0m6 9.7h0m-10.3 3.8h0m0.6-1.4h0m5.3-7h0m3.2-1.2h0m-3.2 10.2h0m3.8-1.6h0m0.4-8.3h0m-2.4-6.6h0m-5.3 14.9h0m12.1-5.8h0m-6.5-3.7h0m4 11.4h0m1.9-6h0m-9.2-4.7h0m4.1 10.2h0m-3.5-13.6h0m0.9 5.8h0m4 7.6h0m-14.7-4.5h0m10.3 0.8h0m3.3-2.7h0m-7.1 4h0m18-11.1h0m-7.3 5.3h0m-8.3-3.3h0m12.3 11.7h0m-8-7.6h0m-9.5 5.5h0m14.4-10.6h0m-5.1 8.8h0m-4.9 0h0m6.8-1.2h0m-9.1-1.5h0m8.6-4.1h0m-5.2 1.3h0m14.3-6.7h0m-7.6 11.7h0m-9.7 4.2h0m-3.6-2.5h0m16.8-3.2h0m-7.7-4.9h0m1.5 7.9h0m-4.5-2.1h0m6.3 0.9h0m-10.7-3.8h0m4.1 4.1h0m2.9-0.1h0m6.3-7h0m-5.5 1.3h0m0.6 6h0m-6.2 0.7h0m9.7-3.5h0m-5.8-1.7h0m11.2-6.6h0m-9.5 8.9h0m-0.4-1.5h0m-5.9 0.8h0m15.3-6.2h0m-9.2 5.5h0m2.2 2.3h0m-4.6-14.7h0m5.6 10.7h0m-2.6 3h0m4.4-0.9h0m2.4-7.7h0m-2.9 9.7h0m-8.2 0.9h0m7.4-3.9h0m-3.6 3.2h0m12.8-14.6h0m-18.2 18.7h0m-6.2 0.7h0m14.9-10.2h0m-11.6 10.9h0m14-8.6h0m-9.5 1.8h0m8.3-4.9h0m-15.2 9.8h0m4.8-9.5h0m5.8 9.1h0m-6.7-1.9h0m0.3 3.9h0m4.9-8.3h0m3.3 3h0m-5.8 1.7h0m6.3-6.5h0m-1.9 5.4h0m4.6 2.5h0m-0.7-4.1h0m-9.3 4.1h0m5.3-2.2h0m-5.9-1h0m4.1 3.4h0m8-6.6h0m-17.1 8.8h0m11.9-7.2h0m1.3-4.6h0m-10 0.1h0m8.2 7.6h0m-2.4-5.9h0m1.2 3.6h0m-6.3 2.3h0m9.1-1.2h0m5.1-13h0m-7.3 15.8h0m-0.9 0.6h0m5.8-8.6h0m-13.4 8.5h0m6-1.5h0m4.2-6.9h0m-11.6-0.4h0m17.8 5.3h0m-9.9-4.8h0m3.4 0.7h0m-6.9-1.4h0m3.5 2h0m-7.8 2.3h0m7.6-1.8h0m0.8 2.5h0m7.9-7.8h0m-3 11.4h0m-3.3 1.8h0m-3.4-14.2h0m10.2 1.1h0m-14.4 11.4h0m8.4-4.3h0m5-14.9h0m-6.3 11.7h0m-3.9 3.8h0" stroke="#000" stroke-opacity="0.3" stroke-width="0.75" stroke-linecap="square" fill="none"/>
<path d="M60.3 367.6h0m-3.9-6.4h0m0.4 6.3h0m1.1 11.2h0m4.7-8.8h0m-6.4 2.1h0m5-0.9h0m0.5-1.3h0m-5.3 4.6h0m7.2-6h0m-5.2 2.7h0m1.6-0.9h0m-2.3-3.4h0m-1 4.9h0m-11.8-6.8h0m12.7 2.8h0m5.1 2h0m-2.1-3.8h0m-5.6-4.6h0m4.9 1.1h0m-3.8 12.1h0m-3.6-6.1h0m2-2.2h0m6-5.7h0m1.6 12.8h0m6.1 2.5h0m-1.7-11.1h0m-12.6 12.5h0m15.9-11.3h0m-5 2.2h0m-5 2.7h0m2-4h0m2.6-8h0m0.8 1.4h0m-13 12.5h0m1.3-0.8h0m13.5-1.8h0m-11.3-15.5h0m8.5 5.3h0m1.6 11.6h0m5.6-1.8h0m-14.7-5h0m1.1 6.4h0m-4.3-3.3h0m19.3-1.6h0m-10.2 4h0m-8 1.7h0m4.7 3.1h0m5.9-14.8h0m3.5-5.7h0m2.8 6h0m-15.4 0.8h0m-2.4 2.8h0m16.8 9.9h0m-11.9-9.2h0m-3.3 6.5h0m9.6 2h0m-4.5-4.7h0m-10.1 1.7h0m10.1-3.2h0m-0.4 4.3h0m6.1-14.3h0m0.5 11.7h0m-14.3-2.4h0m0.1 9.1h0m8.9-6h0m5.5-0.4h0m5.9-0.9h0m-12.9 1.2h0m-9.5-0.7h0m5.6-4h0m9.2-5.7h0m2.2-1.5h0m-5.3 15.9h0m4.3-1.5h0m-9.6 3.8h0m1.8-3.2h0m-10-0.2h0" stroke="#000" stroke-opacity="0.18" stroke-width="0.75" stroke-linecap="square" fill="none"/>
<ellipse cx="65.1" cy="346.1" rx="3.6" ry="1.2" fill="#000" fill-opacity="0.85" transform="rotate(-33 65.1 346.1)" filter="url(#b2)"/>
<path d="M64.2 347.7h0m0.7-2.3h0m3.3-2.2h0m-0.6 0.5h0m-5.2 4.7h0m0.6-0.4h0m-1.6 0.3h0m5.5-4.8h0m1.6 1.1h0m-0.2-0.5h0m-6.5 6h0m5.9-5.8h0m-5.5 3.9h0m2.8-1.8h0m1-0.9h0m-1.9 0.4h0m1.7-0.1h0m-4 1.6h0m3.3-1.8h0m2.2-0.7h0m-1.8 0.6h0m2.9-1.2h0m-0.8-0.5h0m-5.5 4.8h0m3.2-4.1h0m-1.6 3.3h0m4.1-4.8h0m0.2 1.6h0m-5.4 2.3h0m4.7-1.8h0" stroke="#000" stroke-opacity="0.45" stroke-width="0.75" stroke-linecap="square" fill="none"/>
<path d="M70.7 349.7h0m-1.1 9.3h0m3.3 2h0m-1.6 3.1h0m-1.4-10.9h0m3.1 7.6h0m-4.3-7.8h0m4.5 11.9h0m-0.7-10h0m-2.9-3.6h0m2.5 9.9h0m-1.5-7.3h0m3.4 7.4h0m-3.7-9.7h0m0.2 6.7h0m5.9 8.5h0m-3.6-7.2h0m-2.4-4.1h0m0.4 0.3h0m1.3 3.2h0m-0.1-0.9h0m-1.9 1.2h0m-1.5-8.6h0m7.7 17.4h0m-6.2-12.7h0" stroke="#000" stroke-opacity="0.2" stroke-width="0.75" stroke-linecap="square" fill="none"/>
<rect x="94.5" y="338.6" width="44" height="42" fill="#fff" stroke="#777" stroke-width="0.6" />
<line x1="111.8" y1="338.6" x2="111.8" y2="380.6" stroke="#888" stroke-width="0.6" />
<line x1="94.5" y1="361.7" x2="138.5" y2="361.7" stroke="#888" stroke-width="0.6" />
<line x1="93.5" y1="379.8" x2="94.5" y2="379.8" stroke="#aaa" stroke-width="0.4" />
<text x="92.9" y="380.7" font-size="2.4" fill="#999" font-family='"Liberation Sans", sans-serif' text-anchor="end">1</text>
<line x1="93.5" y1="369.7" x2="94.5" y2="369.7" stroke="#aaa" stroke-width="0.4" />
<text x="92.9" y="370.6" font-size="2.4" fill="#999" font-family='"Liberation Sans", sans-serif' text-anchor="end">1</text>
<line x1="93.5" y1="359.6" x2="94.5" y2="359.6" stroke="#aaa" stroke-width="0.4" />
<text x="92.9" y="360.5" font-size="2.4" fill="#999" font-family='"Liberation Sans", sans-serif' text-anchor="end">1</text>
<line x1="93.5" y1="349.5" x2="94.5" y2="349.5" stroke="#aaa" stroke-width="0.4" />
<text x="92.9" y="350.4" font-size="2.4" fill="#999" font-family='"Liberation Sans", sans-serif' text-anchor="end">1</text>
<line x1="93.5" y1="339.4" x2="94.5" y2="339.4" stroke="#aaa" stroke-width="0.4" />
<text x="92.9" y="340.3" font-size="2.4" fill="#999" font-family='"Liberation Sans", sans-serif' text-anchor="end">1</text>
<line x1="95.3" y1="380.6" x2="95.3" y2="381.6" stroke="#aaa" stroke-width="0.4" />
<text x="95.3" y="383.6" font-size="2.4" fill="#999" font-family='"Liberation Sans", sans-serif' text-anchor="middle">1</text>
<line x1="105.9" y1="380.6" x2="105.9" y2="381.6" stroke="#aaa" stroke-width="0.4" />
<text x="105.9" y="383.6" font-size="2.4" fill="#999" font-family='"Liberation Sans", sans-serif' text-anchor="middle">1</text>
<line x1="116.5" y1="380.6" x2="116.5" y2="381.6" stroke="#aaa" stroke-width="0.4" />
<text x="116.5" y="383.6" font-size="2.4" fill="#999" font-family='"Liberation Sans", sans-serif' text-anchor="middle">1</text>
<line x1="127.1" y1="380.6" x2="127.1" y2="381.6" stroke="#aaa" stroke-width="0.4" />
<text x="127.1" y="383.6" font-size="2.4" fill="#999" font-family='"Liberation Sans", sans-serif' text-anchor="middle">1</text>
<line x1="137.7" y1="380.6" x2="137.7" y2="381.6" stroke="#aaa" stroke-width="0.4" />
<text x="137.7" y="383.6" font-size="2.4" fill="#999" font-family='"Liberation Sans", sans-serif' text-anchor="middle">1</text>
<text x="112.8" y="385.2" font-size="2.0" fill="#aaa" font-family='"Liberation Sans", sans-serif' text-anchor="middle">yo-pro</text>
<text x="102.8" y="353.5" font-size="4.8" text-anchor="middle" fill="#333" font-family='"Liberation Serif", serif'>70.8</text>
<line x1="102.8" y1="354.8" x2="102.8" y2="357.6" stroke="#111" stroke-width="0.8" />
<path d="M101.5 357.3 L104.1 357.3 L102.8 359.6 Z" fill="#111"/>
<ellipse cx="107" cy="374.1" rx="8.5" ry="5" fill="#000" fill-opacity="0.45" transform="rotate(-40 107 374.1)" filter="url(#b2)"/>
<path d="M105.1 374.1h0m-4.3-0.9h0m9.3 6.3h0m-4.2-6.6h0m9.4-11.8h0m-9.6 1.9h0m1.2 13.5h0m-1.9-3.3h0m-2.5-5.6h0m7.3-0.2h0m-3.9 0.4h0m-1-2.6h0m6.4 8.1h0m-10 2.8h0m6.2-2.4h0m-2.5 4.2h0m6.5-7.1h0m-10.2 7.1h0m3.7-5h0m17.3-7h0m-18.7 2.9h0m-0.4 6.2h0m10.7-1.8h0m-12-0.6h0m3.1 3.1h0m6.1-6.5h0m1.1-1.3h0m-7.7 8.4h0m6.6-0.7h0m-1.4-3.8h0m3.7-9.7h0m-5.5 7h0m6.7 0.4h0m0.3-3.7h0m-2.1-0.4h0m-0.1 10.3h0m-5.5-4.3h0m-8.1 2.8h0m7.3-2.8h0m-2.1 3.6h0m-0.8 4.4h0m2.4 0.1h0m-1.5-3.6h0m0.5-0.5h0m1.4-2.2h0m0.7 0.9h0m-3.1-10.7h0m0.3 6.7h0m9.6 0.7h0m-9.8 6.2h0m-1.3 2h0m12.9-6.4h0m-10.5 4.1h0m-2.3 0h0m-1.2-0.2h0m0.6-5.9h0m10.9-1.6h0m-7.8 1.4h0m-1.7-4.6h0m11-2.3h0m-1.5 7.8h0m-7.5-3.8h0m-0.5 2.2h0m-3.3 4.6h0m13.4-6.6h0m-4.8-1.1h0m0.5 1h0m-1.9 8h0m-5.3 3.2h0m9.4-6.8h0m3.2-8.6h0m-11.8 14.7h0m-2.5 0.2h0m0.3-3.5h0m-5.6 1.2h0m11.9 0.6h0m-9.9 1.4h0m13.6-15.4h0m-6.4 5.2h0m7.8 4.4h0m3.4-1.1h0m-11.8-3.5h0m9 2.2h0m2.9-3.4h0m-11.5 4.9h0m0.5 1.6h0m14.9-0.6h0m-7.8 4.4h0m1.9-13.4h0m-13.1 16.5h0m3.4-2.7h0m0.3-8.8h0m-0.8 1h0m5 6.5h0m7.7-4.7h0m-16.3 7.6h0m11.5-10.4h0m-6.5 9.4h0m2.3-1h0m-7.8 2h0m5.4-1.3h0m9.1-0.4h0m-2.6-4.8h0m-4.8-0.6h0m-4.9 0.3h0m13.5 7.4h0m-7.9-9.7h0m6.7 2.7h0m8.3-6.3h0m-16.6 12.2h0m8.2-8.9h0m-11.3 6.1h0m-1.9-3.7h0m5.7-9.7h0m2.1 5.2h0m-0.8 8.2h0m7.7-4.8h0m1.4-14.3h0m-9.3 19.9h0m1.7-3.9h0m-3-3.5h0m-1.5 8.7h0m-1.5-4.9h0m4-0.3h0m3.3-4.9h0m-12.4 12.1h0m11.3-14.6h0m-2.9 5.9h0m0.1 6.1h0m-5.4 0.5h0m7.1-8h0m-5.2 10.4h0m3.7-11.7h0m9.8-8.3h0m-5.8 16.9h0m-3.1-7.4h0m0.2-0.7h0m-1.7 0h0m9.7-7.2h0m-10.2 13.2h0m-7.8 1h0m14.2 2h0m-9.7-1.6h0m7.5-7.2h0m6 3.4h0m-17.7-3.2h0m10.6 4.7h0m-6 3.1h0m2.4-7.4h0m0.2 6.6h0m2.4 1.4h0m-0.2-1.2h0m6-4.3h0m-8.7 1.8h0m1.3-8.8h0m0.9 9.8h0m12.7-7.5h0m-4.6 0.8h0m-18.9 9.6h0m15-5.7h0m-11.4 7.2h0m-0.3-3.7h0m10.3-5.8h0m-3 2.9h0m-0.9-1.2h0m1.4 7h0m0.7-8h0m9-6h0m-8.6 12.2h0m8.8-13.6h0m-13.3 4.9h0m-6.3 1.8h0m8 1.1h0m4.1 5.4h0m1-7.5h0m-4.8 0.8h0m-8.6 0.5h0m16.4-3.3h0m-11.7 8.4h0m5-5.3h0m11.5 1.4h0m-19.7 7.6h0m18.1-2.4h0m-20.7-4.8h0m7 4.2h0m11.4-8.4h0m-11.9 0.8h0m-1.7 7.8h0m-4.9 1.9h0m12.7-0.3h0m7.3-8.8h0m-13.2 9.1h0m-4.4-7.6h0m8 3.7h0m11.5-5.1h0m-22.2 7.9h0m16.6-8h0m9.7-5h0m-6.8 1.4h0m-20.7 12.7h0m29.3-7.3h0m-20.9 9.5h0m5.6-8.4h0m0.2-2h0m-6.6 1.2h0m-5.3 0.5h0m13.5 3.9h0m-14.7 3.1h0m8.6-3.9h0m4.5 2.1h0m0-11h0m-0.3 13.2h0m-12.2-7.9h0m8.1 6h0m0.8-6h0m3.3-7h0m0 2.2h0m-3.9 7.7h0m2.2 2h0m7.5-6.4h0m-0.4 0.2h0m-4.2 4h0m-5.7-13.8h0m-6.5 15.3h0m13.9-0.6h0m-4.3-3.1h0m-3 6.8h0m4-3.1h0m-5.2-3.9h0m8.3-2.3h0m-9.3 3.1h0m3.4 0.3h0m5.1-2.7h0m-7.2 1.5h0m10.8-3.3h0m3 3.7h0m-9.7 2.9h0m-10.1 4.9h0m-0.7-4.5h0m24-9.5h0" stroke="#000" stroke-opacity="0.3" stroke-width="0.75" stroke-linecap="square" fill="none"/>
<path d="M112.7 361h0m6.3 5h0m5 8.6h0m-7-0.6h0m4.8-0.3h0m-0.5-4.8h0m-9.7-3h0m7.7 7.4h0m3.2-0.6h0m-8.6-7h0m6.5 0.9h0m4.9-5.2h0m-5.2 0.9h0m-13.3 12.5h0m6.4 2.1h0m-10.6-5.6h0m12.8 1.1h0m-2.1-1h0m2.3 4.5h0m-0.1-14h0m7.9-0.7h0m1.5-1.6h0m-10.2 13.5h0m-8-7.1h0m-3 3.1h0m21.1-8h0m-9.1 4.2h0m-1.1-0.1h0m0.9-6.5h0m-1.1 8.4h0m6.2 5.1h0m-2.6 0.8h0m6.2-15.1h0m-6.3 12.3h0m-6.2-6.5h0m16.9-5h0m-11.9 11.6h0m1.3-11.8h0m4.7 9.3h0m4.7-16.6h0m-7.7 7.2h0m-1.5 5.5h0m-12.4 0.6h0m7.9-2.2h0m1-2.2h0m6.8-3.1h0m-6.1 8.8h0m-1.1 10.4h0m4.6-10.2h0m-0.6-12.4h0m-10 21.7h0m13.9-6.9h0m-4.6-3.7h0m-13.5 3.6h0m5.9 7h0m1.8-7.4h0m2.6 5.8h0m4.7-6.1h0m-4.9-7.2h0m-1 12.1h0m-3.3 0.5h0m-7.3-2.8h0m11 4.6h0m0.2-16h0m-3.7 9h0m5.6-0.3h0m7-5.5h0m-4.4 5.9h0m-7.4-9.9h0m12.3 9.6h0m-7.4-6.6h0m5.7-3.1h0m-4.8 12.3h0m-0.6-5h0m2.3-10.4h0m-7.2 24.9h0m8.6-7h0m3.2-3.9h0m-2.3 1h0" stroke="#000" stroke-opacity="0.18" stroke-width="0.75" stroke-linecap="square" fill="none"/>
<ellipse cx="120" cy="349.1" rx="3.8" ry="1.1" fill="#000" fill-opacity="0.8" transform="rotate(-35 120 349.1)" filter="url(#b2)"/>
<path d="M116.4 352.3h0m2.3-1.2h0m1.1-2h0m-1.9 1.1h0m0 1.2h0m-0.2-0.3h0m1.8-1.7h0m2.7-1.6h0m-2.2 2.6h0m-2.6 0.2h0m2.8-1.1h0m4.4-4.2h0m-8.1 6.6h0m-1 0.5h0m3.7-3.5h0m2.8-1.5h0m-5.9 4.3h0m7.1-5.1h0m-0.7 1.3h0m-0.9 0h0m-4.3 2.6h0m2.4-1.1h0m3.9-2.7h0m-1.4 1.6h0m-3.7 1.5h0m-0.4-0.1h0m5-2.3h0m-7.4 4.9h0m5.1-4h0m2.4-1.1h0" stroke="#000" stroke-opacity="0.45" stroke-width="0.75" stroke-linecap="square" fill="none"/>
<path d="M123.3 353.8h0m0.1-6.1h0m-2.2 0.3h0m4.7 18.2h0m0.3-3.2h0m-4.4-10.4h0m2.2 9.6h0m-1.3-0.4h0m2.3-3.7h0m0 3.4h0m-0.5-3.8h0m1.4-1.4h0m-5.2-3.9h0m1.2-6.1h0m2.6 7.4h0m-1.3 1h0m-0.3-3.2h0m0.4 10h0m-1-2.5h0m0.9 6.9h0m3.1 0.6h0m-3.6-20.5h0m-1.6 6.3h0m4.4 7.5h0m-4.5-6.3h0m0.1-3.8h0m3.1 8.2h0m-1.9-8h0m2.9 17.2h0m-2.5-17.6h0" stroke="#000" stroke-opacity="0.2" stroke-width="0.75" stroke-linecap="square" fill="none"/>
<rect x="151.5" y="338.6" width="44" height="42" fill="#fff" stroke="#777" stroke-width="0.6" />
<line x1="171.4" y1="338.6" x2="171.4" y2="380.6" stroke="#888" stroke-width="0.6" />
<line x1="151.5" y1="354.8" x2="195.5" y2="354.8" stroke="#888" stroke-width="0.6" />
<line x1="150.5" y1="379.8" x2="151.5" y2="379.8" stroke="#aaa" stroke-width="0.4" />
<text x="149.9" y="380.7" font-size="2.4" fill="#999" font-family='"Liberation Sans", sans-serif' text-anchor="end">1</text>
<line x1="150.5" y1="369.7" x2="151.5" y2="369.7" stroke="#aaa" stroke-width="0.4" />
<text x="149.9" y="370.6" font-size="2.4" fill="#999" font-family='"Liberation Sans", sans-serif' text-anchor="end">1</text>
<line x1="150.5" y1="359.6" x2="151.5" y2="359.6" stroke="#aaa" stroke-width="0.4" />
<text x="149.9" y="360.5" font-size="2.4" fill="#999" font-family='"Liberation Sans", sans-serif' text-anchor="end">1</text>
<line x1="150.5" y1="349.5" x2="151.5" y2="349.5" stroke="#aaa" stroke-width="0.4" />
<text x="149.9" y="350.4" font-size="2.4" fill="#999" font-family='"Liberation Sans", sans-serif' text-anchor="end">1</text>
<line x1="150.5" y1="339.4" x2="151.5" y2="339.4" stroke="#aaa" stroke-width="0.4" />
<text x="149.9" y="340.3" font-size="2.4" fill="#999" font-family='"Liberation Sans", sans-serif' text-anchor="end">1</text>
<line x1="152.3" y1="380.6" x2="152.3" y2="381.6" stroke="#aaa" stroke-width="0.4" />
<text x="152.3" y="383.6" font-size="2.4" fill="#999" font-family='"Liberation Sans", sans-serif' text-anchor="middle">1</text>
<line x1="162.9" y1="380.6" x2="162.9" y2="381.6" stroke="#aaa" stroke-width="0.4" />
<text x="162.9" y="383.6" font-size="2.4" fill="#999" font-family='"Liberation Sans", sans-serif' text-anchor="middle">1</text>
<line x1="173.5" y1="380.6" x2="173.5" y2="381.6" stroke="#aaa" stroke-width="0.4" />
<text x="173.5" y="383.6" font-size="2.4" fill="#999" font-family='"Liberation Sans", sans-serif' text-anchor="middle">1</text>
<line x1="184.1" y1="380.6" x2="184.1" y2="381.6" stroke="#aaa" stroke-width="0.4" />
<text x="184.1" y="383.6" font-size="2.4" fill="#999" font-family='"Liberation Sans", sans-serif' text-anchor="middle">1</text>
<line x1="194.7" y1="380.6" x2="194.7" y2="381.6" stroke="#aaa" stroke-width="0.4" />
<text x="194.7" y="383.6" font-size="2.4" fill="#999" font-family='"Liberation Sans", sans-serif' text-anchor="middle">1</text>
<text x="172.4" y="385.2" font-size="2.0" fill="#aaa" font-family='"Liberation Sans", sans-serif' text-anchor="middle">yo-pro</text>
<text x="161.8" y="345.9" font-size="4.8" text-anchor="middle" fill="#333" font-family='"Liberation Serif", serif'>95.7</text>
<line x1="161.8" y1="346.9" x2="161.8" y2="348.6" stroke="#111" stroke-width="0.8" />
<path d="M160.5 348.3 L163.1 348.3 L161.8 350.6 Z" fill="#111"/>
<ellipse cx="161.5" cy="371.4" rx="6" ry="3.2" fill="#000" fill-opacity="0.92" transform="rotate(-40 161.5 371.4)" filter="url(#b2)"/>
<path d="M162.7 367.8h0m-4.1 3.9h0m1.3 0.7h0m2.7-4.2h0m-2.4 4.5h0m-0.8 0.3h0m3.2-2.7h0m-1.4 2.3h0m3-0.1h0m2.1-3.4h0m-10.5 4.1h0m5.1 2.3h0m0.1 0.2h0m2.3-6h0m-6.5 0.8h0m5.2 1.4h0m-4.3 2.4h0m-1.8-1.5h0m5.1 3.7h0m-1.1-5.9h0m3.6 2.4h0m-0.4-7.7h0m-5.6 8.8h0m-1 1.7h0m10.1-8h0m-9.2 6.7h0m4.4-4.5h0m-8.1 7.4h0m10-3.7h0m-0.6 1.4h0m-3.3-3.5h0m4.6-0.5h0m-7.2 5.7h0m7.3-9.2h0m0.7 2.4h0m-2.7 0.2h0m-2.8 3.6h0m-0.3-2.3h0m4.3-1.4h0m-5.6 3.7h0m3.7-4.4h0m-7.1 2.2h0m10.6-2.8h0m-1.6 3.6h0m0 2.2h0m1.6 2.1h0m-1.9-4.5h0m-3.5-0.6h0m4.1 0.1h0m-7.8-0.6h0m2.5 1.3h0m2.3 0.5h0m4.2-3.8h0m2.1-4.8h0m-7.6 6.5h0m1 2.7h0m-3.1 3.1h0m7.9-7.8h0m-1.1 4.2h0m-4-5.6h0m-0.1 10.2h0m3.9-8.2h0m1.9 1.8h0m-8.5 3.9h0m5.5-4.5h0m-3.7-1.7h0m4.2-0.8h0m-5.6 4.5h0m4.5-3.8h0m-6.3 7.3h0m4.1-1.5h0m9.7-5.9h0m-12 5.6h0m6.4-2.7h0m-3.3 1.7h0m-0.4 0.9h0m-0.4-2.7h0m7-5.2h0m-2.3 2.4h0m-4 2.3h0m4.3-7.7h0m-0.8 6.7h0m-0.8-0.9h0m-5.3-0.5h0m6.6-0.1h0m-3.9 8.1h0m5.5-7.3h0m-0.7-1h0m-10.8 9.5h0m11.9-11.4h0m-7.8 4.2h0m-1.2 2.1h0m-0.9-5.7h0m2.8 4.4h0m-2.6 2.3h0m5.6-5h0m-3.8 7.5h0m-1.5-3.7h0m1.5-0.4h0m6-2h0m-8.9 4.9h0m3.9-0.8h0m7-9.2h0m-1.3 8.4h0m-4.4-1.1h0m-0.5-3.9h0m2.9-0.3h0m1 1.3h0m-5 1.4h0m-0.4 0.6h0m1.7 0h0m-1.1-0.7h0m-2.1 8.8h0m4.9-8.5h0m3.7-4.8h0m-9.1 7.2h0m0.4 2.2h0m3.7-5.6h0m-0.9 4.9h0m2.3-3.5h0m-10.2 0.6h0m8.7-2.9h0m-0.9 10.7h0m1-12h0m1.8 2.9h0m-3.2-1h0m-0.3 1.6h0m-1.4-0.6h0m4.8 0.2h0" stroke="#000" stroke-opacity="0.35" stroke-width="0.75" stroke-linecap="square" fill="none"/>
<path d="M163.8 374.1h0m0.1-1.8h0m-5.5 1.1h0m7.9-5.9h0m-8 10.1h0m1.6-5h0m0.3 0.6h0m10.4-5.2h0m-4-7.4h0m-8.9 7.5h0m-1.1 7.3h0m5.8 3.9h0m-8.3 0.7h0m6.8-5.4h0m-6.2-3.1h0m4.1 2.4h0m9.2-4.6h0m2 1.8h0m-13.8 6.6h0" stroke="#000" stroke-opacity="0.15" stroke-width="0.75" stroke-linecap="square" fill="none"/>
<path d="M166.5 366.2h0m6.9-3.7h0m-5.9 3.3h0m-0.3-3h0m-2.8 5.1h0m-0.6 1.1h0m1.1-1.3h0m1.2-2h0m3.5-4.9h0m2.4 1.2h0m-2.9 1.2h0m-3.6 2.6h0m0.3 0.7h0m5-3.6h0m-0.1-0.8h0m-5.7 5.1h0m-1.7 2.8h0m0.3-2.6h0m7.1-3h0m3.4-0.9h0m-4.3 0.5h0m-6.1 5h0m2.6-2.3h0m-2.1 1.9h0m1.1-2.1h0m-0.6 0.9h0m3 0.3h0m-2-3h0m6.5-3.4h0m-4.7 2.7h0m2.6-1.5h0m-2.9 3.4h0m-1.4 1.7h0m1.6-2.2h0m0.1 0.3h0m1-2.7h0m2.9-1.1h0m-7.6 5.6h0m5.1-4.8h0m-4.3 3.6h0m-3.5 1.6h0m5.3-3.4h0m-2.2 5h0m1.4 0.2h0m1.2-5.1h0" stroke="#000" stroke-opacity="0.18" stroke-width="0.75" stroke-linecap="square" fill="none"/>
<path d="M190.2 351.6h0m-15.9 10.7h0m3.8-4.2h0m10.3-7h0m-3.9 4.6h0m-8.6 5.9h0m8.6-7.1h0m-3.2 1.6h0m-2.4 3.1h0m4.3-2.1h0m-2.1-0.1h0m9.4-6.8h0m-9.2 7.9h0m-4.6 2.2h0m-5.7 4h0m4.1-2.7h0m2.4-1h0m6.9-5.5h0m-11.1 7.6h0m0-1h0m15.4-9.1h0m-4.6 1.8h0m-0.2 1.1h0m-4.7 3.5h0m-5.9 3.8h0m14.8-10.1h0m-3.5 3h0m-5.6 2.8h0m0.8-0.4h0m6.2-4.9h0" stroke="#000" stroke-opacity="0.25" stroke-width="0.75" stroke-linecap="square" fill="none"/>
<rect x="206" y="338.6" width="44" height="42" fill="#fff" stroke="#777" stroke-width="0.6" />
<line x1="226.6" y1="338.6" x2="226.6" y2="380.6" stroke="#888" stroke-width="0.6" />
<line x1="206" y1="354.9" x2="250" y2="354.9" stroke="#888" stroke-width="0.6" />
<line x1="205" y1="379.8" x2="206" y2="379.8" stroke="#aaa" stroke-width="0.4" />
<text x="204.4" y="380.7" font-size="2.4" fill="#999" font-family='"Liberation Sans", sans-serif' text-anchor="end">1</text>
<line x1="205" y1="369.7" x2="206" y2="369.7" stroke="#aaa" stroke-width="0.4" />
<text x="204.4" y="370.6" font-size="2.4" fill="#999" font-family='"Liberation Sans", sans-serif' text-anchor="end">1</text>
<line x1="205" y1="359.6" x2="206" y2="359.6" stroke="#aaa" stroke-width="0.4" />
<text x="204.4" y="360.5" font-size="2.4" fill="#999" font-family='"Liberation Sans", sans-serif' text-anchor="end">1</text>
<line x1="205" y1="349.5" x2="206" y2="349.5" stroke="#aaa" stroke-width="0.4" />
<text x="204.4" y="350.4" font-size="2.4" fill="#999" font-family='"Liberation Sans", sans-serif' text-anchor="end">1</text>
<line x1="205" y1="339.4" x2="206" y2="339.4" stroke="#aaa" stroke-width="0.4" />
<text x="204.4" y="340.3" font-size="2.4" fill="#999" font-family='"Liberation Sans", sans-serif' text-anchor="end">1</text>
<line x1="206.8" y1="380.6" x2="206.8" y2="381.6" stroke="#aaa" stroke-width="0.4" />
<text x="206.8" y="383.6" font-size="2.4" fill="#999" font-family='"Liberation Sans", sans-serif' text-anchor="middle">1</text>
<line x1="217.4" y1="380.6" x2="217.4" y2="381.6" stroke="#aaa" stroke-width="0.4" />
<text x="217.4" y="383.6" font-size="2.4" fill="#999" font-family='"Liberation Sans", sans-serif' text-anchor="middle">1</text>
<line x1="228" y1="380.6" x2="228" y2="381.6" stroke="#aaa" stroke-width="0.4" />
<text x="228" y="383.6" font-size="2.4" fill="#999" font-family='"Liberation Sans", sans-serif' text-anchor="middle">1</text>
<line x1="238.6" y1="380.6" x2="238.6" y2="381.6" stroke="#aaa" stroke-width="0.4" />
<text x="238.6" y="383.6" font-size="2.4" fill="#999" font-family='"Liberation Sans", sans-serif' text-anchor="middle">1</text>
<line x1="249.2" y1="380.6" x2="249.2" y2="381.6" stroke="#aaa" stroke-width="0.4" />
<text x="249.2" y="383.6" font-size="2.4" fill="#999" font-family='"Liberation Sans", sans-serif' text-anchor="middle">1</text>
<text x="227.6" y="385.2" font-size="2.0" fill="#aaa" font-family='"Liberation Sans", sans-serif' text-anchor="middle">yo-pro</text>
<text x="216.3" y="345.9" font-size="4.8" text-anchor="middle" fill="#333" font-family='"Liberation Serif", serif'>90.7</text>
<line x1="216.3" y1="346.9" x2="216.3" y2="348.6" stroke="#111" stroke-width="0.8" />
<path d="M215 348.3 L217.6 348.3 L216.3 350.6 Z" fill="#111"/>
<ellipse cx="215.6" cy="371.2" rx="5.8" ry="3.1" fill="#000" fill-opacity="0.92" transform="rotate(-42 215.6 371.2)" filter="url(#b2)"/>
<path d="M213.7 370.9h0m3.7-3.9h0m-2.1 5.6h0m0.9-1.2h0m-0.2 1h0m0.6-1.9h0m1.2-0.1h0m0.6-0.3h0m-0.9 0.5h0m-5 2h0m1.3-1.7h0m-0.5 0.5h0m0.8 2.1h0m13-7h0m-11.4 4.8h0m-1.2 0.2h0m3.4-1.1h0m-0.1 1.6h0m-2.4 1.5h0m-0.7-4.3h0m3.2-2.8h0m-1 1.6h0m-1.6 6.8h0m1.5-4.7h0m-5.9 0.4h0m3 1.7h0m4.3-3.3h0m-0.5-1.2h0m1.8 2.5h0m-3.4 3h0m2.3-8.6h0m-7.5 8.9h0m1.7-2.4h0m1.5-2.5h0m6.6-2.2h0m-4.8 4h0m-1.8 2.5h0m1.6-0.8h0m0.9-4.2h0m-7 6.8h0m3.8-7.4h0m3.7 2.9h0m-5 4.8h0m6.1-6.4h0m-0.4 2.3h0m2.9-0.8h0m-7.5 2.7h0m1.1-3.3h0m2.2 2h0m-2.7-4.2h0m-3.6 1.5h0m5.7 2.1h0m3.3-0.3h0m-6.4 2.9h0m4.4-1.5h0m1.5-4.1h0m-6.1 8.3h0m-0.2-7.4h0m2.5 0.6h0m2.5 3.6h0m-3.1-2.9h0m2.1-0.5h0m0.9 2.9h0m-0.3-1.1h0m-1.4 0.1h0m-4 1.1h0m8.8-2h0m-6.9 4.5h0m3.5-7.5h0m1.5 2.7h0m3.1 0.6h0m-5.4 0.8h0m-2.7 2.2h0m1.9-3.1h0m1.9 1.4h0m2.1-2.2h0m-0.7-5.7h0m-3.6 7.1h0m-1.2 0.1h0m-2.7 2.7h0m7.3-6.9h0m-2.3 4.6h0m-1.9-2.3h0m1.6 4.7h0m-3.9-3.4h0m9.3-4.4h0m-11.3 4.7h0m1.7-0.2h0m4.9 2h0m0.8-4.4h0m-0.5 0.2h0m-7.5 10h0m2.6-7.1h0m6.6-3h0m0.9 1.7h0m-1.8-1.4h0m2.4-4.7h0m1 7.4h0m-6.8-1.1h0m5.4 0.1h0m-3.3-2h0m-2.3-0.3h0m6.3 1.8h0m-4.4 2.4h0m-1-0.6h0m0.9-1.6h0m7.7-7.3h0m-6.2 4h0m-1 3.3h0m-1.9 4.2h0m5.3-3.4h0m-4.3-2.8h0m3 1.1h0m-0.9-6.9h0m-2.2 9.1h0m1.6-5.1h0m2.3 2.1h0m-11.2 6.3h0m5.8-1h0m0.4-1.8h0m-0.1 1.7h0m6.3-2.1h0m-10.1 2h0m2.9-1.8h0m2.9 0.5h0m-3.2-0.8h0m8.3-1.6h0m2.6-0.5h0m-8.4 5.6h0" stroke="#000" stroke-opacity="0.35" stroke-width="0.75" stroke-linecap="square" fill="none"/>
<path d="M218.2 368.5h0m-1.6-1.1h0m-5.6 6.8h0m-1.8 1h0m4.6-6.8h0m-5.3 0.3h0m2.7 6.1h0m2.4-1.1h0m-1.4-1.7h0m4.6 2.2h0m-6.6-3.4h0m5.6-1.7h0m1.1 3.8h0m2.9-1.8h0m-7.7-5.5h0m8.8 7.7h0m-1.4-0.9h0m-0.7-1.6h0m-4.2-5.5h0" stroke="#000" stroke-opacity="0.15" stroke-width="0.75" stroke-linecap="square" fill="none"/>
<path d="M222.4 364.7h0m-2.3 1.2h0m0.8-0.1h0m-0.8 2.5h0m-0.4-2.6h0m5.4-3.4h0m-1 0.6h0m1.2-0.1h0m0 1.4h0m-2.5 1.9h0m-4.7-0.7h0m2-0.2h0m3.6-1h0m2 0.5h0m-8.4 4.1h0m5.1-3.2h0m1.2-3.8h0m-2.3 5.1h0m-0.7-0.8h0m-0.2 0.7h0m0.9-3.9h0m-2.6 5.5h0m4.2-5.1h0m-4 2.7h0m10.1-5.1h0m-1.4-0.7h0m-8.4 5.7h0m2.3 3.3h0m-0.9-1.5h0m-0.1-0.8h0m1.3-1.8h0m2.2-0.7h0m-6.6 3.6h0m3.8-2.6h0m5-3.8h0m-5.9 5.1h0m1.3-3.7h0m-3.8 5.4h0m8.5-7h0m-3.8 4.4h0m-2.4-0.9h0m6.1-1.3h0m0.2-1.2h0m-7.1 1.9h0m5.8 2.1h0" stroke="#000" stroke-opacity="0.18" stroke-width="0.75" stroke-linecap="square" fill="none"/>
<path d="M229 361.7h0m-2.2 0.8h0m16.3-9.6h0m-16.8 10.7h0m1-0.9h0m13.8-8.8h0m-10.9 6.4h0m10-5.2h0m-2.2 1.9h0m4.4-4h0m-9.8 6.9h0m1.7-1.2h0m-7.4 5.2h0m7.1-4.8h0m2.7-2.9h0m2.6-1.6h0m3.5-2.2h0m-6.8 5.4h0m7-5.1h0m-18.6 12h0m17.7-12.3h0m4.4-0.6h0m-16.9 8.9h0m0.7 2.7h0m11.9-10.3h0m-3.4 2.6h0m3-1.6h0m-9 6.9h0m9.1-6.7h0m-13.5 7.8h0" stroke="#000" stroke-opacity="0.25" stroke-width="0.75" stroke-linecap="square" fill="none"/>
<ellipse cx="243" cy="341.1" rx="2.5" ry="1.2" fill="#000" fill-opacity="0.3" transform="rotate(-40 243 341.1)" filter="url(#b2)"/>
<path d="M244.6 339.7h0m-2.4 1.1h0m1.2-0.3h0m-6.2 2.4h0m0.5 0.8h0m-1.1 2.7h0m2.7-3.2h0m0.2 0h0m-1.8 0.4h0m1.9-0.8h0m1.1-1.6h0m2.8-0.4h0m-2.6 1.5h0m-0.4-0.9h0m-0.6 2.2h0m0.9-3.1h0m-2.6 1.8h0m4.1-1.8h0m-3.4 1.7h0m-0.9 0.4h0m7.1-1.4h0m-2.1-0.3h0m-6.6 2.5h0m3 1h0m-2.7-0.2h0m2.8-1.3h0m-2.8 1.5h0m0.9 0h0m4.1-4h0" stroke="#000" stroke-opacity="0.25" stroke-width="0.75" stroke-linecap="square" fill="none"/>
<path d="M232.5 351.7h0m6.8-0.2h0m0.3 0h0m-12.1-3.3h0m11.6-4.7h0m-1.5 10.4h0m-5.6-14.3h0m8.4 7.3h0m0-0.4h0m-2.8 4.2h0m1.8 0.8h0m0.7 0.5h0m-1.8 0.4h0m2-5h0m0.6 1.6h0m0.5 8.6h0m-0.6-14.2h0m-0.6 4.2h0m1.2 0.6h0m0-7.6h0m-7 14.2h0m0.3-4h0m5.5-9.8h0m-4.5 5.2h0m5.4 5h0m2.5-8.1h0m0 5h0m0.2-1h0m-8.1-3.8h0" stroke="#000" stroke-opacity="0.15" stroke-width="0.75" stroke-linecap="square" fill="none"/>
<text x="255.8" y="171.6" font-size="10.5" text-anchor="start" font-weight="bold" fill="#000" stroke="#000" stroke-width="0.1" font-family='"Liberation Sans", sans-serif' >D</text>
<line x1="277" y1="184.7" x2="277" y2="254.4" stroke="#c4c4c4" stroke-width="1.3" />
<line x1="277" y1="254.4" x2="387" y2="254.4" stroke="#c4c4c4" stroke-width="1.1" />
<line x1="275.5" y1="254.4" x2="277" y2="254.4" stroke="#c4c4c4" stroke-width="0.7" />
<text x="271.8" y="256.5" font-size="5.9" text-anchor="end" font-weight="normal" fill="#222" stroke="#222" stroke-width="0.15" font-family='"Liberation Sans", sans-serif' >0.0</text>
<line x1="275.5" y1="244.5" x2="277" y2="244.5" stroke="#c4c4c4" stroke-width="0.7" />
<text x="271.8" y="246.6" font-size="5.9" text-anchor="end" font-weight="normal" fill="#222" stroke="#222" stroke-width="0.15" font-family='"Liberation Sans", sans-serif' >0.2</text>
<line x1="275.5" y1="234.6" x2="277" y2="234.6" stroke="#c4c4c4" stroke-width="0.7" />
<text x="271.8" y="236.7" font-size="5.9" text-anchor="end" font-weight="normal" fill="#222" stroke="#222" stroke-width="0.15" font-family='"Liberation Sans", sans-serif' >0.4</text>
<line x1="275.5" y1="224.8" x2="277" y2="224.8" stroke="#c4c4c4" stroke-width="0.7" />
<text x="271.8" y="226.9" font-size="5.9" text-anchor="end" font-weight="normal" fill="#222" stroke="#222" stroke-width="0.15" font-family='"Liberation Sans", sans-serif' >0.6</text>
<line x1="275.5" y1="214.9" x2="277" y2="214.9" stroke="#c4c4c4" stroke-width="0.7" />
<text x="271.8" y="217" font-size="5.9" text-anchor="end" font-weight="normal" fill="#222" stroke="#222" stroke-width="0.15" font-family='"Liberation Sans", sans-serif' >0.8</text>
<line x1="275.5" y1="205" x2="277" y2="205" stroke="#c4c4c4" stroke-width="0.7" />
<text x="271.8" y="207.1" font-size="5.9" text-anchor="end" font-weight="normal" fill="#222" stroke="#222" stroke-width="0.15" font-family='"Liberation Sans", sans-serif' >1.0</text>
<line x1="275.5" y1="195.1" x2="277" y2="195.1" stroke="#c4c4c4" stroke-width="0.7" />
<text x="271.8" y="197.2" font-size="5.9" text-anchor="end" font-weight="normal" fill="#222" stroke="#222" stroke-width="0.15" font-family='"Liberation Sans", sans-serif' >1.2</text>
<line x1="275.5" y1="185.2" x2="277" y2="185.2" stroke="#c4c4c4" stroke-width="0.7" />
<text x="271.8" y="187.3" font-size="5.9" text-anchor="end" font-weight="normal" fill="#222" stroke="#222" stroke-width="0.15" font-family='"Liberation Sans", sans-serif' >1.4</text>
<line x1="277" y1="254.4" x2="277" y2="256" stroke="#c4c4c4" stroke-width="0.7" />
<line x1="304.5" y1="254.4" x2="304.5" y2="256" stroke="#c4c4c4" stroke-width="0.7" />
<line x1="332" y1="254.4" x2="332" y2="256" stroke="#c4c4c4" stroke-width="0.7" />
<line x1="359.5" y1="254.4" x2="359.5" y2="256" stroke="#c4c4c4" stroke-width="0.7" />
<line x1="387" y1="254.4" x2="387" y2="256" stroke="#c4c4c4" stroke-width="0.7" />
<text x="0" y="0" font-size="5.6" text-anchor="middle" font-weight="bold" fill="#222" stroke="#222" stroke-width="0.1" font-family='"Liberation Sans", sans-serif' transform="translate(262.7 217.6) rotate(-90)">Normalized Densitometry</text>
<text x="325" y="169" font-size="7" text-anchor="middle" font-weight="bold" fill="#111" stroke="#111" stroke-width="0.1" font-family='"Liberation Sans", sans-serif' >Bcl-2</text>
<rect x="296.3" y="175.5" width="56" height="8.6" fill="#fff" stroke="#aaa" stroke-width="0.7" />
<rect x="298.2" y="178.3" width="3" height="3" fill="#ffffff" stroke="#333" stroke-width="0.6" />
<text x="302.7" y="182.1" font-size="5.9" text-anchor="start" font-weight="normal" fill="#222" stroke="#222" stroke-width="0.15" font-family='"Liberation Sans", sans-serif' >0'</text>
<rect x="309.7" y="178.3" width="3" height="3" fill="#b8b8b8" stroke="#333" stroke-width="0.6" />
<text x="314.2" y="182.1" font-size="5.9" text-anchor="start" font-weight="normal" fill="#222" stroke="#222" stroke-width="0.15" font-family='"Liberation Sans", sans-serif' >15'</text>
<rect x="323.9" y="178.3" width="3" height="3" fill="#979797" stroke="#333" stroke-width="0.6" />
<text x="328.4" y="182.1" font-size="5.9" text-anchor="start" font-weight="normal" fill="#222" stroke="#222" stroke-width="0.15" font-family='"Liberation Sans", sans-serif' >30'</text>
<rect x="338.4" y="178.3" width="3" height="3" fill="#7a7a7a" stroke="#333" stroke-width="0.6" />
<text x="342.9" y="182.1" font-size="5.9" text-anchor="start" font-weight="normal" fill="#222" stroke="#222" stroke-width="0.15" font-family='"Liberation Sans", sans-serif' >60'</text>
<rect x="280.1" y="205" width="5.2" height="49.4" fill="#ffffff" stroke="#4a4a4a" stroke-width="0.6" />
<line x1="282.7" y1="205" x2="282.7" y2="198.1" stroke="#555" stroke-width="0.6" />
<line x1="281.7" y1="198.1" x2="283.7" y2="198.1" stroke="#555" stroke-width="0.6" />
<rect x="285.3" y="221.3" width="5.2" height="33.1" fill="#b8b8b8" stroke="#4a4a4a" stroke-width="0.6" />
<line x1="287.9" y1="221.3" x2="287.9" y2="218.3" stroke="#555" stroke-width="0.6" />
<line x1="286.9" y1="218.3" x2="288.9" y2="218.3" stroke="#555" stroke-width="0.6" />
<rect x="290.5" y="232.7" width="5.2" height="21.7" fill="#979797" stroke="#4a4a4a" stroke-width="0.6" />
<line x1="293.1" y1="232.7" x2="293.1" y2="229.7" stroke="#555" stroke-width="0.6" />
<line x1="292.1" y1="229.7" x2="294.1" y2="229.7" stroke="#555" stroke-width="0.6" />
<rect x="295.7" y="241.1" width="5.2" height="13.3" fill="#7a7a7a" stroke="#4a4a4a" stroke-width="0.6" />
<line x1="298.3" y1="241.1" x2="298.3" y2="238.6" stroke="#555" stroke-width="0.6" />
<line x1="297.3" y1="238.6" x2="299.3" y2="238.6" stroke="#555" stroke-width="0.6" />
<text x="291" y="263.3" font-size="5.0" text-anchor="middle" font-weight="normal" fill="#222" stroke="#222" stroke-width="0.15" font-family='"Liberation Sans", sans-serif' >RC-K8</text>
<rect x="307.5" y="205" width="5.2" height="49.4" fill="#ffffff" stroke="#4a4a4a" stroke-width="0.6" />
<line x1="310.1" y1="205" x2="310.1" y2="197.1" stroke="#555" stroke-width="0.6" />
<line x1="309.1" y1="197.1" x2="311.1" y2="197.1" stroke="#555" stroke-width="0.6" />
<rect x="312.7" y="219.3" width="5.2" height="35.1" fill="#b8b8b8" stroke="#4a4a4a" stroke-width="0.6" />
<line x1="315.3" y1="219.3" x2="315.3" y2="218.8" stroke="#555" stroke-width="0.6" />
<line x1="314.3" y1="218.8" x2="316.3" y2="218.8" stroke="#555" stroke-width="0.6" />
<rect x="317.9" y="227.2" width="5.2" height="27.2" fill="#979797" stroke="#4a4a4a" stroke-width="0.6" />
<line x1="320.5" y1="227.2" x2="320.5" y2="221.3" stroke="#555" stroke-width="0.6" />
<line x1="319.5" y1="221.3" x2="321.5" y2="221.3" stroke="#555" stroke-width="0.6" />
<rect x="323.1" y="238.1" width="5.2" height="16.3" fill="#7a7a7a" stroke="#4a4a4a" stroke-width="0.6" />
<line x1="325.7" y1="238.1" x2="325.7" y2="235.6" stroke="#555" stroke-width="0.6" />
<line x1="324.7" y1="235.6" x2="326.7" y2="235.6" stroke="#555" stroke-width="0.6" />
<text x="318.5" y="263.3" font-size="5.0" text-anchor="middle" font-weight="normal" fill="#222" stroke="#222" stroke-width="0.15" font-family='"Liberation Sans", sans-serif' >OCI-LY-10</text>
<rect x="334.9" y="205" width="5.2" height="49.4" fill="#ffffff" stroke="#4a4a4a" stroke-width="0.6" />
<line x1="337.5" y1="205" x2="337.5" y2="193.6" stroke="#555" stroke-width="0.6" />
<line x1="336.5" y1="193.6" x2="338.5" y2="193.6" stroke="#555" stroke-width="0.6" />
<rect x="340.1" y="221.8" width="5.2" height="32.6" fill="#b8b8b8" stroke="#4a4a4a" stroke-width="0.6" />
<line x1="342.7" y1="221.8" x2="342.7" y2="218.3" stroke="#555" stroke-width="0.6" />
<line x1="341.7" y1="218.3" x2="343.7" y2="218.3" stroke="#555" stroke-width="0.6" />
<rect x="345.3" y="235.1" width="5.2" height="19.3" fill="#979797" stroke="#4a4a4a" stroke-width="0.6" />
<line x1="347.9" y1="235.1" x2="347.9" y2="234.6" stroke="#555" stroke-width="0.6" />
<line x1="346.9" y1="234.6" x2="348.9" y2="234.6" stroke="#555" stroke-width="0.6" />
<rect x="350.5" y="239.1" width="5.2" height="15.3" fill="#7a7a7a" stroke="#4a4a4a" stroke-width="0.6" />
<line x1="353.1" y1="239.1" x2="353.1" y2="232.2" stroke="#555" stroke-width="0.6" />
<line x1="352.1" y1="232.2" x2="354.1" y2="232.2" stroke="#555" stroke-width="0.6" />
<text x="346" y="263.3" font-size="5.0" text-anchor="middle" font-weight="normal" fill="#222" stroke="#222" stroke-width="0.15" font-family='"Liberation Sans", sans-serif' >MC116</text>
<rect x="362.3" y="205" width="5.2" height="49.4" fill="#ffffff" stroke="#4a4a4a" stroke-width="0.6" />
<line x1="364.9" y1="205" x2="364.9" y2="203" stroke="#555" stroke-width="0.6" />
<line x1="363.9" y1="203" x2="365.9" y2="203" stroke="#555" stroke-width="0.6" />
<rect x="367.5" y="203.5" width="5.2" height="50.9" fill="#b8b8b8" stroke="#4a4a4a" stroke-width="0.6" />
<line x1="370.1" y1="203.5" x2="370.1" y2="201.5" stroke="#555" stroke-width="0.6" />
<line x1="369.1" y1="201.5" x2="371.1" y2="201.5" stroke="#555" stroke-width="0.6" />
<rect x="372.7" y="207" width="5.2" height="47.4" fill="#979797" stroke="#4a4a4a" stroke-width="0.6" />
<line x1="375.3" y1="207" x2="375.3" y2="205" stroke="#555" stroke-width="0.6" />
<line x1="374.3" y1="205" x2="376.3" y2="205" stroke="#555" stroke-width="0.6" />
<rect x="377.9" y="205.5" width="5.2" height="48.9" fill="#7a7a7a" stroke="#4a4a4a" stroke-width="0.6" />
<line x1="380.5" y1="205.5" x2="380.5" y2="203.5" stroke="#555" stroke-width="0.6" />
<line x1="379.5" y1="203.5" x2="381.5" y2="203.5" stroke="#555" stroke-width="0.6" />
<text x="373.5" y="263.3" font-size="5.0" text-anchor="middle" font-weight="normal" fill="#222" stroke="#222" stroke-width="0.15" font-family='"Liberation Sans", sans-serif' >OCI-LY-3</text>
<path d="M282.9 193.9 V190.9 H288.9 M292.1 190.9 H298.2 V193.9" fill="none" stroke="#222" stroke-width="0.9"/>
<circle cx="290.3" cy="190.9" r="0.55" fill="#222"/>
<path d="M281.7 193.1 L284.1 193.1 L282.9 194.9 Z" fill="#111"/>
<path d="M297 193.1 L299.4 193.1 L298.2 194.9 Z" fill="#111"/>
<path d="M309.9 193.9 V190.9 H316 M319.2 190.9 H325.4 V193.9" fill="none" stroke="#222" stroke-width="0.9"/>
<circle cx="317.4" cy="190.9" r="0.55" fill="#222"/>
<path d="M308.7 193.1 L311.1 193.1 L309.9 194.9 Z" fill="#111"/>
<path d="M324.2 193.1 L326.6 193.1 L325.4 194.9 Z" fill="#111"/>
<path d="M337.4 191 V188 H343.4 M346.6 188 H352.7 V191" fill="none" stroke="#222" stroke-width="0.9"/>
<circle cx="344.8" cy="188" r="0.55" fill="#222"/>
<path d="M336.2 190.2 L338.6 190.2 L337.4 192 Z" fill="#111"/>
<path d="M351.5 190.2 L353.9 190.2 L352.7 192 Z" fill="#111"/>
<line x1="412.6" y1="184.7" x2="412.6" y2="254.4" stroke="#c4c4c4" stroke-width="1.3" />
<line x1="412.6" y1="254.4" x2="522.6" y2="254.4" stroke="#c4c4c4" stroke-width="1.1" />
<line x1="411.1" y1="254.4" x2="412.6" y2="254.4" stroke="#c4c4c4" stroke-width="0.7" />
<text x="407.4" y="256.5" font-size="5.9" text-anchor="end" font-weight="normal" fill="#222" stroke="#222" stroke-width="0.15" font-family='"Liberation Sans", sans-serif' >0.0</text>
<line x1="411.1" y1="244.5" x2="412.6" y2="244.5" stroke="#c4c4c4" stroke-width="0.7" />
<text x="407.4" y="246.6" font-size="5.9" text-anchor="end" font-weight="normal" fill="#222" stroke="#222" stroke-width="0.15" font-family='"Liberation Sans", sans-serif' >0.2</text>
<line x1="411.1" y1="234.6" x2="412.6" y2="234.6" stroke="#c4c4c4" stroke-width="0.7" />
<text x="407.4" y="236.7" font-size="5.9" text-anchor="end" font-weight="normal" fill="#222" stroke="#222" stroke-width="0.15" font-family='"Liberation Sans", sans-serif' >0.4</text>
<line x1="411.1" y1="224.8" x2="412.6" y2="224.8" stroke="#c4c4c4" stroke-width="0.7" />
<text x="407.4" y="226.9" font-size="5.9" text-anchor="end" font-weight="normal" fill="#222" stroke="#222" stroke-width="0.15" font-family='"Liberation Sans", sans-serif' >0.6</text>
<line x1="411.1" y1="214.9" x2="412.6" y2="214.9" stroke="#c4c4c4" stroke-width="0.7" />
<text x="407.4" y="217" font-size="5.9" text-anchor="end" font-weight="normal" fill="#222" stroke="#222" stroke-width="0.15" font-family='"Liberation Sans", sans-serif' >0.8</text>
<line x1="411.1" y1="205" x2="412.6" y2="205" stroke="#c4c4c4" stroke-width="0.7" />
<text x="407.4" y="207.1" font-size="5.9" text-anchor="end" font-weight="normal" fill="#222" stroke="#222" stroke-width="0.15" font-family='"Liberation Sans", sans-serif' >1.0</text>
<line x1="411.1" y1="195.1" x2="412.6" y2="195.1" stroke="#c4c4c4" stroke-width="0.7" />
<text x="407.4" y="197.2" font-size="5.9" text-anchor="end" font-weight="normal" fill="#222" stroke="#222" stroke-width="0.15" font-family='"Liberation Sans", sans-serif' >1.2</text>
<line x1="411.1" y1="185.2" x2="412.6" y2="185.2" stroke="#c4c4c4" stroke-width="0.7" />
<text x="407.4" y="187.3" font-size="5.9" text-anchor="end" font-weight="normal" fill="#222" stroke="#222" stroke-width="0.15" font-family='"Liberation Sans", sans-serif' >1.4</text>
<line x1="412.6" y1="254.4" x2="412.6" y2="256" stroke="#c4c4c4" stroke-width="0.7" />
<line x1="440.1" y1="254.4" x2="440.1" y2="256" stroke="#c4c4c4" stroke-width="0.7" />
<line x1="467.6" y1="254.4" x2="467.6" y2="256" stroke="#c4c4c4" stroke-width="0.7" />
<line x1="495.1" y1="254.4" x2="495.1" y2="256" stroke="#c4c4c4" stroke-width="0.7" />
<line x1="522.6" y1="254.4" x2="522.6" y2="256" stroke="#c4c4c4" stroke-width="0.7" />
<text x="0" y="0" font-size="5.6" text-anchor="middle" font-weight="bold" fill="#222" stroke="#222" stroke-width="0.1" font-family='"Liberation Sans", sans-serif' transform="translate(398.3 217.6) rotate(-90)">Normalized Densitometry</text>
<text x="460" y="168.8" font-size="7" font-weight="bold" fill="#111" font-family='"Liberation Sans", sans-serif' text-anchor="middle">Bcl-X<tspan font-size="4.5" dy="1.8">L</tspan></text>
<rect x="432.6" y="175.3" width="56" height="8.6" fill="#fff" stroke="#aaa" stroke-width="0.7" />
<rect x="434.5" y="178.1" width="3" height="3" fill="#ffffff" stroke="#333" stroke-width="0.6" />
<text x="439" y="181.9" font-size="5.9" text-anchor="start" font-weight="normal" fill="#222" stroke="#222" stroke-width="0.15" font-family='"Liberation Sans", sans-serif' >0'</text>
<rect x="446" y="178.1" width="3" height="3" fill="#b8b8b8" stroke="#333" stroke-width="0.6" />
<text x="450.5" y="181.9" font-size="5.9" text-anchor="start" font-weight="normal" fill="#222" stroke="#222" stroke-width="0.15" font-family='"Liberation Sans", sans-serif' >15'</text>
<rect x="460.2" y="178.1" width="3" height="3" fill="#979797" stroke="#333" stroke-width="0.6" />
<text x="464.7" y="181.9" font-size="5.9" text-anchor="start" font-weight="normal" fill="#222" stroke="#222" stroke-width="0.15" font-family='"Liberation Sans", sans-serif' >30'</text>
<rect x="474.7" y="178.1" width="3" height="3" fill="#7a7a7a" stroke="#333" stroke-width="0.6" />
<text x="479.2" y="181.9" font-size="5.9" text-anchor="start" font-weight="normal" fill="#222" stroke="#222" stroke-width="0.15" font-family='"Liberation Sans", sans-serif' >60'</text>
<rect x="415.6" y="205" width="5.2" height="49.4" fill="#ffffff" stroke="#4a4a4a" stroke-width="0.6" />
<line x1="418.2" y1="205" x2="418.2" y2="198.1" stroke="#555" stroke-width="0.6" />
<line x1="417.2" y1="198.1" x2="419.2" y2="198.1" stroke="#555" stroke-width="0.6" />
<rect x="420.8" y="235.1" width="5.2" height="19.3" fill="#b8b8b8" stroke="#4a4a4a" stroke-width="0.6" />
<line x1="423.4" y1="235.1" x2="423.4" y2="232.2" stroke="#555" stroke-width="0.6" />
<line x1="422.4" y1="232.2" x2="424.4" y2="232.2" stroke="#555" stroke-width="0.6" />
<rect x="426" y="248.5" width="5.2" height="5.9" fill="#979797" stroke="#4a4a4a" stroke-width="0.6" />
<line x1="428.6" y1="248.5" x2="428.6" y2="246.5" stroke="#555" stroke-width="0.6" />
<line x1="427.6" y1="246.5" x2="429.6" y2="246.5" stroke="#555" stroke-width="0.6" />
<rect x="431.2" y="251.4" width="5.2" height="3" fill="#7a7a7a" stroke="#4a4a4a" stroke-width="0.6" />
<line x1="433.8" y1="251.4" x2="433.8" y2="250.4" stroke="#555" stroke-width="0.6" />
<line x1="432.8" y1="250.4" x2="434.8" y2="250.4" stroke="#555" stroke-width="0.6" />
<text x="426.6" y="263.3" font-size="5.0" text-anchor="middle" font-weight="normal" fill="#222" stroke="#222" stroke-width="0.15" font-family='"Liberation Sans", sans-serif' >RC-K8</text>
<rect x="443" y="205" width="5.2" height="49.4" fill="#ffffff" stroke="#4a4a4a" stroke-width="0.6" />
<line x1="445.6" y1="205" x2="445.6" y2="198.1" stroke="#555" stroke-width="0.6" />
<line x1="444.6" y1="198.1" x2="446.6" y2="198.1" stroke="#555" stroke-width="0.6" />
<rect x="448.2" y="228.2" width="5.2" height="26.2" fill="#b8b8b8" stroke="#4a4a4a" stroke-width="0.6" />
<line x1="450.8" y1="228.2" x2="450.8" y2="224.8" stroke="#555" stroke-width="0.6" />
<line x1="449.8" y1="224.8" x2="451.8" y2="224.8" stroke="#555" stroke-width="0.6" />
<rect x="453.4" y="238.6" width="5.2" height="15.8" fill="#979797" stroke="#4a4a4a" stroke-width="0.6" />
<line x1="456" y1="238.6" x2="456" y2="238.1" stroke="#555" stroke-width="0.6" />
<line x1="455" y1="238.1" x2="457" y2="238.1" stroke="#555" stroke-width="0.6" />
<rect x="458.6" y="243.5" width="5.2" height="10.9" fill="#7a7a7a" stroke="#4a4a4a" stroke-width="0.6" />
<line x1="461.2" y1="243.5" x2="461.2" y2="241.6" stroke="#555" stroke-width="0.6" />
<line x1="460.2" y1="241.6" x2="462.2" y2="241.6" stroke="#555" stroke-width="0.6" />
<text x="454.1" y="263.3" font-size="5.0" text-anchor="middle" font-weight="normal" fill="#222" stroke="#222" stroke-width="0.15" font-family='"Liberation Sans", sans-serif' >OCI-LY-10</text>
<rect x="470.4" y="205" width="5.2" height="49.4" fill="#ffffff" stroke="#4a4a4a" stroke-width="0.6" />
<line x1="473" y1="205" x2="473" y2="194.1" stroke="#555" stroke-width="0.6" />
<line x1="472" y1="194.1" x2="474" y2="194.1" stroke="#555" stroke-width="0.6" />
<rect x="475.6" y="224.3" width="5.2" height="30.1" fill="#b8b8b8" stroke="#4a4a4a" stroke-width="0.6" />
<line x1="478.2" y1="224.3" x2="478.2" y2="215.4" stroke="#555" stroke-width="0.6" />
<line x1="477.2" y1="215.4" x2="479.2" y2="215.4" stroke="#555" stroke-width="0.6" />
<rect x="480.8" y="246.5" width="5.2" height="7.9" fill="#979797" stroke="#4a4a4a" stroke-width="0.6" />
<line x1="483.4" y1="246.5" x2="483.4" y2="245" stroke="#555" stroke-width="0.6" />
<line x1="482.4" y1="245" x2="484.4" y2="245" stroke="#555" stroke-width="0.6" />
<rect x="486" y="249.5" width="5.2" height="4.9" fill="#7a7a7a" stroke="#4a4a4a" stroke-width="0.6" />
<line x1="488.6" y1="249.5" x2="488.6" y2="248.5" stroke="#555" stroke-width="0.6" />
<line x1="487.6" y1="248.5" x2="489.6" y2="248.5" stroke="#555" stroke-width="0.6" />
<text x="481.6" y="263.3" font-size="5.0" text-anchor="middle" font-weight="normal" fill="#222" stroke="#222" stroke-width="0.15" font-family='"Liberation Sans", sans-serif' >MC116</text>
<rect x="497.8" y="205" width="5.2" height="49.4" fill="#ffffff" stroke="#4a4a4a" stroke-width="0.6" />
<line x1="500.4" y1="205" x2="500.4" y2="202" stroke="#555" stroke-width="0.6" />
<line x1="499.4" y1="202" x2="501.4" y2="202" stroke="#555" stroke-width="0.6" />
<rect x="503" y="214.9" width="5.2" height="39.5" fill="#b8b8b8" stroke="#4a4a4a" stroke-width="0.6" />
<line x1="505.6" y1="214.9" x2="505.6" y2="209.9" stroke="#555" stroke-width="0.6" />
<line x1="504.6" y1="209.9" x2="506.6" y2="209.9" stroke="#555" stroke-width="0.6" />
<rect x="508.2" y="223.8" width="5.2" height="30.6" fill="#979797" stroke="#4a4a4a" stroke-width="0.6" />
<line x1="510.8" y1="223.8" x2="510.8" y2="215.9" stroke="#555" stroke-width="0.6" />
<line x1="509.8" y1="215.9" x2="511.8" y2="215.9" stroke="#555" stroke-width="0.6" />
<rect x="513.4" y="217.8" width="5.2" height="36.6" fill="#7a7a7a" stroke="#4a4a4a" stroke-width="0.6" />
<text x="509.1" y="263.3" font-size="5.0" text-anchor="middle" font-weight="normal" fill="#222" stroke="#222" stroke-width="0.15" font-family='"Liberation Sans", sans-serif' >OCI-LY-3</text>
<path d="M418.1 194.3 V191.3 H424.3 M427.5 191.3 H433.7 V194.3" fill="none" stroke="#222" stroke-width="0.9"/>
<circle cx="425.7" cy="191.3" r="0.55" fill="#222"/>
<path d="M416.9 193.5 L419.3 193.5 L418.1 195.3 Z" fill="#111"/>
<path d="M432.5 193.5 L434.9 193.5 L433.7 195.3 Z" fill="#111"/>
<path d="M445.3 194.3 V191.3 H451.5 M454.8 191.3 H461 V194.3" fill="none" stroke="#222" stroke-width="0.9"/>
<circle cx="452.9" cy="191.3" r="0.55" fill="#222"/>
<path d="M444.1 193.5 L446.5 193.5 L445.3 195.3 Z" fill="#111"/>
<path d="M459.8 193.5 L462.2 193.5 L461 195.3 Z" fill="#111"/>
<path d="M472.2 191 V188 H478.7 M481.9 188 H488.4 V191" fill="none" stroke="#222" stroke-width="0.9"/>
<circle cx="480.1" cy="188" r="0.55" fill="#222"/>
<path d="M471 190.2 L473.4 190.2 L472.2 192 Z" fill="#111"/>
<path d="M487.2 190.2 L489.6 190.2 L488.4 192 Z" fill="#111"/>
<line x1="276.5" y1="286.2" x2="276.5" y2="360.5" stroke="#c4c4c4" stroke-width="1.3" />
<line x1="276.5" y1="360.5" x2="386.5" y2="360.5" stroke="#c4c4c4" stroke-width="1.1" />
<line x1="275" y1="360.5" x2="276.5" y2="360.5" stroke="#c4c4c4" stroke-width="0.7" />
<text x="271.3" y="362.6" font-size="5.9" text-anchor="end" font-weight="normal" fill="#222" stroke="#222" stroke-width="0.15" font-family='"Liberation Sans", sans-serif' >0.0</text>
<line x1="275" y1="352.3" x2="276.5" y2="352.3" stroke="#c4c4c4" stroke-width="0.7" />
<text x="271.3" y="354.4" font-size="5.9" text-anchor="end" font-weight="normal" fill="#222" stroke="#222" stroke-width="0.15" font-family='"Liberation Sans", sans-serif' >0.5</text>
<line x1="275" y1="344.1" x2="276.5" y2="344.1" stroke="#c4c4c4" stroke-width="0.7" />
<text x="271.3" y="346.2" font-size="5.9" text-anchor="end" font-weight="normal" fill="#222" stroke="#222" stroke-width="0.15" font-family='"Liberation Sans", sans-serif' >1.0</text>
<line x1="275" y1="335.9" x2="276.5" y2="335.9" stroke="#c4c4c4" stroke-width="0.7" />
<text x="271.3" y="338" font-size="5.9" text-anchor="end" font-weight="normal" fill="#222" stroke="#222" stroke-width="0.15" font-family='"Liberation Sans", sans-serif' >1.5</text>
<line x1="275" y1="327.7" x2="276.5" y2="327.7" stroke="#c4c4c4" stroke-width="0.7" />
<text x="271.3" y="329.8" font-size="5.9" text-anchor="end" font-weight="normal" fill="#222" stroke="#222" stroke-width="0.15" font-family='"Liberation Sans", sans-serif' >2.0</text>
<line x1="275" y1="319.5" x2="276.5" y2="319.5" stroke="#c4c4c4" stroke-width="0.7" />
<text x="271.3" y="321.6" font-size="5.9" text-anchor="end" font-weight="normal" fill="#222" stroke="#222" stroke-width="0.15" font-family='"Liberation Sans", sans-serif' >2.5</text>
<line x1="275" y1="311.3" x2="276.5" y2="311.3" stroke="#c4c4c4" stroke-width="0.7" />
<text x="271.3" y="313.4" font-size="5.9" text-anchor="end" font-weight="normal" fill="#222" stroke="#222" stroke-width="0.15" font-family='"Liberation Sans", sans-serif' >3.0</text>
<line x1="275" y1="303.1" x2="276.5" y2="303.1" stroke="#c4c4c4" stroke-width="0.7" />
<text x="271.3" y="305.2" font-size="5.9" text-anchor="end" font-weight="normal" fill="#222" stroke="#222" stroke-width="0.15" font-family='"Liberation Sans", sans-serif' >3.5</text>
<line x1="275" y1="294.9" x2="276.5" y2="294.9" stroke="#c4c4c4" stroke-width="0.7" />
<text x="271.3" y="297" font-size="5.9" text-anchor="end" font-weight="normal" fill="#222" stroke="#222" stroke-width="0.15" font-family='"Liberation Sans", sans-serif' >4.0</text>
<line x1="275" y1="286.7" x2="276.5" y2="286.7" stroke="#c4c4c4" stroke-width="0.7" />
<text x="271.3" y="288.8" font-size="5.9" text-anchor="end" font-weight="normal" fill="#222" stroke="#222" stroke-width="0.15" font-family='"Liberation Sans", sans-serif' >4.5</text>
<line x1="276.5" y1="360.5" x2="276.5" y2="362.1" stroke="#c4c4c4" stroke-width="0.7" />
<line x1="304" y1="360.5" x2="304" y2="362.1" stroke="#c4c4c4" stroke-width="0.7" />
<line x1="331.5" y1="360.5" x2="331.5" y2="362.1" stroke="#c4c4c4" stroke-width="0.7" />
<line x1="359" y1="360.5" x2="359" y2="362.1" stroke="#c4c4c4" stroke-width="0.7" />
<line x1="386.5" y1="360.5" x2="386.5" y2="362.1" stroke="#c4c4c4" stroke-width="0.7" />
<text x="0" y="0" font-size="5.6" text-anchor="middle" font-weight="bold" fill="#222" stroke="#222" stroke-width="0.1" font-family='"Liberation Sans", sans-serif' transform="translate(260.4 323.4) rotate(-90)">Normalized Densitometry</text>
<text x="323.6" y="277.5" font-size="7" text-anchor="middle" font-weight="bold" fill="#111" stroke="#111" stroke-width="0.1" font-family='"Liberation Sans", sans-serif' >Bax</text>
<rect x="297.6" y="282.1" width="56" height="8.6" fill="#fff" stroke="#aaa" stroke-width="0.7" />
<rect x="299.5" y="284.9" width="3" height="3" fill="#ffffff" stroke="#333" stroke-width="0.6" />
<text x="304" y="288.7" font-size="5.9" text-anchor="start" font-weight="normal" fill="#222" stroke="#222" stroke-width="0.15" font-family='"Liberation Sans", sans-serif' >0'</text>
<rect x="311" y="284.9" width="3" height="3" fill="#b8b8b8" stroke="#333" stroke-width="0.6" />
<text x="315.5" y="288.7" font-size="5.9" text-anchor="start" font-weight="normal" fill="#222" stroke="#222" stroke-width="0.15" font-family='"Liberation Sans", sans-serif' >15'</text>
<rect x="325.2" y="284.9" width="3" height="3" fill="#979797" stroke="#333" stroke-width="0.6" />
<text x="329.7" y="288.7" font-size="5.9" text-anchor="start" font-weight="normal" fill="#222" stroke="#222" stroke-width="0.15" font-family='"Liberation Sans", sans-serif' >30'</text>
<rect x="339.7" y="284.9" width="3" height="3" fill="#7a7a7a" stroke="#333" stroke-width="0.6" />
<text x="344.2" y="288.7" font-size="5.9" text-anchor="start" font-weight="normal" fill="#222" stroke="#222" stroke-width="0.15" font-family='"Liberation Sans", sans-serif' >60'</text>
<rect x="280.1" y="344.1" width="5.2" height="16.4" fill="#ffffff" stroke="#4a4a4a" stroke-width="0.6" />
<line x1="282.7" y1="344.1" x2="282.7" y2="338.4" stroke="#555" stroke-width="0.6" />
<line x1="281.7" y1="338.4" x2="283.7" y2="338.4" stroke="#555" stroke-width="0.6" />
<rect x="285.3" y="333.4" width="5.2" height="27.1" fill="#b8b8b8" stroke="#4a4a4a" stroke-width="0.6" />
<line x1="287.9" y1="333.4" x2="287.9" y2="323.6" stroke="#555" stroke-width="0.6" />
<line x1="286.9" y1="323.6" x2="288.9" y2="323.6" stroke="#555" stroke-width="0.6" />
<rect x="290.5" y="301.5" width="5.2" height="59" fill="#979797" stroke="#4a4a4a" stroke-width="0.6" />
<line x1="293.1" y1="301.5" x2="293.1" y2="294.1" stroke="#555" stroke-width="0.6" />
<line x1="292.1" y1="294.1" x2="294.1" y2="294.1" stroke="#555" stroke-width="0.6" />
<rect x="295.7" y="313.8" width="5.2" height="46.7" fill="#7a7a7a" stroke="#4a4a4a" stroke-width="0.6" />
<line x1="298.3" y1="313.8" x2="298.3" y2="303.9" stroke="#555" stroke-width="0.6" />
<line x1="297.3" y1="303.9" x2="299.3" y2="303.9" stroke="#555" stroke-width="0.6" />
<text x="290.5" y="369.4" font-size="5.0" text-anchor="middle" font-weight="normal" fill="#222" stroke="#222" stroke-width="0.15" font-family='"Liberation Sans", sans-serif' >RC-K8</text>
<rect x="307.5" y="344.1" width="5.2" height="16.4" fill="#ffffff" stroke="#4a4a4a" stroke-width="0.6" />
<line x1="310.1" y1="344.1" x2="310.1" y2="343.3" stroke="#555" stroke-width="0.6" />
<line x1="309.1" y1="343.3" x2="311.1" y2="343.3" stroke="#555" stroke-width="0.6" />
<rect x="312.7" y="332.6" width="5.2" height="27.9" fill="#b8b8b8" stroke="#4a4a4a" stroke-width="0.6" />
<line x1="315.3" y1="332.6" x2="315.3" y2="327.7" stroke="#555" stroke-width="0.6" />
<line x1="314.3" y1="327.7" x2="316.3" y2="327.7" stroke="#555" stroke-width="0.6" />
<rect x="317.9" y="318.4" width="5.2" height="42.1" fill="#979797" stroke="#4a4a4a" stroke-width="0.6" />
<line x1="320.5" y1="318.4" x2="320.5" y2="313.4" stroke="#555" stroke-width="0.6" />
<line x1="319.5" y1="313.4" x2="321.5" y2="313.4" stroke="#555" stroke-width="0.6" />
<rect x="323.1" y="318.2" width="5.2" height="42.3" fill="#7a7a7a" stroke="#4a4a4a" stroke-width="0.6" />
<line x1="325.7" y1="318.2" x2="325.7" y2="317.4" stroke="#555" stroke-width="0.6" />
<line x1="324.7" y1="317.4" x2="326.7" y2="317.4" stroke="#555" stroke-width="0.6" />
<text x="318" y="369.4" font-size="5.0" text-anchor="middle" font-weight="normal" fill="#222" stroke="#222" stroke-width="0.15" font-family='"Liberation Sans", sans-serif' >OCI-LY-10</text>
<rect x="334.9" y="344.1" width="5.2" height="16.4" fill="#ffffff" stroke="#4a4a4a" stroke-width="0.6" />
<line x1="337.5" y1="344.1" x2="337.5" y2="340" stroke="#555" stroke-width="0.6" />
<line x1="336.5" y1="340" x2="338.5" y2="340" stroke="#555" stroke-width="0.6" />
<rect x="340.1" y="321.1" width="5.2" height="39.4" fill="#b8b8b8" stroke="#4a4a4a" stroke-width="0.6" />
<line x1="342.7" y1="321.1" x2="342.7" y2="316.2" stroke="#555" stroke-width="0.6" />
<line x1="341.7" y1="316.2" x2="343.7" y2="316.2" stroke="#555" stroke-width="0.6" />
<rect x="345.3" y="329.3" width="5.2" height="31.2" fill="#979797" stroke="#4a4a4a" stroke-width="0.6" />
<line x1="347.9" y1="329.3" x2="347.9" y2="314.6" stroke="#555" stroke-width="0.6" />
<line x1="346.9" y1="314.6" x2="348.9" y2="314.6" stroke="#555" stroke-width="0.6" />
<rect x="350.5" y="344.9" width="5.2" height="15.6" fill="#7a7a7a" stroke="#4a4a4a" stroke-width="0.6" />
<line x1="353.1" y1="344.9" x2="353.1" y2="335.1" stroke="#555" stroke-width="0.6" />
<line x1="352.1" y1="335.1" x2="354.1" y2="335.1" stroke="#555" stroke-width="0.6" />
<text x="345.5" y="369.4" font-size="5.0" text-anchor="middle" font-weight="normal" fill="#222" stroke="#222" stroke-width="0.15" font-family='"Liberation Sans", sans-serif' >MC116</text>
<rect x="362.3" y="344.1" width="5.2" height="16.4" fill="#ffffff" stroke="#4a4a4a" stroke-width="0.6" />
<line x1="364.9" y1="344.1" x2="364.9" y2="343.4" stroke="#555" stroke-width="0.6" />
<line x1="363.9" y1="343.4" x2="365.9" y2="343.4" stroke="#555" stroke-width="0.6" />
<rect x="367.5" y="346.6" width="5.2" height="13.9" fill="#b8b8b8" stroke="#4a4a4a" stroke-width="0.6" />
<line x1="370.1" y1="346.6" x2="370.1" y2="344.9" stroke="#555" stroke-width="0.6" />
<line x1="369.1" y1="344.9" x2="371.1" y2="344.9" stroke="#555" stroke-width="0.6" />
<rect x="372.7" y="340.8" width="5.2" height="19.7" fill="#979797" stroke="#4a4a4a" stroke-width="0.6" />
<line x1="375.3" y1="340.8" x2="375.3" y2="339.2" stroke="#555" stroke-width="0.6" />
<line x1="374.3" y1="339.2" x2="376.3" y2="339.2" stroke="#555" stroke-width="0.6" />
<rect x="377.9" y="343.3" width="5.2" height="17.2" fill="#7a7a7a" stroke="#4a4a4a" stroke-width="0.6" />
<line x1="380.5" y1="343.3" x2="380.5" y2="342.6" stroke="#555" stroke-width="0.6" />
<line x1="379.5" y1="342.6" x2="381.5" y2="342.6" stroke="#555" stroke-width="0.6" />
<text x="373" y="369.4" font-size="5.0" text-anchor="middle" font-weight="normal" fill="#222" stroke="#222" stroke-width="0.15" font-family='"Liberation Sans", sans-serif' >OCI-LY-3</text>
<path d="M282.5 290.4 V287.4 H285.8 M289.1 287.4 H292.4 V290.4" fill="none" stroke="#222" stroke-width="0.9"/>
<circle cx="287.2" cy="287.4" r="0.55" fill="#222"/>
<path d="M281.3 289.6 L283.7 289.6 L282.5 291.4 Z" fill="#111"/>
<path d="M291.2 289.6 L293.6 289.6 L292.4 291.4 Z" fill="#111"/>
<path d="M309.3 308.4 V305.4 H313 M316.2 305.4 H320 V308.4" fill="none" stroke="#222" stroke-width="0.9"/>
<circle cx="314.4" cy="305.4" r="0.55" fill="#222"/>
<path d="M308.1 307.6 L310.5 307.6 L309.3 309.4 Z" fill="#111"/>
<path d="M318.8 307.6 L321.2 307.6 L320 309.4 Z" fill="#111"/>
<path d="M336.3 308.6 V305.6 H337.9 M341.1 305.6 H342.6 V308.6" fill="none" stroke="#222" stroke-width="0.9"/>
<circle cx="339.3" cy="305.6" r="0.55" fill="#222"/>
<path d="M335.1 307.8 L337.5 307.8 L336.3 309.6 Z" fill="#111"/>
<path d="M341.4 307.8 L343.8 307.8 L342.6 309.6 Z" fill="#111"/>
</g>
</svg>
</body></html>
